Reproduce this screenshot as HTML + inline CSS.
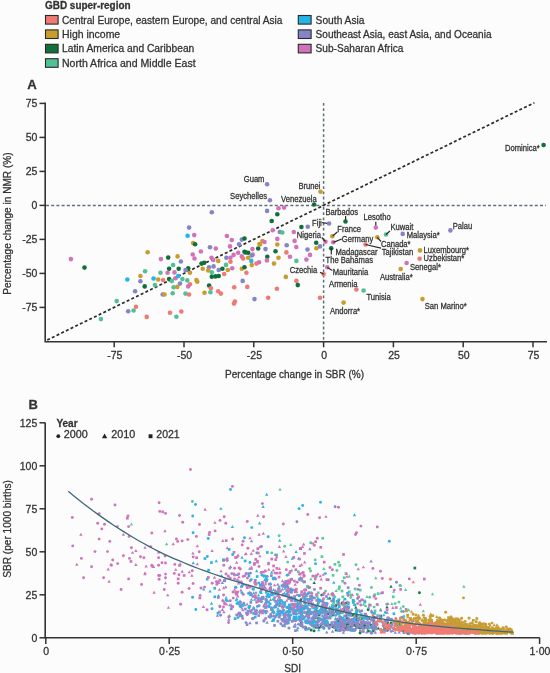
<!DOCTYPE html><html><head><meta charset="utf-8"><style>html,body{margin:0;padding:0;background:#fcfcfc;}svg{display:block;filter:blur(0.3px)}text{font-family:"Liberation Sans",sans-serif;fill:#333333;stroke:#333333;stroke-width:0.28px}</style></head><body>
<svg width="550" height="673" viewBox="0 0 550 673">
<text x="45" y="8.6" font-size="10" font-weight="bold" textLength="85.6" lengthAdjust="spacingAndGlyphs">GBD super-region</text>
<rect x="45.5" y="15.5" width="12.6" height="8.6" fill="#ef7a74" stroke="#2a2a2a" stroke-width="1.1"/>
<text x="62" y="23.5" font-size="10.4" textLength="220.5" lengthAdjust="spacingAndGlyphs">Central Europe, eastern Europe, and central Asia</text>
<rect x="45.5" y="29.9" width="12.6" height="8.6" fill="#c99c2e" stroke="#2a2a2a" stroke-width="1.1"/>
<text x="62" y="37.9" font-size="10.4" textLength="58.2" lengthAdjust="spacingAndGlyphs">High income</text>
<rect x="45.5" y="44.3" width="12.6" height="8.6" fill="#0f703a" stroke="#2a2a2a" stroke-width="1.1"/>
<text x="62" y="52.3" font-size="10.4" textLength="132.3" lengthAdjust="spacingAndGlyphs">Latin America and Caribbean</text>
<rect x="45.5" y="58.7" width="12.6" height="8.6" fill="#4fc194" stroke="#2a2a2a" stroke-width="1.1"/>
<text x="62" y="66.7" font-size="10.4" textLength="133.6" lengthAdjust="spacingAndGlyphs">North Africa and Middle East</text>
<rect x="298.3" y="15.5" width="12.8" height="8.6" fill="#22b5e5" stroke="#2a2a2a" stroke-width="1.1"/>
<text x="315.6" y="23.5" font-size="10.4" textLength="48.9" lengthAdjust="spacingAndGlyphs">South Asia</text>
<rect x="298.3" y="29.9" width="12.8" height="8.6" fill="#8584c8" stroke="#2a2a2a" stroke-width="1.1"/>
<text x="315.6" y="37.9" font-size="10.4" textLength="175.9" lengthAdjust="spacingAndGlyphs">Southeast Asia, east Asia, and Oceania</text>
<rect x="298.3" y="44.3" width="12.8" height="8.6" fill="#d272b8" stroke="#2a2a2a" stroke-width="1.1"/>
<text x="315.6" y="52.3" font-size="10.4" textLength="87.8" lengthAdjust="spacingAndGlyphs">Sub-Saharan Africa</text>
<text x="27.2" y="88.9" font-size="13.2" font-weight="bold" fill="#222">A</text>
<path d="M45.2 102.6 V341.8 H547" fill="none" stroke="#333" stroke-width="1.6"/>
<path d="M39.5 103.4 H45" stroke="#333" stroke-width="1.5"/>
<text x="37.4" y="107.2" font-size="10.5" text-anchor="end">75</text>
<path d="M39.5 137.4 H45" stroke="#333" stroke-width="1.5"/>
<text x="37.4" y="141.2" font-size="10.5" text-anchor="end">50</text>
<path d="M39.5 171.4 H45" stroke="#333" stroke-width="1.5"/>
<text x="37.4" y="175.2" font-size="10.5" text-anchor="end">25</text>
<path d="M39.5 205.4 H45" stroke="#333" stroke-width="1.5"/>
<text x="37.4" y="209.2" font-size="10.5" text-anchor="end">0</text>
<path d="M39.5 239.4 H45" stroke="#333" stroke-width="1.5"/>
<text x="37.4" y="243.2" font-size="10.5" text-anchor="end">-25</text>
<path d="M39.5 273.4 H45" stroke="#333" stroke-width="1.5"/>
<text x="37.4" y="277.2" font-size="10.5" text-anchor="end">-50</text>
<path d="M39.5 307.4 H45" stroke="#333" stroke-width="1.5"/>
<text x="37.4" y="311.2" font-size="10.5" text-anchor="end">-75</text>
<path d="M114.2 341.8 V347.3" stroke="#333" stroke-width="1.5"/>
<text x="114.8" y="358.5" font-size="10.5" text-anchor="middle">-75</text>
<path d="M184.0 341.8 V347.3" stroke="#333" stroke-width="1.5"/>
<text x="184.6" y="358.5" font-size="10.5" text-anchor="middle">-50</text>
<path d="M253.8 341.8 V347.3" stroke="#333" stroke-width="1.5"/>
<text x="254.4" y="358.5" font-size="10.5" text-anchor="middle">-25</text>
<path d="M323.6 341.8 V347.3" stroke="#333" stroke-width="1.5"/>
<text x="324.2" y="358.5" font-size="10.5" text-anchor="middle">0</text>
<path d="M393.4 341.8 V347.3" stroke="#333" stroke-width="1.5"/>
<text x="394.0" y="358.5" font-size="10.5" text-anchor="middle">25</text>
<path d="M463.2 341.8 V347.3" stroke="#333" stroke-width="1.5"/>
<text x="463.8" y="358.5" font-size="10.5" text-anchor="middle">50</text>
<path d="M533.0 341.8 V347.3" stroke="#333" stroke-width="1.5"/>
<text x="533.6" y="358.5" font-size="10.5" text-anchor="middle">75</text>
<text x="294.6" y="378.2" font-size="10" text-anchor="middle">Percentage change in SBR (%)</text>
<text transform="translate(11.2 223.6) rotate(-90)" font-size="10.1" text-anchor="middle">Percentage change in NMR (%)</text>
<path d="M323.6 103 V341" stroke="#5f7077" stroke-width="1.5" stroke-dasharray="2.8 2.4"/>
<path d="M46 205.4 H546" stroke="#5f7077" stroke-width="1.5" stroke-dasharray="3 2.2"/>
<path d="M47.2 340.0 L534.4 102.7" stroke="#2b2b2b" stroke-width="1.7" stroke-dasharray="3 2.2"/>
<circle cx="70.9" cy="259.1" r="2.3" fill="#d272b8"/>
<circle cx="84.5" cy="267.6" r="2.3" fill="#0f703a"/>
<circle cx="147.6" cy="252.2" r="2.3" fill="#c99c2e"/>
<circle cx="145.1" cy="271.3" r="2.3" fill="#4fc194"/>
<circle cx="140.4" cy="276.0" r="2.3" fill="#c99c2e"/>
<circle cx="127.3" cy="279.5" r="2.3" fill="#22b5e5"/>
<circle cx="140.4" cy="281.3" r="2.3" fill="#8584c8"/>
<circle cx="153.6" cy="278.5" r="2.3" fill="#22b5e5"/>
<circle cx="158.2" cy="279.5" r="2.3" fill="#c99c2e"/>
<circle cx="160.5" cy="272.8" r="2.3" fill="#4fc194"/>
<circle cx="144.7" cy="286.4" r="2.3" fill="#0f703a"/>
<circle cx="154.9" cy="285.1" r="2.3" fill="#4fc194"/>
<circle cx="135.1" cy="291.3" r="2.3" fill="#8584c8"/>
<circle cx="116.7" cy="301.1" r="2.3" fill="#4fc194"/>
<circle cx="136.0" cy="306.7" r="2.3" fill="#ef7a74"/>
<circle cx="128.2" cy="311.3" r="2.3" fill="#8584c8"/>
<circle cx="133.6" cy="310.5" r="2.3" fill="#4fc194"/>
<circle cx="146.7" cy="316.9" r="2.3" fill="#ef7a74"/>
<circle cx="100.9" cy="319.1" r="2.3" fill="#4fc194"/>
<circle cx="211.8" cy="212.2" r="2.3" fill="#8584c8"/>
<circle cx="189.1" cy="227.6" r="2.3" fill="#8584c8"/>
<circle cx="187.6" cy="235.8" r="2.3" fill="#22b5e5"/>
<circle cx="194.2" cy="235.1" r="2.3" fill="#d272b8"/>
<circle cx="193.1" cy="243.1" r="2.3" fill="#c99c2e"/>
<circle cx="195.1" cy="244.2" r="2.3" fill="#0f703a"/>
<circle cx="226.9" cy="236.0" r="2.3" fill="#d272b8"/>
<circle cx="231.8" cy="240.0" r="2.3" fill="#d272b8"/>
<circle cx="241.8" cy="239.6" r="2.3" fill="#8584c8"/>
<circle cx="244.5" cy="238.5" r="2.3" fill="#0f703a"/>
<circle cx="239.1" cy="244.2" r="2.3" fill="#8584c8"/>
<circle cx="230.0" cy="246.4" r="2.3" fill="#d272b8"/>
<circle cx="210.0" cy="247.3" r="2.3" fill="#8584c8"/>
<circle cx="215.8" cy="248.5" r="2.3" fill="#d272b8"/>
<circle cx="200.9" cy="251.5" r="2.3" fill="#d272b8"/>
<circle cx="192.7" cy="254.5" r="2.3" fill="#d272b8"/>
<circle cx="194.5" cy="258.5" r="2.3" fill="#d272b8"/>
<circle cx="168.2" cy="257.6" r="2.3" fill="#0f703a"/>
<circle cx="177.6" cy="256.4" r="2.3" fill="#c99c2e"/>
<circle cx="160.9" cy="259.1" r="2.3" fill="#d272b8"/>
<circle cx="180.9" cy="261.5" r="2.3" fill="#8584c8"/>
<circle cx="173.1" cy="265.0" r="2.3" fill="#4fc194"/>
<circle cx="169.1" cy="268.7" r="2.3" fill="#0f703a"/>
<circle cx="178.7" cy="268.7" r="2.3" fill="#0f703a"/>
<circle cx="211.5" cy="257.8" r="2.3" fill="#d272b8"/>
<circle cx="213.3" cy="260.0" r="2.3" fill="#d272b8"/>
<circle cx="218.2" cy="260.9" r="2.3" fill="#c99c2e"/>
<circle cx="201.5" cy="263.6" r="2.3" fill="#0f703a"/>
<circle cx="204.2" cy="262.7" r="2.3" fill="#0f703a"/>
<circle cx="226.4" cy="257.8" r="2.3" fill="#8584c8"/>
<circle cx="230.5" cy="257.8" r="2.3" fill="#d272b8"/>
<circle cx="233.6" cy="254.9" r="2.3" fill="#d272b8"/>
<circle cx="238.2" cy="252.7" r="2.3" fill="#d272b8"/>
<circle cx="230.5" cy="261.8" r="2.3" fill="#ef7a74"/>
<circle cx="244.5" cy="251.8" r="2.3" fill="#0f703a"/>
<circle cx="248.2" cy="252.7" r="2.3" fill="#0f703a"/>
<circle cx="241.8" cy="256.4" r="2.3" fill="#d272b8"/>
<circle cx="243.1" cy="258.5" r="2.3" fill="#ef7a74"/>
<circle cx="226.0" cy="264.9" r="2.3" fill="#4fc194"/>
<circle cx="213.6" cy="266.4" r="2.3" fill="#8584c8"/>
<circle cx="202.7" cy="268.7" r="2.3" fill="#c99c2e"/>
<circle cx="188.2" cy="268.2" r="2.3" fill="#0f703a"/>
<circle cx="241.8" cy="268.7" r="2.3" fill="#c99c2e"/>
<circle cx="244.5" cy="267.3" r="2.3" fill="#0f703a"/>
<circle cx="267.1" cy="184.2" r="2.3" fill="#8584c8"/>
<circle cx="269.9" cy="200.2" r="2.3" fill="#8584c8"/>
<circle cx="320.5" cy="191.8" r="2.3" fill="#c99c2e"/>
<circle cx="314.1" cy="204.5" r="2.3" fill="#0f703a"/>
<circle cx="345.5" cy="221.5" r="2.3" fill="#0f703a"/>
<circle cx="329.0" cy="223.5" r="2.3" fill="#8584c8"/>
<circle cx="332.3" cy="236.2" r="2.3" fill="#c99c2e"/>
<circle cx="325.5" cy="241.8" r="2.3" fill="#d272b8"/>
<circle cx="333.2" cy="242.2" r="2.3" fill="#d272b8"/>
<circle cx="278.5" cy="208.3" r="2.3" fill="#d272b8"/>
<circle cx="284.1" cy="207.6" r="2.3" fill="#d272b8"/>
<circle cx="267.1" cy="210.9" r="2.3" fill="#8584c8"/>
<circle cx="277.3" cy="214.2" r="2.3" fill="#0f703a"/>
<circle cx="271.7" cy="221.0" r="2.3" fill="#0f703a"/>
<circle cx="307.8" cy="226.7" r="2.3" fill="#8584c8"/>
<circle cx="301.4" cy="227.0" r="2.3" fill="#0f703a"/>
<circle cx="272.7" cy="230.2" r="2.3" fill="#d272b8"/>
<circle cx="279.8" cy="232.0" r="2.3" fill="#8584c8"/>
<circle cx="282.3" cy="232.5" r="2.3" fill="#4fc194"/>
<circle cx="293.8" cy="232.0" r="2.3" fill="#d272b8"/>
<circle cx="262.4" cy="241.0" r="2.3" fill="#c99c2e"/>
<circle cx="264.5" cy="242.0" r="2.3" fill="#d272b8"/>
<circle cx="259.4" cy="244.0" r="2.3" fill="#c99c2e"/>
<circle cx="277.3" cy="244.5" r="2.3" fill="#c99c2e"/>
<circle cx="277.3" cy="238.9" r="2.3" fill="#d272b8"/>
<circle cx="294.6" cy="240.9" r="2.3" fill="#d272b8"/>
<circle cx="286.7" cy="245.2" r="2.3" fill="#8584c8"/>
<circle cx="296.3" cy="247.0" r="2.3" fill="#d272b8"/>
<circle cx="316.2" cy="242.7" r="2.3" fill="#0f703a"/>
<circle cx="307.5" cy="249.5" r="2.3" fill="#8584c8"/>
<circle cx="331.2" cy="248.3" r="2.3" fill="#0f703a"/>
<circle cx="258.2" cy="248.5" r="2.3" fill="#0f703a"/>
<circle cx="260.0" cy="244.5" r="2.3" fill="#c99c2e"/>
<circle cx="265.5" cy="249.1" r="2.3" fill="#8584c8"/>
<circle cx="252.4" cy="249.1" r="2.3" fill="#d272b8"/>
<circle cx="245.5" cy="252.4" r="2.3" fill="#0f703a"/>
<circle cx="252.7" cy="254.5" r="2.3" fill="#d272b8"/>
<circle cx="275.5" cy="251.3" r="2.3" fill="#0f703a"/>
<circle cx="286.4" cy="252.4" r="2.3" fill="#ef7a74"/>
<circle cx="310.0" cy="254.9" r="2.3" fill="#d272b8"/>
<circle cx="316.4" cy="248.2" r="2.3" fill="#c99c2e"/>
<circle cx="320.0" cy="246.4" r="2.3" fill="#8584c8"/>
<circle cx="248.2" cy="257.8" r="2.3" fill="#c99c2e"/>
<circle cx="251.8" cy="255.5" r="2.3" fill="#8584c8"/>
<circle cx="267.3" cy="256.7" r="2.3" fill="#0f703a"/>
<circle cx="266.9" cy="260.4" r="2.3" fill="#d272b8"/>
<circle cx="278.5" cy="257.8" r="2.3" fill="#c99c2e"/>
<circle cx="290.0" cy="256.7" r="2.3" fill="#d272b8"/>
<circle cx="296.4" cy="260.9" r="2.3" fill="#4fc194"/>
<circle cx="306.4" cy="259.6" r="2.3" fill="#d272b8"/>
<circle cx="251.3" cy="260.9" r="2.3" fill="#22b5e5"/>
<circle cx="256.4" cy="263.6" r="2.3" fill="#ef7a74"/>
<circle cx="259.1" cy="262.2" r="2.3" fill="#d272b8"/>
<circle cx="251.8" cy="265.1" r="2.3" fill="#c99c2e"/>
<circle cx="274.0" cy="263.6" r="2.3" fill="#c99c2e"/>
<circle cx="246.4" cy="272.7" r="2.3" fill="#ef7a74"/>
<circle cx="323.6" cy="274.0" r="2.3" fill="#ef7a74"/>
<circle cx="285.8" cy="276.9" r="2.3" fill="#c99c2e"/>
<circle cx="296.4" cy="280.9" r="2.3" fill="#ef7a74"/>
<circle cx="297.8" cy="285.1" r="2.3" fill="#0f703a"/>
<circle cx="242.7" cy="280.9" r="2.3" fill="#8584c8"/>
<circle cx="247.3" cy="286.9" r="2.3" fill="#ef7a74"/>
<circle cx="276.9" cy="288.7" r="2.3" fill="#ef7a74"/>
<circle cx="254.5" cy="299.1" r="2.3" fill="#8584c8"/>
<circle cx="268.2" cy="297.8" r="2.3" fill="#ef7a74"/>
<circle cx="320.0" cy="297.8" r="2.3" fill="#ef7a74"/>
<circle cx="327.3" cy="267.3" r="2.3" fill="#d272b8"/>
<circle cx="167.6" cy="272.7" r="2.3" fill="#d272b8"/>
<circle cx="174.5" cy="272.4" r="2.3" fill="#d272b8"/>
<circle cx="185.5" cy="270.0" r="2.3" fill="#8584c8"/>
<circle cx="190.0" cy="272.7" r="2.3" fill="#c99c2e"/>
<circle cx="209.0" cy="267.3" r="2.3" fill="#8584c8"/>
<circle cx="208.2" cy="270.4" r="2.3" fill="#c99c2e"/>
<circle cx="218.7" cy="270.0" r="2.3" fill="#8584c8"/>
<circle cx="222.4" cy="268.7" r="2.3" fill="#0f703a"/>
<circle cx="227.8" cy="270.0" r="2.3" fill="#c99c2e"/>
<circle cx="232.2" cy="268.2" r="2.3" fill="#d272b8"/>
<circle cx="224.2" cy="274.0" r="2.3" fill="#ef7a74"/>
<circle cx="211.8" cy="272.4" r="2.3" fill="#4fc194"/>
<circle cx="211.8" cy="276.7" r="2.3" fill="#0f703a"/>
<circle cx="215.5" cy="276.4" r="2.3" fill="#0f703a"/>
<circle cx="218.7" cy="276.0" r="2.3" fill="#0f703a"/>
<circle cx="163.1" cy="280.0" r="2.3" fill="#ef7a74"/>
<circle cx="169.1" cy="279.1" r="2.3" fill="#0f703a"/>
<circle cx="171.8" cy="280.9" r="2.3" fill="#4fc194"/>
<circle cx="175.5" cy="278.2" r="2.3" fill="#d272b8"/>
<circle cx="178.2" cy="276.0" r="2.3" fill="#22b5e5"/>
<circle cx="182.4" cy="279.1" r="2.3" fill="#4fc194"/>
<circle cx="187.3" cy="280.4" r="2.3" fill="#4fc194"/>
<circle cx="196.4" cy="280.0" r="2.3" fill="#c99c2e"/>
<circle cx="197.3" cy="281.8" r="2.3" fill="#c99c2e"/>
<circle cx="180.0" cy="283.6" r="2.3" fill="#8584c8"/>
<circle cx="190.0" cy="284.2" r="2.3" fill="#ef7a74"/>
<circle cx="188.2" cy="286.4" r="2.3" fill="#d272b8"/>
<circle cx="173.6" cy="287.3" r="2.3" fill="#4fc194"/>
<circle cx="177.3" cy="286.9" r="2.3" fill="#c99c2e"/>
<circle cx="209.1" cy="285.5" r="2.3" fill="#0f703a"/>
<circle cx="210.9" cy="288.2" r="2.3" fill="#ef7a74"/>
<circle cx="234.2" cy="287.3" r="2.3" fill="#ef7a74"/>
<circle cx="162.7" cy="294.5" r="2.3" fill="#8584c8"/>
<circle cx="164.5" cy="294.5" r="2.3" fill="#c99c2e"/>
<circle cx="172.7" cy="293.3" r="2.3" fill="#4fc194"/>
<circle cx="185.5" cy="293.6" r="2.3" fill="#4fc194"/>
<circle cx="189.1" cy="294.5" r="2.3" fill="#ef7a74"/>
<circle cx="204.5" cy="292.7" r="2.3" fill="#c99c2e"/>
<circle cx="210.4" cy="292.2" r="2.3" fill="#4fc194"/>
<circle cx="218.2" cy="291.3" r="2.3" fill="#ef7a74"/>
<circle cx="220.9" cy="293.6" r="2.3" fill="#ef7a74"/>
<circle cx="234.9" cy="301.5" r="2.3" fill="#ef7a74"/>
<circle cx="234.0" cy="303.6" r="2.3" fill="#ef7a74"/>
<circle cx="170.0" cy="312.7" r="2.3" fill="#ef7a74"/>
<circle cx="181.3" cy="311.5" r="2.3" fill="#ef7a74"/>
<circle cx="176.4" cy="316.7" r="2.3" fill="#4fc194"/>
<circle cx="375.8" cy="227.6" r="2.3" fill="#d272b8"/>
<circle cx="386.0" cy="234.5" r="2.3" fill="#4fc194"/>
<circle cx="402.7" cy="233.9" r="2.3" fill="#8584c8"/>
<circle cx="377.3" cy="237.3" r="2.3" fill="#c99c2e"/>
<circle cx="365.5" cy="244.5" r="2.3" fill="#ef7a74"/>
<circle cx="406.6" cy="263.0" r="2.3" fill="#d272b8"/>
<circle cx="400.7" cy="269.0" r="2.3" fill="#c99c2e"/>
<circle cx="450.4" cy="230.4" r="2.3" fill="#8584c8"/>
<circle cx="420.0" cy="250.4" r="2.3" fill="#c99c2e"/>
<circle cx="419.6" cy="258.7" r="2.3" fill="#ef7a74"/>
<circle cx="356.4" cy="289.5" r="2.3" fill="#ef7a74"/>
<circle cx="363.6" cy="290.5" r="2.3" fill="#4fc194"/>
<circle cx="343.6" cy="302.6" r="2.3" fill="#c99c2e"/>
<circle cx="422.5" cy="299.1" r="2.3" fill="#c99c2e"/>
<circle cx="543.6" cy="145.0" r="2.3" fill="#0f703a"/>
<text x="264.5" y="181.6" font-size="8.2" text-anchor="end" textLength="20.8" lengthAdjust="spacingAndGlyphs">Guam</text>
<text x="267.0" y="199.4" font-size="8.2" text-anchor="end" textLength="36.9" lengthAdjust="spacingAndGlyphs">Seychelles</text>
<text x="320.5" y="188.5" font-size="8.2" text-anchor="end" textLength="22.0" lengthAdjust="spacingAndGlyphs">Brunei</text>
<text x="316.7" y="202.0" font-size="8.2" text-anchor="end" textLength="35.6" lengthAdjust="spacingAndGlyphs">Venezuela</text>
<text x="325.5" y="214.5" font-size="8.2" text-anchor="start" textLength="32.6" lengthAdjust="spacingAndGlyphs">Barbados</text>
<text x="321.8" y="225.5" font-size="8.2" text-anchor="end" textLength="9.7" lengthAdjust="spacingAndGlyphs">Fiji</text>
<text x="337.3" y="232.4" font-size="8.2" text-anchor="start" textLength="23.7" lengthAdjust="spacingAndGlyphs">France</text>
<text x="321.0" y="237.5" font-size="8.2" text-anchor="end" textLength="24.2" lengthAdjust="spacingAndGlyphs">Nigeria</text>
<text x="341.8" y="241.5" font-size="8.2" text-anchor="start" textLength="31.4" lengthAdjust="spacingAndGlyphs">Germany</text>
<text x="363.6" y="220.0" font-size="8.2" text-anchor="start" textLength="27.1" lengthAdjust="spacingAndGlyphs">Lesotho</text>
<text x="390.5" y="229.5" font-size="8.2" text-anchor="start" textLength="22.9" lengthAdjust="spacingAndGlyphs">Kuwait</text>
<text x="406.7" y="237.6" font-size="8.2" text-anchor="start" textLength="33.1" lengthAdjust="spacingAndGlyphs">Malaysia*</text>
<text x="452.7" y="228.5" font-size="8.2" text-anchor="start" textLength="19.5" lengthAdjust="spacingAndGlyphs">Palau</text>
<text x="380.9" y="247.0" font-size="8.2" text-anchor="start" textLength="29.7" lengthAdjust="spacingAndGlyphs">Canada*</text>
<text x="381.8" y="255.0" font-size="8.2" text-anchor="start" textLength="31.4" lengthAdjust="spacingAndGlyphs">Tajikistan</text>
<text x="335.5" y="255.0" font-size="8.2" text-anchor="start" textLength="42.0" lengthAdjust="spacingAndGlyphs">Madagascar</text>
<text x="325.5" y="263.0" font-size="8.2" text-anchor="start" textLength="47.5" lengthAdjust="spacingAndGlyphs">The Bahamas</text>
<text x="423.6" y="252.5" font-size="8.2" text-anchor="start" textLength="45.4" lengthAdjust="spacingAndGlyphs">Luxembourg*</text>
<text x="423.6" y="260.8" font-size="8.2" text-anchor="start" textLength="40.7" lengthAdjust="spacingAndGlyphs">Uzbekistan*</text>
<text x="410.0" y="270.0" font-size="8.2" text-anchor="start" textLength="31.0" lengthAdjust="spacingAndGlyphs">Senegal*</text>
<text x="380.0" y="279.5" font-size="8.2" text-anchor="start" textLength="32.6" lengthAdjust="spacingAndGlyphs">Australia*</text>
<text x="317.3" y="273.0" font-size="8.2" text-anchor="end" textLength="27.6" lengthAdjust="spacingAndGlyphs">Czechia</text>
<text x="332.7" y="274.8" font-size="8.2" text-anchor="start" textLength="35.6" lengthAdjust="spacingAndGlyphs">Mauritania</text>
<text x="329.1" y="286.5" font-size="8.2" text-anchor="start" textLength="28.4" lengthAdjust="spacingAndGlyphs">Armenia</text>
<text x="366.4" y="299.8" font-size="8.2" text-anchor="start" textLength="24.3" lengthAdjust="spacingAndGlyphs">Tunisia</text>
<text x="330.0" y="313.5" font-size="8.2" text-anchor="start" textLength="30.1" lengthAdjust="spacingAndGlyphs">Andorra*</text>
<text x="424.7" y="308.7" font-size="8.2" text-anchor="start" textLength="42.0" lengthAdjust="spacingAndGlyphs">San Marino*</text>
<text x="539.8" y="150.7" font-size="8.2" text-anchor="end" textLength="34.8" lengthAdjust="spacingAndGlyphs">Dominica*</text>
<path d="M345.6 216.0 L345.6 220.0" stroke="#2a2a2a" stroke-width="1.2"/>
<path d="M321.8 222.5 L327.0 223.4" stroke="#2a2a2a" stroke-width="1.2"/>
<path d="M337.3 232.0 L332.7 236.0" stroke="#2a2a2a" stroke-width="1.2"/>
<path d="M321.8 237.5 L325.5 241.5" stroke="#2a2a2a" stroke-width="1.2"/>
<path d="M341.8 239.0 L333.3 242.4" stroke="#2a2a2a" stroke-width="1.2"/>
<path d="M375.8 221.8 L375.8 225.5" stroke="#2a2a2a" stroke-width="1.2"/>
<path d="M390.0 231.0 L386.0 234.5" stroke="#2a2a2a" stroke-width="1.2"/>
<path d="M377.3 237.3 L381.0 241.5" stroke="#2a2a2a" stroke-width="1.2"/>
<path d="M365.5 244.5 L381.0 248.2" stroke="#2a2a2a" stroke-width="1.2"/>
<path d="M331.3 248.2 L331.3 254.5" stroke="#2a2a2a" stroke-width="1.2"/>
<path d="M327.3 267.4 L332.3 270.5" stroke="#2a2a2a" stroke-width="1.2"/>
<path d="M320.0 272.3 L323.6 274.1" stroke="#2a2a2a" stroke-width="1.2"/>
<text x="28.6" y="408.6" font-size="13" font-weight="bold" fill="#222">B</text>
<path d="M45.2 422.4 V637.8 H539.8" fill="none" stroke="#333" stroke-width="1.6"/>
<path d="M39.5 422.8 H45" stroke="#333" stroke-width="1.5"/>
<text x="37.3" y="426.6" font-size="10.5" text-anchor="end">125</text>
<path d="M39.5 465.8 H45" stroke="#333" stroke-width="1.5"/>
<text x="37.3" y="469.6" font-size="10.5" text-anchor="end">100</text>
<path d="M39.5 508.8 H45" stroke="#333" stroke-width="1.5"/>
<text x="37.3" y="512.6" font-size="10.5" text-anchor="end">75</text>
<path d="M39.5 551.8 H45" stroke="#333" stroke-width="1.5"/>
<text x="37.3" y="555.6" font-size="10.5" text-anchor="end">50</text>
<path d="M39.5 594.8 H45" stroke="#333" stroke-width="1.5"/>
<text x="37.3" y="598.6" font-size="10.5" text-anchor="end">25</text>
<path d="M39.5 637.8 H45" stroke="#333" stroke-width="1.5"/>
<text x="37.3" y="641.6" font-size="10.5" text-anchor="end">0</text>
<path d="M45.8 637.8 V644" stroke="#333" stroke-width="1.5"/>
<text x="46.1" y="654.8" font-size="10.5" text-anchor="middle">0</text>
<path d="M169.2 637.8 V644" stroke="#333" stroke-width="1.5"/>
<text x="169.6" y="654.8" font-size="10.5" text-anchor="middle">0·25</text>
<path d="M292.7 637.8 V644" stroke="#333" stroke-width="1.5"/>
<text x="293.0" y="654.8" font-size="10.5" text-anchor="middle">0·50</text>
<path d="M416.2 637.8 V644" stroke="#333" stroke-width="1.5"/>
<text x="416.5" y="654.8" font-size="10.5" text-anchor="middle">0·75</text>
<path d="M539.6 637.8 V644" stroke="#333" stroke-width="1.5"/>
<text x="539.9" y="654.8" font-size="10.5" text-anchor="middle">1·00</text>
<text x="292.7" y="672" font-size="10" text-anchor="middle">SDI</text>
<text transform="translate(11.4 528.9) rotate(-90)" font-size="10.1" text-anchor="middle">SBR (per 1000 births)</text>
<text x="56.4" y="426.5" font-size="10" font-weight="bold">Year</text>
<circle cx="58.3" cy="436.2" r="1.9" fill="#222"/><text x="63.8" y="438.4" font-size="10.4" textLength="24" lengthAdjust="spacingAndGlyphs">2000</text>
<path d="M101.9 438.3 L107.3 438.3 L104.6 433.6 Z" fill="#222"/><text x="111.2" y="438.4" font-size="10.4" textLength="24" lengthAdjust="spacingAndGlyphs">2010</text>
<rect x="148.6" y="434.3" width="3.9" height="3.9" fill="#222"/><text x="156.3" y="438.4" font-size="10.4" textLength="23.4" lengthAdjust="spacingAndGlyphs">2021</text>
<g><circle cx="356.0" cy="564.8" r="1.45" fill="#5cc89e"/><path d="M354.2 599.1l1.67 2.97h-3.33z" fill="#5cc89e"/><circle cx="271.8" cy="552.9" r="1.45" fill="#5cc89e"/><circle cx="367.6" cy="628.3" r="1.45" fill="#1a7a44"/><rect x="373.7" y="609.5" width="2.67" height="2.67" fill="#5cc89e"/><circle cx="350.8" cy="597.4" r="1.45" fill="#5cc89e"/><rect x="320.0" y="611.5" width="2.67" height="2.67" fill="#5cc89e"/><circle cx="350.7" cy="622.2" r="1.45" fill="#5cc89e"/><path d="M354.1 603.1l1.67 2.97h-3.33z" fill="#5cc89e"/><path d="M332.9 606.0l1.67 2.97h-3.33z" fill="#1a7a44"/><circle cx="401.5" cy="611.5" r="1.45" fill="#5cc89e"/><path d="M314.2 581.0l1.67 2.97h-3.33z" fill="#1a7a44"/><rect x="345.9" y="600.8" width="2.67" height="2.67" fill="#5cc89e"/><path d="M381.9 629.8l1.67 2.97h-3.33z" fill="#1a7a44"/><rect x="331.0" y="610.6" width="2.67" height="2.67" fill="#1a7a44"/><circle cx="351.8" cy="609.9" r="1.45" fill="#5cc89e"/><rect x="328.1" y="610.0" width="2.67" height="2.67" fill="#5cc89e"/><rect x="309.8" y="628.7" width="2.67" height="2.67" fill="#1a7a44"/><path d="M373.1 629.0l1.67 2.97h-3.33z" fill="#1a7a44"/><circle cx="364.0" cy="624.0" r="1.45" fill="#1a7a44"/><circle cx="339.2" cy="605.7" r="1.45" fill="#5cc89e"/><rect x="372.1" y="628.4" width="2.67" height="2.67" fill="#1a7a44"/><circle cx="346.2" cy="628.5" r="1.45" fill="#1a7a44"/><rect x="325.8" y="611.9" width="2.67" height="2.67" fill="#5cc89e"/><rect x="411.1" y="629.5" width="2.67" height="2.67" fill="#1a7a44"/><circle cx="374.1" cy="607.1" r="1.45" fill="#5cc89e"/><circle cx="395.2" cy="603.6" r="1.45" fill="#5cc89e"/><path d="M347.5 611.5l1.67 2.97h-3.33z" fill="#1a7a44"/><path d="M377.7 602.9l1.67 2.97h-3.33z" fill="#5cc89e"/><circle cx="307.4" cy="612.7" r="1.45" fill="#1a7a44"/><path d="M324.8 618.9l1.67 2.97h-3.33z" fill="#1a7a44"/><path d="M369.3 616.7l1.67 2.97h-3.33z" fill="#1a7a44"/><path d="M341.2 622.0l1.67 2.97h-3.33z" fill="#1a7a44"/><circle cx="355.6" cy="618.0" r="1.45" fill="#5cc89e"/><path d="M338.1 610.2l1.67 2.97h-3.33z" fill="#1a7a44"/><circle cx="287.7" cy="562.1" r="1.45" fill="#5cc89e"/><path d="M319.6 609.2l1.67 2.97h-3.33z" fill="#1a7a44"/><rect x="339.5" y="611.4" width="2.67" height="2.67" fill="#1a7a44"/><circle cx="321.1" cy="626.5" r="1.45" fill="#1a7a44"/><circle cx="336.7" cy="604.8" r="1.45" fill="#5cc89e"/><rect x="402.3" y="629.4" width="2.67" height="2.67" fill="#1a7a44"/><path d="M357.6 613.1l1.67 2.97h-3.33z" fill="#5cc89e"/><rect x="344.5" y="623.8" width="2.67" height="2.67" fill="#1a7a44"/><path d="M356.8 609.2l1.67 2.97h-3.33z" fill="#5cc89e"/><path d="M388.0 626.5l1.67 2.97h-3.33z" fill="#1a7a44"/><circle cx="345.7" cy="625.5" r="1.45" fill="#1a7a44"/><rect x="354.6" y="624.0" width="2.67" height="2.67" fill="#1a7a44"/><path d="M318.0 601.3l1.67 2.97h-3.33z" fill="#1a7a44"/><path d="M310.9 577.4l1.67 2.97h-3.33z" fill="#5cc89e"/><rect x="317.8" y="613.7" width="2.67" height="2.67" fill="#1a7a44"/><circle cx="403.5" cy="616.7" r="1.45" fill="#5cc89e"/><circle cx="353.5" cy="614.4" r="1.45" fill="#1a7a44"/><path d="M364.4 623.4l1.67 2.97h-3.33z" fill="#1a7a44"/><circle cx="367.5" cy="627.3" r="1.45" fill="#1a7a44"/><rect x="317.0" y="626.0" width="2.67" height="2.67" fill="#1a7a44"/><path d="M335.5 622.6l1.67 2.97h-3.33z" fill="#1a7a44"/><path d="M367.0 595.1l1.67 2.97h-3.33z" fill="#5cc89e"/><path d="M372.4 625.2l1.67 2.97h-3.33z" fill="#1a7a44"/><rect x="372.8" y="616.1" width="2.67" height="2.67" fill="#1a7a44"/><circle cx="432.8" cy="626.4" r="1.45" fill="#5cc89e"/><rect x="376.3" y="614.2" width="2.67" height="2.67" fill="#5cc89e"/><path d="M375.8 576.3l1.67 2.97h-3.33z" fill="#5cc89e"/><circle cx="358.0" cy="626.7" r="1.45" fill="#1a7a44"/><rect x="333.6" y="563.0" width="2.67" height="2.67" fill="#5cc89e"/><rect x="311.3" y="606.5" width="2.67" height="2.67" fill="#5cc89e"/><path d="M365.5 623.7l1.67 2.97h-3.33z" fill="#1a7a44"/><circle cx="403.3" cy="606.6" r="1.45" fill="#5cc89e"/><circle cx="348.5" cy="624.1" r="1.45" fill="#1a7a44"/><circle cx="325.5" cy="591.1" r="1.45" fill="#5cc89e"/><rect x="309.0" y="612.4" width="2.67" height="2.67" fill="#1a7a44"/><rect x="341.5" y="602.8" width="2.67" height="2.67" fill="#1a7a44"/><rect x="338.4" y="564.1" width="2.67" height="2.67" fill="#5cc89e"/><circle cx="325.2" cy="624.6" r="1.45" fill="#1a7a44"/><circle cx="371.8" cy="627.6" r="1.45" fill="#1a7a44"/><circle cx="315.2" cy="559.9" r="1.45" fill="#5cc89e"/><circle cx="394.0" cy="620.8" r="1.45" fill="#5cc89e"/><circle cx="383.9" cy="626.5" r="1.45" fill="#1a7a44"/><rect x="296.9" y="608.3" width="2.67" height="2.67" fill="#1a7a44"/><rect x="342.8" y="576.4" width="2.67" height="2.67" fill="#5cc89e"/><rect x="347.9" y="590.5" width="2.67" height="2.67" fill="#5cc89e"/><rect x="336.6" y="620.0" width="2.67" height="2.67" fill="#1a7a44"/><rect x="297.0" y="570.4" width="2.67" height="2.67" fill="#5cc89e"/><rect x="391.9" y="595.5" width="2.67" height="2.67" fill="#5cc89e"/><path d="M347.9 627.5l1.67 2.97h-3.33z" fill="#1a7a44"/><rect x="341.4" y="579.9" width="2.67" height="2.67" fill="#5cc89e"/><path d="M378.2 626.6l1.67 2.97h-3.33z" fill="#1a7a44"/><rect x="322.7" y="617.5" width="2.67" height="2.67" fill="#1a7a44"/><path d="M407.6 630.7l1.67 2.97h-3.33z" fill="#1a7a44"/><circle cx="350.5" cy="594.8" r="1.45" fill="#5cc89e"/><path d="M356.2 625.7l1.67 2.97h-3.33z" fill="#1a7a44"/><rect x="420.2" y="631.3" width="2.67" height="2.67" fill="#1a7a44"/><circle cx="347.2" cy="623.8" r="1.45" fill="#1a7a44"/><rect x="342.8" y="609.2" width="2.67" height="2.67" fill="#1a7a44"/><circle cx="361.7" cy="627.5" r="1.45" fill="#1a7a44"/><path d="M387.0 605.4l1.67 2.97h-3.33z" fill="#1a7a44"/><rect x="344.6" y="572.2" width="2.67" height="2.67" fill="#5cc89e"/><circle cx="374.4" cy="628.0" r="1.45" fill="#1a7a44"/><rect x="317.0" y="611.8" width="2.67" height="2.67" fill="#1a7a44"/><rect x="337.5" y="602.3" width="2.67" height="2.67" fill="#5cc89e"/><path d="M342.1 624.5l1.67 2.97h-3.33z" fill="#1a7a44"/><path d="M314.8 609.2l1.67 2.97h-3.33z" fill="#1a7a44"/><circle cx="309.6" cy="568.6" r="1.45" fill="#5cc89e"/><rect x="337.6" y="587.6" width="2.67" height="2.67" fill="#5cc89e"/><path d="M340.7 608.3l1.67 2.97h-3.33z" fill="#5cc89e"/><rect x="336.2" y="609.2" width="2.67" height="2.67" fill="#1a7a44"/><path d="M423.3 609.4l1.67 2.97h-3.33z" fill="#5cc89e"/><circle cx="335.8" cy="605.8" r="1.45" fill="#1a7a44"/><rect x="304.4" y="626.5" width="2.67" height="2.67" fill="#1a7a44"/><rect x="302.5" y="605.5" width="2.67" height="2.67" fill="#1a7a44"/><rect x="326.6" y="612.5" width="2.67" height="2.67" fill="#1a7a44"/><circle cx="311.2" cy="623.6" r="1.45" fill="#1a7a44"/><path d="M355.8 605.8l1.67 2.97h-3.33z" fill="#1a7a44"/><path d="M326.1 621.6l1.67 2.97h-3.33z" fill="#1a7a44"/><rect x="351.7" y="628.8" width="2.67" height="2.67" fill="#1a7a44"/><circle cx="346.6" cy="613.3" r="1.45" fill="#5cc89e"/><circle cx="426.4" cy="627.6" r="1.45" fill="#5cc89e"/><circle cx="319.0" cy="602.5" r="1.45" fill="#5cc89e"/><rect x="321.6" y="599.1" width="2.67" height="2.67" fill="#5cc89e"/><rect x="342.2" y="622.8" width="2.67" height="2.67" fill="#1a7a44"/><rect x="330.4" y="593.1" width="2.67" height="2.67" fill="#5cc89e"/><rect x="340.7" y="589.7" width="2.67" height="2.67" fill="#5cc89e"/><rect x="368.1" y="603.5" width="2.67" height="2.67" fill="#5cc89e"/><rect x="339.0" y="625.1" width="2.67" height="2.67" fill="#1a7a44"/><path d="M361.5 623.8l1.67 2.97h-3.33z" fill="#1a7a44"/><rect x="366.1" y="617.6" width="2.67" height="2.67" fill="#5cc89e"/><circle cx="369.7" cy="597.2" r="1.45" fill="#5cc89e"/><rect x="358.9" y="588.8" width="2.67" height="2.67" fill="#5cc89e"/><rect x="320.6" y="555.3" width="2.67" height="2.67" fill="#5cc89e"/><circle cx="305.4" cy="595.7" r="1.45" fill="#5cc89e"/><path d="M336.2 589.1l1.67 2.97h-3.33z" fill="#5cc89e"/><path d="M360.2 623.3l1.67 2.97h-3.33z" fill="#5cc89e"/><circle cx="287.9" cy="595.2" r="1.45" fill="#5cc89e"/><rect x="350.7" y="613.9" width="2.67" height="2.67" fill="#1a7a44"/><rect x="338.1" y="585.5" width="2.67" height="2.67" fill="#5cc89e"/><path d="M363.9 616.3l1.67 2.97h-3.33z" fill="#5cc89e"/><rect x="395.2" y="623.3" width="2.67" height="2.67" fill="#1a7a44"/><circle cx="339.6" cy="616.3" r="1.45" fill="#5cc89e"/><circle cx="300.9" cy="599.8" r="1.45" fill="#1a7a44"/><rect x="288.0" y="606.6" width="2.67" height="2.67" fill="#1a7a44"/><rect x="355.9" y="618.6" width="2.67" height="2.67" fill="#5cc89e"/><circle cx="333.6" cy="603.4" r="1.45" fill="#5cc89e"/><path d="M289.9 595.4l1.67 2.97h-3.33z" fill="#1a7a44"/><circle cx="357.7" cy="578.7" r="1.45" fill="#5cc89e"/><circle cx="371.4" cy="587.5" r="1.45" fill="#5cc89e"/><path d="M359.5 623.0l1.67 2.97h-3.33z" fill="#1a7a44"/><path d="M418.6 630.1l1.67 2.97h-3.33z" fill="#1a7a44"/><path d="M329.8 596.6l1.67 2.97h-3.33z" fill="#1a7a44"/><circle cx="368.1" cy="609.8" r="1.45" fill="#1a7a44"/><rect x="309.4" y="541.4" width="2.67" height="2.67" fill="#5cc89e"/><rect x="376.8" y="592.3" width="2.67" height="2.67" fill="#5cc89e"/><path d="M333.6 593.1l1.67 2.97h-3.33z" fill="#5cc89e"/><path d="M307.2 584.5l1.67 2.97h-3.33z" fill="#5cc89e"/><path d="M326.4 623.5l1.67 2.97h-3.33z" fill="#1a7a44"/><path d="M404.0 614.2l1.67 2.97h-3.33z" fill="#5cc89e"/><rect x="299.8" y="624.0" width="2.67" height="2.67" fill="#1a7a44"/><circle cx="345.5" cy="603.4" r="1.45" fill="#1a7a44"/><rect x="314.3" y="605.2" width="2.67" height="2.67" fill="#1a7a44"/><rect x="300.4" y="579.2" width="2.67" height="2.67" fill="#5cc89e"/><path d="M359.0 608.3l1.67 2.97h-3.33z" fill="#5cc89e"/><rect x="314.1" y="575.3" width="2.67" height="2.67" fill="#5cc89e"/><path d="M380.6 607.7l1.67 2.97h-3.33z" fill="#5cc89e"/><rect x="337.3" y="599.3" width="2.67" height="2.67" fill="#5cc89e"/><rect x="384.6" y="628.4" width="2.67" height="2.67" fill="#1a7a44"/><circle cx="357.3" cy="594.5" r="1.45" fill="#5cc89e"/><path d="M393.7 589.9l1.67 2.97h-3.33z" fill="#5cc89e"/><rect x="343.3" y="625.9" width="2.67" height="2.67" fill="#1a7a44"/><rect x="314.8" y="575.0" width="2.67" height="2.67" fill="#5cc89e"/><path d="M333.0 613.4l1.67 2.97h-3.33z" fill="#1a7a44"/><circle cx="314.6" cy="626.2" r="1.45" fill="#1a7a44"/><rect x="384.8" y="619.9" width="2.67" height="2.67" fill="#1a7a44"/><circle cx="361.4" cy="622.5" r="1.45" fill="#1a7a44"/><rect x="394.2" y="622.6" width="2.67" height="2.67" fill="#1a7a44"/><circle cx="342.4" cy="612.9" r="1.45" fill="#5cc89e"/><circle cx="381.1" cy="617.1" r="1.45" fill="#5cc89e"/><circle cx="342.3" cy="603.0" r="1.45" fill="#1a7a44"/><rect x="367.1" y="629.7" width="2.67" height="2.67" fill="#1a7a44"/><rect x="333.6" y="626.0" width="2.67" height="2.67" fill="#1a7a44"/><rect x="307.1" y="614.7" width="2.67" height="2.67" fill="#1a7a44"/><circle cx="342.9" cy="620.2" r="1.45" fill="#5cc89e"/><rect x="373.4" y="593.4" width="2.67" height="2.67" fill="#5cc89e"/><path d="M338.6 600.8l1.67 2.97h-3.33z" fill="#1a7a44"/><rect x="334.8" y="628.7" width="2.67" height="2.67" fill="#1a7a44"/><rect x="306.4" y="585.0" width="2.67" height="2.67" fill="#5cc89e"/><circle cx="321.7" cy="595.1" r="1.45" fill="#1a7a44"/><path d="M291.8 568.5l1.67 2.97h-3.33z" fill="#5cc89e"/><circle cx="330.4" cy="625.0" r="1.45" fill="#1a7a44"/><path d="M318.4 619.4l1.67 2.97h-3.33z" fill="#1a7a44"/><circle cx="386.5" cy="621.8" r="1.45" fill="#5cc89e"/><rect x="398.4" y="623.0" width="2.67" height="2.67" fill="#1a7a44"/><circle cx="360.1" cy="633.0" r="1.45" fill="#1a7a44"/><rect x="360.5" y="614.8" width="2.67" height="2.67" fill="#5cc89e"/><circle cx="343.5" cy="605.3" r="1.45" fill="#5cc89e"/><rect x="362.1" y="626.8" width="2.67" height="2.67" fill="#1a7a44"/><rect x="336.3" y="621.5" width="2.67" height="2.67" fill="#1a7a44"/><circle cx="338.6" cy="562.3" r="1.45" fill="#5cc89e"/><rect x="345.9" y="618.3" width="2.67" height="2.67" fill="#1a7a44"/><rect x="389.9" y="621.7" width="2.67" height="2.67" fill="#1a7a44"/><circle cx="336.4" cy="611.7" r="1.45" fill="#1a7a44"/><rect x="341.5" y="595.5" width="2.67" height="2.67" fill="#5cc89e"/><circle cx="347.4" cy="618.2" r="1.45" fill="#1a7a44"/><circle cx="316.4" cy="610.7" r="1.45" fill="#1a7a44"/><path d="M404.1 625.6l1.67 2.97h-3.33z" fill="#1a7a44"/><rect x="386.4" y="621.6" width="2.67" height="2.67" fill="#1a7a44"/><path d="M353.3 601.0l1.67 2.97h-3.33z" fill="#5cc89e"/><circle cx="337.7" cy="609.3" r="1.45" fill="#5cc89e"/><path d="M325.5 608.0l1.67 2.97h-3.33z" fill="#5cc89e"/><circle cx="425.6" cy="620.5" r="1.45" fill="#5cc89e"/><rect x="331.7" y="574.0" width="2.67" height="2.67" fill="#5cc89e"/><circle cx="329.4" cy="617.6" r="1.45" fill="#5cc89e"/><rect x="300.0" y="621.6" width="2.67" height="2.67" fill="#1a7a44"/><circle cx="324.9" cy="609.4" r="1.45" fill="#1a7a44"/><rect x="315.1" y="624.5" width="2.67" height="2.67" fill="#1a7a44"/><path d="M323.9 567.1l1.67 2.97h-3.33z" fill="#5cc89e"/><path d="M321.3 606.9l1.67 2.97h-3.33z" fill="#5cc89e"/><path d="M391.9 602.1l1.67 2.97h-3.33z" fill="#5cc89e"/><path d="M290.8 543.0l1.67 2.97h-3.33z" fill="#5cc89e"/><path d="M300.7 546.7l1.67 2.97h-3.33z" fill="#1a7a44"/><rect x="379.4" y="614.7" width="2.67" height="2.67" fill="#1a7a44"/><circle cx="356.7" cy="619.8" r="1.45" fill="#1a7a44"/><path d="M363.6 602.7l1.67 2.97h-3.33z" fill="#5cc89e"/><path d="M366.7 614.8l1.67 2.97h-3.33z" fill="#1a7a44"/><circle cx="311.2" cy="592.8" r="1.45" fill="#5cc89e"/><circle cx="343.0" cy="626.6" r="1.45" fill="#1a7a44"/><circle cx="398.9" cy="602.1" r="1.45" fill="#5cc89e"/><rect x="353.8" y="587.6" width="2.67" height="2.67" fill="#5cc89e"/><path d="M397.5 626.1l1.67 2.97h-3.33z" fill="#1a7a44"/><circle cx="371.2" cy="625.3" r="1.45" fill="#1a7a44"/><circle cx="356.2" cy="616.4" r="1.45" fill="#1a7a44"/><rect x="315.8" y="595.2" width="2.67" height="2.67" fill="#5cc89e"/><path d="M406.1 623.3l1.67 2.97h-3.33z" fill="#1a7a44"/><rect x="379.2" y="619.6" width="2.67" height="2.67" fill="#1a7a44"/><circle cx="334.7" cy="597.0" r="1.45" fill="#5cc89e"/><rect x="358.2" y="626.3" width="2.67" height="2.67" fill="#1a7a44"/><rect x="364.3" y="615.4" width="2.67" height="2.67" fill="#5cc89e"/><path d="M319.0 625.7l1.67 2.97h-3.33z" fill="#1a7a44"/><path d="M400.8 583.8l1.67 2.97h-3.33z" fill="#5cc89e"/><circle cx="340.5" cy="629.8" r="1.45" fill="#1a7a44"/><circle cx="367.6" cy="623.3" r="1.45" fill="#1a7a44"/><circle cx="403.8" cy="618.9" r="1.45" fill="#5cc89e"/><path d="M342.5 619.5l1.67 2.97h-3.33z" fill="#1a7a44"/><path d="M335.6 625.2l1.67 2.97h-3.33z" fill="#1a7a44"/><circle cx="387.6" cy="630.2" r="1.45" fill="#1a7a44"/><path d="M336.0 621.0l1.67 2.97h-3.33z" fill="#1a7a44"/><path d="M333.0 609.5l1.67 2.97h-3.33z" fill="#1a7a44"/><circle cx="400.0" cy="585.5" r="1.45" fill="#5cc89e"/><rect x="344.7" y="614.8" width="2.67" height="2.67" fill="#1a7a44"/><path d="M361.7 616.7l1.67 2.97h-3.33z" fill="#1a7a44"/><path d="M359.1 615.9l1.67 2.97h-3.33z" fill="#5cc89e"/><path d="M337.8 618.0l1.67 2.97h-3.33z" fill="#1a7a44"/><path d="M365.7 604.1l1.67 2.97h-3.33z" fill="#5cc89e"/><circle cx="323.6" cy="627.6" r="1.45" fill="#1a7a44"/><circle cx="310.6" cy="571.0" r="1.45" fill="#5cc89e"/><rect x="324.0" y="606.7" width="2.67" height="2.67" fill="#1a7a44"/><circle cx="356.0" cy="625.7" r="1.45" fill="#1a7a44"/><circle cx="336.9" cy="570.5" r="1.45" fill="#5cc89e"/><path d="M408.7 608.2l1.67 2.97h-3.33z" fill="#5cc89e"/><circle cx="332.6" cy="626.7" r="1.45" fill="#1a7a44"/><circle cx="347.5" cy="627.0" r="1.45" fill="#1a7a44"/><path d="M365.1 598.7l1.67 2.97h-3.33z" fill="#5cc89e"/><rect x="404.6" y="630.4" width="2.67" height="2.67" fill="#1a7a44"/><circle cx="360.3" cy="616.8" r="1.45" fill="#5cc89e"/><rect x="330.9" y="604.1" width="2.67" height="2.67" fill="#5cc89e"/><circle cx="318.5" cy="618.5" r="1.45" fill="#1a7a44"/><rect x="387.8" y="624.9" width="2.67" height="2.67" fill="#1a7a44"/><circle cx="325.3" cy="610.6" r="1.45" fill="#1a7a44"/><circle cx="386.8" cy="604.2" r="1.45" fill="#5cc89e"/><rect x="316.4" y="624.4" width="2.67" height="2.67" fill="#1a7a44"/><path d="M394.5 626.7l1.67 2.97h-3.33z" fill="#1a7a44"/><path d="M387.9 623.3l1.67 2.97h-3.33z" fill="#1a7a44"/><circle cx="315.7" cy="617.8" r="1.45" fill="#1a7a44"/><circle cx="362.6" cy="626.2" r="1.45" fill="#1a7a44"/><rect x="362.8" y="626.5" width="2.67" height="2.67" fill="#1a7a44"/><circle cx="314.1" cy="630.9" r="1.45" fill="#1a7a44"/><rect x="353.1" y="623.6" width="2.67" height="2.67" fill="#1a7a44"/><path d="M404.9 624.9l1.67 2.97h-3.33z" fill="#1a7a44"/><circle cx="350.4" cy="626.8" r="1.45" fill="#1a7a44"/><rect x="316.9" y="591.5" width="2.67" height="2.67" fill="#5cc89e"/><path d="M408.4 631.7l1.67 2.97h-3.33z" fill="#1a7a44"/><path d="M400.7 606.5l1.67 2.97h-3.33z" fill="#5cc89e"/><path d="M340.1 620.8l1.67 2.97h-3.33z" fill="#5cc89e"/><rect x="383.3" y="626.8" width="2.67" height="2.67" fill="#1a7a44"/><path d="M339.4 617.7l1.67 2.97h-3.33z" fill="#1a7a44"/><circle cx="284.7" cy="546.3" r="1.45" fill="#5cc89e"/><rect x="398.9" y="628.7" width="2.67" height="2.67" fill="#1a7a44"/><path d="M349.2 574.5l1.67 2.97h-3.33z" fill="#5cc89e"/><rect x="372.5" y="620.0" width="2.67" height="2.67" fill="#1a7a44"/><rect x="314.7" y="625.8" width="2.67" height="2.67" fill="#1a7a44"/><path d="M324.4 616.2l1.67 2.97h-3.33z" fill="#30b2e2"/><rect x="375.2" y="616.1" width="2.67" height="2.67" fill="#cf74b9"/><circle cx="291.3" cy="597.4" r="1.45" fill="#8c88cc"/><circle cx="423.8" cy="626.6" r="1.45" fill="#8c88cc"/><path d="M279.4 545.0l1.67 2.97h-3.33z" fill="#cf74b9"/><path d="M348.9 617.6l1.67 2.97h-3.33z" fill="#8c88cc"/><rect x="337.3" y="602.9" width="2.67" height="2.67" fill="#8c88cc"/><rect x="198.5" y="596.6" width="2.67" height="2.67" fill="#cf74b9"/><circle cx="216.8" cy="584.4" r="1.45" fill="#cf74b9"/><rect x="293.5" y="599.6" width="2.67" height="2.67" fill="#8c88cc"/><circle cx="178.2" cy="583.3" r="1.45" fill="#cf74b9"/><path d="M325.9 618.9l1.67 2.97h-3.33z" fill="#30b2e2"/><path d="M277.8 598.1l1.67 2.97h-3.33z" fill="#30b2e2"/><path d="M282.6 601.6l1.67 2.97h-3.33z" fill="#30b2e2"/><path d="M325.2 617.6l1.67 2.97h-3.33z" fill="#8c88cc"/><rect x="341.0" y="619.0" width="2.67" height="2.67" fill="#30b2e2"/><rect x="224.9" y="539.3" width="2.67" height="2.67" fill="#cf74b9"/><circle cx="345.6" cy="622.9" r="1.45" fill="#8c88cc"/><circle cx="274.7" cy="597.7" r="1.45" fill="#8c88cc"/><path d="M278.0 606.8l1.67 2.97h-3.33z" fill="#30b2e2"/><rect x="218.2" y="610.6" width="2.67" height="2.67" fill="#cf74b9"/><path d="M288.0 605.7l1.67 2.97h-3.33z" fill="#8c88cc"/><circle cx="101.8" cy="528.9" r="1.45" fill="#cf74b9"/><rect x="292.4" y="556.1" width="2.67" height="2.67" fill="#cf74b9"/><circle cx="348.6" cy="627.4" r="1.45" fill="#8c88cc"/><circle cx="236.0" cy="587.6" r="1.45" fill="#cf74b9"/><path d="M317.0 626.1l1.67 2.97h-3.33z" fill="#8c88cc"/><circle cx="250.0" cy="562.4" r="1.45" fill="#30b2e2"/><path d="M392.9 606.0l1.67 2.97h-3.33z" fill="#cf74b9"/><rect x="176.8" y="577.5" width="2.67" height="2.67" fill="#cf74b9"/><path d="M270.6 587.5l1.67 2.97h-3.33z" fill="#cf74b9"/><path d="M349.5 617.6l1.67 2.97h-3.33z" fill="#8c88cc"/><path d="M274.1 610.5l1.67 2.97h-3.33z" fill="#30b2e2"/><rect x="264.4" y="598.0" width="2.67" height="2.67" fill="#cf74b9"/><path d="M371.1 559.5l1.67 2.97h-3.33z" fill="#8c88cc"/><circle cx="257.4" cy="606.4" r="1.45" fill="#30b2e2"/><circle cx="286.8" cy="607.6" r="1.45" fill="#30b2e2"/><rect x="331.8" y="594.0" width="2.67" height="2.67" fill="#cf74b9"/><rect x="328.8" y="611.1" width="2.67" height="2.67" fill="#cf74b9"/><rect x="288.7" y="605.8" width="2.67" height="2.67" fill="#cf74b9"/><path d="M280.0 487.7l1.67 2.97h-3.33z" fill="#5cc89e"/><path d="M312.8 595.9l1.67 2.97h-3.33z" fill="#8c88cc"/><circle cx="307.4" cy="608.4" r="1.45" fill="#8c88cc"/><rect x="417.7" y="621.9" width="2.67" height="2.67" fill="#8c88cc"/><rect x="355.3" y="608.8" width="2.67" height="2.67" fill="#8c88cc"/><circle cx="361.8" cy="626.3" r="1.45" fill="#8c88cc"/><path d="M305.5 603.0l1.67 2.97h-3.33z" fill="#30b2e2"/><circle cx="247.2" cy="614.8" r="1.45" fill="#cf74b9"/><rect x="256.9" y="597.2" width="2.67" height="2.67" fill="#30b2e2"/><circle cx="331.5" cy="613.1" r="1.45" fill="#8c88cc"/><circle cx="239.8" cy="615.7" r="1.45" fill="#8c88cc"/><path d="M236.3 591.8l1.67 2.97h-3.33z" fill="#8c88cc"/><circle cx="336.3" cy="622.2" r="1.45" fill="#30b2e2"/><path d="M346.5 572.0l1.67 2.97h-3.33z" fill="#cf74b9"/><circle cx="282.6" cy="625.7" r="1.45" fill="#8c88cc"/><rect x="269.5" y="593.5" width="2.67" height="2.67" fill="#8c88cc"/><circle cx="379.8" cy="621.0" r="1.45" fill="#30b2e2"/><circle cx="356.6" cy="611.7" r="1.45" fill="#30b2e2"/><rect x="350.3" y="623.0" width="2.67" height="2.67" fill="#8c88cc"/><circle cx="195.5" cy="504.5" r="1.45" fill="#30b2e2"/><circle cx="182.1" cy="540.9" r="1.45" fill="#cf74b9"/><path d="M368.6 605.7l1.67 2.97h-3.33z" fill="#8c88cc"/><path d="M255.5 612.1l1.67 2.97h-3.33z" fill="#cf74b9"/><path d="M339.2 623.3l1.67 2.97h-3.33z" fill="#8c88cc"/><circle cx="247.9" cy="613.5" r="1.45" fill="#8c88cc"/><path d="M294.7 610.7l1.67 2.97h-3.33z" fill="#8c88cc"/><path d="M307.8 608.9l1.67 2.97h-3.33z" fill="#30b2e2"/><path d="M288.7 581.5l1.67 2.97h-3.33z" fill="#cf74b9"/><path d="M297.7 601.5l1.67 2.97h-3.33z" fill="#cf74b9"/><circle cx="279.2" cy="617.3" r="1.45" fill="#8c88cc"/><path d="M266.5 599.6l1.67 2.97h-3.33z" fill="#cf74b9"/><rect x="283.0" y="616.1" width="2.67" height="2.67" fill="#cf74b9"/><path d="M329.8 616.3l1.67 2.97h-3.33z" fill="#30b2e2"/><rect x="307.4" y="591.4" width="2.67" height="2.67" fill="#8c88cc"/><rect x="247.7" y="605.6" width="2.67" height="2.67" fill="#30b2e2"/><rect x="233.2" y="573.6" width="2.67" height="2.67" fill="#cf74b9"/><rect x="195.3" y="556.4" width="2.67" height="2.67" fill="#cf74b9"/><circle cx="274.3" cy="607.4" r="1.45" fill="#30b2e2"/><circle cx="349.0" cy="620.6" r="1.45" fill="#8c88cc"/><path d="M341.4 622.8l1.67 2.97h-3.33z" fill="#8c88cc"/><circle cx="151.8" cy="565.2" r="1.45" fill="#cf74b9"/><path d="M288.0 581.6l1.67 2.97h-3.33z" fill="#cf74b9"/><circle cx="366.7" cy="616.2" r="1.45" fill="#cf74b9"/><path d="M306.8 593.7l1.67 2.97h-3.33z" fill="#8c88cc"/><rect x="298.7" y="602.5" width="2.67" height="2.67" fill="#cf74b9"/><path d="M272.3 619.0l1.67 2.97h-3.33z" fill="#30b2e2"/><rect x="278.7" y="613.9" width="2.67" height="2.67" fill="#30b2e2"/><circle cx="330.0" cy="567.5" r="1.45" fill="#cf74b9"/><path d="M270.6 598.0l1.67 2.97h-3.33z" fill="#8c88cc"/><circle cx="307.8" cy="514.5" r="1.45" fill="#cf74b9"/><rect x="258.9" y="609.6" width="2.67" height="2.67" fill="#8c88cc"/><circle cx="259.1" cy="605.7" r="1.45" fill="#8c88cc"/><path d="M244.8 603.4l1.67 2.97h-3.33z" fill="#30b2e2"/><circle cx="396.6" cy="629.6" r="1.45" fill="#8c88cc"/><path d="M316.9 598.2l1.67 2.97h-3.33z" fill="#cf74b9"/><circle cx="341.1" cy="617.8" r="1.45" fill="#8c88cc"/><path d="M304.7 560.6l1.67 2.97h-3.33z" fill="#cf74b9"/><path d="M343.4 630.8l1.67 2.97h-3.33z" fill="#8c88cc"/><circle cx="335.7" cy="615.4" r="1.45" fill="#30b2e2"/><path d="M315.0 619.7l1.67 2.97h-3.33z" fill="#8c88cc"/><rect x="336.4" y="612.4" width="2.67" height="2.67" fill="#cf74b9"/><rect x="390.7" y="623.5" width="2.67" height="2.67" fill="#8c88cc"/><path d="M285.8 584.0l1.67 2.97h-3.33z" fill="#cf74b9"/><path d="M168.4 605.9l1.67 2.97h-3.33z" fill="#cf74b9"/><path d="M240.0 599.4l1.67 2.97h-3.33z" fill="#30b2e2"/><path d="M279.7 604.0l1.67 2.97h-3.33z" fill="#30b2e2"/><circle cx="297.8" cy="605.3" r="1.45" fill="#cf74b9"/><circle cx="273.3" cy="579.1" r="1.45" fill="#30b2e2"/><path d="M313.8 618.3l1.67 2.97h-3.33z" fill="#30b2e2"/><rect x="245.1" y="611.7" width="2.67" height="2.67" fill="#8c88cc"/><rect x="289.5" y="578.3" width="2.67" height="2.67" fill="#cf74b9"/><path d="M259.1 532.7l1.67 2.97h-3.33z" fill="#cf74b9"/><path d="M316.5 624.0l1.67 2.97h-3.33z" fill="#30b2e2"/><path d="M352.5 593.3l1.67 2.97h-3.33z" fill="#cf74b9"/><circle cx="348.0" cy="595.5" r="1.45" fill="#cf74b9"/><path d="M271.6 570.7l1.67 2.97h-3.33z" fill="#30b2e2"/><path d="M353.6 628.1l1.67 2.97h-3.33z" fill="#8c88cc"/><path d="M282.4 604.5l1.67 2.97h-3.33z" fill="#30b2e2"/><circle cx="158.6" cy="575.5" r="1.45" fill="#cf74b9"/><circle cx="227.3" cy="560.5" r="1.45" fill="#8c88cc"/><circle cx="289.6" cy="617.2" r="1.45" fill="#8c88cc"/><path d="M153.6 565.0l1.67 2.97h-3.33z" fill="#cf74b9"/><rect x="253.9" y="615.8" width="2.67" height="2.67" fill="#30b2e2"/><rect x="318.4" y="617.7" width="2.67" height="2.67" fill="#8c88cc"/><rect x="288.5" y="580.8" width="2.67" height="2.67" fill="#cf74b9"/><path d="M256.2 608.2l1.67 2.97h-3.33z" fill="#30b2e2"/><path d="M279.1 584.9l1.67 2.97h-3.33z" fill="#8c88cc"/><circle cx="179.0" cy="574.8" r="1.45" fill="#cf74b9"/><circle cx="372.9" cy="628.1" r="1.45" fill="#8c88cc"/><circle cx="284.2" cy="615.0" r="1.45" fill="#8c88cc"/><path d="M297.3 603.6l1.67 2.97h-3.33z" fill="#30b2e2"/><circle cx="209.6" cy="532.4" r="1.45" fill="#cf74b9"/><path d="M306.1 614.3l1.67 2.97h-3.33z" fill="#8c88cc"/><path d="M288.7 612.1l1.67 2.97h-3.33z" fill="#8c88cc"/><rect x="244.1" y="607.7" width="2.67" height="2.67" fill="#8c88cc"/><circle cx="327.2" cy="603.6" r="1.45" fill="#8c88cc"/><circle cx="293.1" cy="604.8" r="1.45" fill="#8c88cc"/><circle cx="367.9" cy="618.5" r="1.45" fill="#8c88cc"/><circle cx="296.4" cy="614.3" r="1.45" fill="#30b2e2"/><circle cx="296.5" cy="611.5" r="1.45" fill="#30b2e2"/><circle cx="315.4" cy="621.9" r="1.45" fill="#30b2e2"/><path d="M297.2 628.2l1.67 2.97h-3.33z" fill="#8c88cc"/><rect x="397.4" y="626.3" width="2.67" height="2.67" fill="#8c88cc"/><rect x="287.6" y="626.7" width="2.67" height="2.67" fill="#8c88cc"/><rect x="230.7" y="605.6" width="2.67" height="2.67" fill="#30b2e2"/><circle cx="391.7" cy="619.5" r="1.45" fill="#8c88cc"/><rect x="323.7" y="605.4" width="2.67" height="2.67" fill="#cf74b9"/><circle cx="263.5" cy="576.0" r="1.45" fill="#30b2e2"/><rect x="298.3" y="578.4" width="2.67" height="2.67" fill="#cf74b9"/><circle cx="287.0" cy="586.3" r="1.45" fill="#30b2e2"/><rect x="275.3" y="603.1" width="2.67" height="2.67" fill="#30b2e2"/><rect x="274.3" y="605.5" width="2.67" height="2.67" fill="#8c88cc"/><circle cx="284.5" cy="583.2" r="1.45" fill="#cf74b9"/><path d="M270.2 582.0l1.67 2.97h-3.33z" fill="#cf74b9"/><path d="M303.8 594.0l1.67 2.97h-3.33z" fill="#30b2e2"/><circle cx="332.0" cy="625.3" r="1.45" fill="#8c88cc"/><rect x="321.8" y="593.2" width="2.67" height="2.67" fill="#8c88cc"/><circle cx="180.6" cy="604.2" r="1.45" fill="#cf74b9"/><rect x="357.3" y="595.6" width="2.67" height="2.67" fill="#cf74b9"/><rect x="298.9" y="572.7" width="2.67" height="2.67" fill="#cf74b9"/><circle cx="338.9" cy="599.7" r="1.45" fill="#30b2e2"/><rect x="348.2" y="619.4" width="2.67" height="2.67" fill="#8c88cc"/><path d="M301.9 612.9l1.67 2.97h-3.33z" fill="#cf74b9"/><path d="M165.5 581.4l1.67 2.97h-3.33z" fill="#cf74b9"/><circle cx="287.7" cy="614.9" r="1.45" fill="#8c88cc"/><rect x="346.4" y="609.2" width="2.67" height="2.67" fill="#30b2e2"/><path d="M355.1 628.0l1.67 2.97h-3.33z" fill="#8c88cc"/><path d="M363.0 615.6l1.67 2.97h-3.33z" fill="#8c88cc"/><path d="M371.3 608.9l1.67 2.97h-3.33z" fill="#cf74b9"/><circle cx="296.0" cy="618.3" r="1.45" fill="#8c88cc"/><path d="M317.3 619.1l1.67 2.97h-3.33z" fill="#30b2e2"/><rect x="240.8" y="615.0" width="2.67" height="2.67" fill="#30b2e2"/><circle cx="117.7" cy="563.6" r="1.45" fill="#cf74b9"/><rect x="256.1" y="559.9" width="2.67" height="2.67" fill="#cf74b9"/><path d="M323.9 621.9l1.67 2.97h-3.33z" fill="#8c88cc"/><circle cx="285.6" cy="587.0" r="1.45" fill="#cf74b9"/><path d="M272.2 590.5l1.67 2.97h-3.33z" fill="#8c88cc"/><circle cx="353.3" cy="602.0" r="1.45" fill="#30b2e2"/><path d="M348.7 616.3l1.67 2.97h-3.33z" fill="#8c88cc"/><path d="M375.3 630.7l1.67 2.97h-3.33z" fill="#8c88cc"/><rect x="315.1" y="621.7" width="2.67" height="2.67" fill="#30b2e2"/><path d="M189.3 570.4l1.67 2.97h-3.33z" fill="#cf74b9"/><path d="M294.6 616.7l1.67 2.97h-3.33z" fill="#8c88cc"/><circle cx="243.1" cy="541.2" r="1.45" fill="#cf74b9"/><rect x="259.2" y="583.9" width="2.67" height="2.67" fill="#30b2e2"/><circle cx="368.6" cy="624.8" r="1.45" fill="#8c88cc"/><circle cx="313.7" cy="614.8" r="1.45" fill="#30b2e2"/><circle cx="307.7" cy="616.3" r="1.45" fill="#8c88cc"/><rect x="295.0" y="587.8" width="2.67" height="2.67" fill="#cf74b9"/><rect x="254.3" y="609.4" width="2.67" height="2.67" fill="#cf74b9"/><path d="M309.0 591.2l1.67 2.97h-3.33z" fill="#8c88cc"/><rect x="272.4" y="618.2" width="2.67" height="2.67" fill="#30b2e2"/><rect x="274.2" y="591.3" width="2.67" height="2.67" fill="#cf74b9"/><path d="M332.7 605.8l1.67 2.97h-3.33z" fill="#8c88cc"/><path d="M311.1 600.7l1.67 2.97h-3.33z" fill="#30b2e2"/><circle cx="338.1" cy="630.6" r="1.45" fill="#30b2e2"/><circle cx="112.7" cy="560.0" r="1.45" fill="#cf74b9"/><rect x="270.0" y="574.3" width="2.67" height="2.67" fill="#8c88cc"/><circle cx="294.0" cy="604.4" r="1.45" fill="#cf74b9"/><path d="M230.5 565.1l1.67 2.97h-3.33z" fill="#30b2e2"/><circle cx="219.9" cy="606.1" r="1.45" fill="#30b2e2"/><circle cx="356.5" cy="532.7" r="1.45" fill="#cf74b9"/><rect x="182.8" y="574.1" width="2.67" height="2.67" fill="#cf74b9"/><rect x="217.0" y="596.2" width="2.67" height="2.67" fill="#cf74b9"/><circle cx="284.6" cy="621.5" r="1.45" fill="#8c88cc"/><circle cx="368.4" cy="627.8" r="1.45" fill="#8c88cc"/><path d="M265.5 586.3l1.67 2.97h-3.33z" fill="#cf74b9"/><rect x="300.5" y="577.2" width="2.67" height="2.67" fill="#cf74b9"/><circle cx="363.6" cy="622.2" r="1.45" fill="#8c88cc"/><path d="M173.2 542.3l1.67 2.97h-3.33z" fill="#cf74b9"/><path d="M289.4 616.9l1.67 2.97h-3.33z" fill="#30b2e2"/><path d="M346.9 574.9l1.67 2.97h-3.33z" fill="#cf74b9"/><path d="M312.0 617.1l1.67 2.97h-3.33z" fill="#30b2e2"/><circle cx="240.3" cy="569.0" r="1.45" fill="#cf74b9"/><circle cx="262.4" cy="583.9" r="1.45" fill="#cf74b9"/><circle cx="300.3" cy="603.6" r="1.45" fill="#cf74b9"/><circle cx="283.7" cy="615.1" r="1.45" fill="#30b2e2"/><path d="M323.2 600.6l1.67 2.97h-3.33z" fill="#8c88cc"/><circle cx="332.9" cy="606.8" r="1.45" fill="#cf74b9"/><path d="M249.7 566.9l1.67 2.97h-3.33z" fill="#30b2e2"/><path d="M203.4 605.0l1.67 2.97h-3.33z" fill="#cf74b9"/><circle cx="302.7" cy="607.9" r="1.45" fill="#30b2e2"/><path d="M332.6 629.7l1.67 2.97h-3.33z" fill="#8c88cc"/><path d="M238.3 611.6l1.67 2.97h-3.33z" fill="#8c88cc"/><rect x="261.7" y="597.2" width="2.67" height="2.67" fill="#30b2e2"/><path d="M363.7 625.8l1.67 2.97h-3.33z" fill="#8c88cc"/><rect x="306.6" y="621.6" width="2.67" height="2.67" fill="#30b2e2"/><circle cx="306.1" cy="622.0" r="1.45" fill="#8c88cc"/><circle cx="244.5" cy="537.8" r="1.45" fill="#30b2e2"/><rect x="205.9" y="577.8" width="2.67" height="2.67" fill="#30b2e2"/><circle cx="295.8" cy="617.2" r="1.45" fill="#30b2e2"/><circle cx="234.6" cy="568.3" r="1.45" fill="#cf74b9"/><rect x="302.6" y="605.3" width="2.67" height="2.67" fill="#30b2e2"/><rect x="252.3" y="612.1" width="2.67" height="2.67" fill="#30b2e2"/><circle cx="291.3" cy="607.5" r="1.45" fill="#cf74b9"/><rect x="322.9" y="560.8" width="2.67" height="2.67" fill="#cf74b9"/><circle cx="246.2" cy="573.5" r="1.45" fill="#8c88cc"/><circle cx="268.5" cy="606.0" r="1.45" fill="#30b2e2"/><circle cx="335.1" cy="506.7" r="1.45" fill="#8c88cc"/><path d="M318.2 617.7l1.67 2.97h-3.33z" fill="#8c88cc"/><path d="M229.4 614.1l1.67 2.97h-3.33z" fill="#30b2e2"/><rect x="256.4" y="547.4" width="2.67" height="2.67" fill="#cf74b9"/><path d="M292.8 607.4l1.67 2.97h-3.33z" fill="#30b2e2"/><circle cx="380.0" cy="616.3" r="1.45" fill="#8c88cc"/><path d="M335.8 607.6l1.67 2.97h-3.33z" fill="#8c88cc"/><circle cx="363.5" cy="621.3" r="1.45" fill="#8c88cc"/><rect x="262.1" y="570.7" width="2.67" height="2.67" fill="#cf74b9"/><rect x="323.7" y="612.6" width="2.67" height="2.67" fill="#8c88cc"/><circle cx="372.2" cy="626.0" r="1.45" fill="#8c88cc"/><circle cx="258.7" cy="582.9" r="1.45" fill="#30b2e2"/><rect x="223.2" y="579.3" width="2.67" height="2.67" fill="#cf74b9"/><rect x="298.3" y="594.3" width="2.67" height="2.67" fill="#30b2e2"/><rect x="210.1" y="561.2" width="2.67" height="2.67" fill="#30b2e2"/><rect x="298.0" y="607.4" width="2.67" height="2.67" fill="#8c88cc"/><path d="M299.3 572.2l1.67 2.97h-3.33z" fill="#cf74b9"/><circle cx="128.0" cy="515.9" r="1.45" fill="#cf74b9"/><path d="M167.7 593.4l1.67 2.97h-3.33z" fill="#cf74b9"/><rect x="321.9" y="603.8" width="2.67" height="2.67" fill="#8c88cc"/><path d="M414.9 631.5l1.67 2.97h-3.33z" fill="#8c88cc"/><rect x="298.8" y="611.2" width="2.67" height="2.67" fill="#8c88cc"/><rect x="287.2" y="590.1" width="2.67" height="2.67" fill="#cf74b9"/><circle cx="333.8" cy="601.3" r="1.45" fill="#30b2e2"/><path d="M335.5 617.2l1.67 2.97h-3.33z" fill="#8c88cc"/><circle cx="350.2" cy="613.8" r="1.45" fill="#8c88cc"/><circle cx="340.5" cy="620.0" r="1.45" fill="#8c88cc"/><circle cx="354.9" cy="617.3" r="1.45" fill="#30b2e2"/><rect x="264.6" y="602.9" width="2.67" height="2.67" fill="#cf74b9"/><rect x="336.4" y="622.1" width="2.67" height="2.67" fill="#30b2e2"/><rect x="319.3" y="586.9" width="2.67" height="2.67" fill="#cf74b9"/><circle cx="311.8" cy="593.4" r="1.45" fill="#cf74b9"/><rect x="406.2" y="628.4" width="2.67" height="2.67" fill="#8c88cc"/><circle cx="309.7" cy="587.4" r="1.45" fill="#cf74b9"/><circle cx="317.3" cy="538.2" r="1.45" fill="#cf74b9"/><circle cx="195.8" cy="609.5" r="1.45" fill="#30b2e2"/><rect x="280.4" y="618.0" width="2.67" height="2.67" fill="#8c88cc"/><path d="M291.2 607.4l1.67 2.97h-3.33z" fill="#30b2e2"/><rect x="303.3" y="580.5" width="2.67" height="2.67" fill="#8c88cc"/><rect x="285.5" y="589.7" width="2.67" height="2.67" fill="#30b2e2"/><circle cx="129.5" cy="558.4" r="1.45" fill="#cf74b9"/><rect x="294.1" y="629.3" width="2.67" height="2.67" fill="#8c88cc"/><rect x="326.6" y="616.4" width="2.67" height="2.67" fill="#30b2e2"/><rect x="378.8" y="619.1" width="2.67" height="2.67" fill="#8c88cc"/><rect x="285.0" y="582.4" width="2.67" height="2.67" fill="#cf74b9"/><rect x="363.5" y="600.8" width="2.67" height="2.67" fill="#30b2e2"/><path d="M230.0 603.3l1.67 2.97h-3.33z" fill="#30b2e2"/><path d="M217.4 613.9l1.67 2.97h-3.33z" fill="#8c88cc"/><rect x="404.8" y="608.1" width="2.67" height="2.67" fill="#8c88cc"/><path d="M302.5 545.0l1.67 2.97h-3.33z" fill="#cf74b9"/><path d="M312.3 604.6l1.67 2.97h-3.33z" fill="#cf74b9"/><rect x="353.5" y="620.6" width="2.67" height="2.67" fill="#8c88cc"/><path d="M222.6 598.4l1.67 2.97h-3.33z" fill="#cf74b9"/><path d="M273.6 588.1l1.67 2.97h-3.33z" fill="#30b2e2"/><circle cx="252.4" cy="618.8" r="1.45" fill="#cf74b9"/><circle cx="367.7" cy="619.5" r="1.45" fill="#8c88cc"/><rect x="253.4" y="581.1" width="2.67" height="2.67" fill="#cf74b9"/><path d="M320.8 617.6l1.67 2.97h-3.33z" fill="#8c88cc"/><circle cx="268.6" cy="563.1" r="1.45" fill="#8c88cc"/><rect x="227.8" y="548.1" width="2.67" height="2.67" fill="#30b2e2"/><rect x="313.1" y="596.6" width="2.67" height="2.67" fill="#8c88cc"/><rect x="325.7" y="622.0" width="2.67" height="2.67" fill="#8c88cc"/><circle cx="326.7" cy="604.3" r="1.45" fill="#30b2e2"/><circle cx="281.0" cy="611.9" r="1.45" fill="#cf74b9"/><rect x="341.5" y="608.0" width="2.67" height="2.67" fill="#cf74b9"/><rect x="360.3" y="598.6" width="2.67" height="2.67" fill="#cf74b9"/><path d="M298.6 556.8l1.67 2.97h-3.33z" fill="#30b2e2"/><rect x="290.8" y="620.0" width="2.67" height="2.67" fill="#8c88cc"/><path d="M338.2 624.0l1.67 2.97h-3.33z" fill="#30b2e2"/><path d="M310.5 620.2l1.67 2.97h-3.33z" fill="#8c88cc"/><path d="M314.7 606.3l1.67 2.97h-3.33z" fill="#30b2e2"/><path d="M348.2 624.5l1.67 2.97h-3.33z" fill="#8c88cc"/><circle cx="196.4" cy="536.4" r="1.45" fill="#cf74b9"/><circle cx="193.1" cy="532.7" r="1.45" fill="#30b2e2"/><rect x="284.5" y="593.9" width="2.67" height="2.67" fill="#30b2e2"/><circle cx="342.7" cy="624.8" r="1.45" fill="#cf74b9"/><rect x="336.2" y="623.7" width="2.67" height="2.67" fill="#8c88cc"/><rect x="384.3" y="629.1" width="2.67" height="2.67" fill="#8c88cc"/><circle cx="304.8" cy="599.3" r="1.45" fill="#30b2e2"/><path d="M252.0 592.9l1.67 2.97h-3.33z" fill="#cf74b9"/><circle cx="315.6" cy="625.2" r="1.45" fill="#8c88cc"/><path d="M286.7 584.5l1.67 2.97h-3.33z" fill="#cf74b9"/><rect x="321.4" y="536.9" width="2.67" height="2.67" fill="#5cc89e"/><path d="M349.0 610.4l1.67 2.97h-3.33z" fill="#8c88cc"/><circle cx="314.7" cy="606.4" r="1.45" fill="#8c88cc"/><path d="M273.0 597.6l1.67 2.97h-3.33z" fill="#30b2e2"/><circle cx="326.5" cy="611.2" r="1.45" fill="#cf74b9"/><circle cx="95.0" cy="551.6" r="1.45" fill="#cf74b9"/><rect x="331.3" y="623.9" width="2.67" height="2.67" fill="#8c88cc"/><circle cx="270.2" cy="603.9" r="1.45" fill="#30b2e2"/><path d="M227.3 546.2l1.67 2.97h-3.33z" fill="#cf74b9"/><circle cx="223.6" cy="595.0" r="1.45" fill="#cf74b9"/><path d="M324.2 617.1l1.67 2.97h-3.33z" fill="#8c88cc"/><circle cx="273.8" cy="612.6" r="1.45" fill="#30b2e2"/><path d="M318.8 628.3l1.67 2.97h-3.33z" fill="#30b2e2"/><path d="M347.0 608.4l1.67 2.97h-3.33z" fill="#8c88cc"/><path d="M328.0 596.8l1.67 2.97h-3.33z" fill="#30b2e2"/><rect x="308.9" y="597.4" width="2.67" height="2.67" fill="#30b2e2"/><circle cx="324.2" cy="593.2" r="1.45" fill="#cf74b9"/><circle cx="323.6" cy="620.2" r="1.45" fill="#8c88cc"/><circle cx="345.0" cy="583.2" r="1.45" fill="#cf74b9"/><rect x="304.5" y="620.6" width="2.67" height="2.67" fill="#8c88cc"/><circle cx="419.4" cy="592.7" r="1.45" fill="#1a7a44"/><rect x="300.2" y="613.4" width="2.67" height="2.67" fill="#cf74b9"/><rect x="349.4" y="614.1" width="2.67" height="2.67" fill="#8c88cc"/><circle cx="377.1" cy="604.4" r="1.45" fill="#cf74b9"/><circle cx="231.8" cy="573.6" r="1.45" fill="#8c88cc"/><rect x="278.4" y="603.0" width="2.67" height="2.67" fill="#30b2e2"/><rect x="298.7" y="608.9" width="2.67" height="2.67" fill="#30b2e2"/><path d="M335.8 616.9l1.67 2.97h-3.33z" fill="#30b2e2"/><rect x="274.1" y="614.8" width="2.67" height="2.67" fill="#8c88cc"/><path d="M291.7 588.0l1.67 2.97h-3.33z" fill="#8c88cc"/><path d="M267.1 620.8l1.67 2.97h-3.33z" fill="#8c88cc"/><path d="M182.2 569.8l1.67 2.97h-3.33z" fill="#cf74b9"/><rect x="279.9" y="599.4" width="2.67" height="2.67" fill="#30b2e2"/><path d="M370.0 625.6l1.67 2.97h-3.33z" fill="#30b2e2"/><circle cx="278.3" cy="592.4" r="1.45" fill="#8c88cc"/><circle cx="352.9" cy="621.3" r="1.45" fill="#8c88cc"/><rect x="340.1" y="627.4" width="2.67" height="2.67" fill="#8c88cc"/><path d="M340.6 622.7l1.67 2.97h-3.33z" fill="#8c88cc"/><circle cx="265.9" cy="613.0" r="1.45" fill="#30b2e2"/><path d="M158.6 550.5l1.67 2.97h-3.33z" fill="#cf74b9"/><rect x="286.9" y="614.8" width="2.67" height="2.67" fill="#8c88cc"/><path d="M318.2 619.9l1.67 2.97h-3.33z" fill="#8c88cc"/><rect x="357.2" y="618.5" width="2.67" height="2.67" fill="#30b2e2"/><rect x="259.3" y="597.4" width="2.67" height="2.67" fill="#8c88cc"/><rect x="308.0" y="612.5" width="2.67" height="2.67" fill="#cf74b9"/><circle cx="164.3" cy="589.5" r="1.45" fill="#cf74b9"/><path d="M248.5 584.2l1.67 2.97h-3.33z" fill="#8c88cc"/><path d="M413.9 631.0l1.67 2.97h-3.33z" fill="#8c88cc"/><path d="M432.5 630.9l1.67 2.97h-3.33z" fill="#8c88cc"/><rect x="252.9" y="563.1" width="2.67" height="2.67" fill="#cf74b9"/><circle cx="384.7" cy="621.1" r="1.45" fill="#8c88cc"/><circle cx="310.7" cy="596.5" r="1.45" fill="#30b2e2"/><path d="M165.0 529.3l1.67 2.97h-3.33z" fill="#cf74b9"/><circle cx="233.2" cy="598.1" r="1.45" fill="#cf74b9"/><path d="M354.3 615.6l1.67 2.97h-3.33z" fill="#cf74b9"/><rect x="372.8" y="617.2" width="2.67" height="2.67" fill="#cf74b9"/><path d="M175.8 567.9l1.67 2.97h-3.33z" fill="#cf74b9"/><path d="M373.2 616.9l1.67 2.97h-3.33z" fill="#8c88cc"/><path d="M332.8 598.3l1.67 2.97h-3.33z" fill="#8c88cc"/><circle cx="289.7" cy="573.1" r="1.45" fill="#cf74b9"/><circle cx="260.5" cy="601.4" r="1.45" fill="#cf74b9"/><circle cx="391.2" cy="631.4" r="1.45" fill="#8c88cc"/><rect x="270.0" y="608.1" width="2.67" height="2.67" fill="#8c88cc"/><circle cx="83.6" cy="577.7" r="1.45" fill="#cf74b9"/><path d="M343.9 606.1l1.67 2.97h-3.33z" fill="#8c88cc"/><circle cx="382.3" cy="578.5" r="1.45" fill="#cf74b9"/><rect x="232.6" y="551.0" width="2.67" height="2.67" fill="#cf74b9"/><circle cx="280.4" cy="613.4" r="1.45" fill="#8c88cc"/><rect x="294.6" y="604.6" width="2.67" height="2.67" fill="#8c88cc"/><rect x="269.4" y="586.2" width="2.67" height="2.67" fill="#cf74b9"/><rect x="315.1" y="615.6" width="2.67" height="2.67" fill="#8c88cc"/><circle cx="131.4" cy="547.7" r="1.45" fill="#cf74b9"/><path d="M262.5 583.1l1.67 2.97h-3.33z" fill="#cf74b9"/><circle cx="226.6" cy="560.0" r="1.45" fill="#cf74b9"/><path d="M279.7 538.7l1.67 2.97h-3.33z" fill="#30b2e2"/><circle cx="165.5" cy="513.4" r="1.45" fill="#cf74b9"/><path d="M282.5 579.3l1.67 2.97h-3.33z" fill="#cf74b9"/><circle cx="250.2" cy="580.8" r="1.45" fill="#cf74b9"/><circle cx="270.3" cy="588.9" r="1.45" fill="#30b2e2"/><path d="M328.3 592.4l1.67 2.97h-3.33z" fill="#cf74b9"/><rect x="299.2" y="618.1" width="2.67" height="2.67" fill="#8c88cc"/><path d="M380.8 608.5l1.67 2.97h-3.33z" fill="#8c88cc"/><rect x="199.7" y="586.7" width="2.67" height="2.67" fill="#cf74b9"/><circle cx="333.7" cy="614.1" r="1.45" fill="#8c88cc"/><circle cx="356.5" cy="624.9" r="1.45" fill="#8c88cc"/><path d="M413.2 619.0l1.67 2.97h-3.33z" fill="#8c88cc"/><circle cx="151.8" cy="533.0" r="1.45" fill="#cf74b9"/><rect x="389.3" y="618.1" width="2.67" height="2.67" fill="#30b2e2"/><circle cx="304.0" cy="575.3" r="1.45" fill="#cf74b9"/><rect x="359.0" y="629.4" width="2.67" height="2.67" fill="#8c88cc"/><circle cx="401.9" cy="617.4" r="1.45" fill="#8c88cc"/><circle cx="322.1" cy="624.0" r="1.45" fill="#8c88cc"/><circle cx="264.6" cy="611.3" r="1.45" fill="#30b2e2"/><rect x="231.7" y="590.7" width="2.67" height="2.67" fill="#cf74b9"/><rect x="260.7" y="584.3" width="2.67" height="2.67" fill="#cf74b9"/><path d="M238.6 581.5l1.67 2.97h-3.33z" fill="#cf74b9"/><circle cx="351.9" cy="619.4" r="1.45" fill="#30b2e2"/><circle cx="99.1" cy="513.6" r="1.45" fill="#cf74b9"/><circle cx="328.3" cy="579.7" r="1.45" fill="#8c88cc"/><circle cx="326.0" cy="618.1" r="1.45" fill="#30b2e2"/><path d="M277.4 591.3l1.67 2.97h-3.33z" fill="#30b2e2"/><rect x="394.4" y="624.0" width="2.67" height="2.67" fill="#8c88cc"/><circle cx="192.6" cy="597.2" r="1.45" fill="#30b2e2"/><path d="M329.7 605.4l1.67 2.97h-3.33z" fill="#30b2e2"/><rect x="336.6" y="623.8" width="2.67" height="2.67" fill="#8c88cc"/><path d="M305.5 601.4l1.67 2.97h-3.33z" fill="#cf74b9"/><rect x="255.8" y="575.2" width="2.67" height="2.67" fill="#30b2e2"/><circle cx="329.3" cy="627.6" r="1.45" fill="#30b2e2"/><path d="M320.4 622.2l1.67 2.97h-3.33z" fill="#8c88cc"/><circle cx="314.5" cy="612.4" r="1.45" fill="#30b2e2"/><path d="M275.5 588.8l1.67 2.97h-3.33z" fill="#cf74b9"/><path d="M145.0 572.3l1.67 2.97h-3.33z" fill="#cf74b9"/><rect x="322.4" y="601.8" width="2.67" height="2.67" fill="#cf74b9"/><path d="M135.9 563.0l1.67 2.97h-3.33z" fill="#cf74b9"/><rect x="293.2" y="596.5" width="2.67" height="2.67" fill="#cf74b9"/><rect x="290.4" y="603.1" width="2.67" height="2.67" fill="#8c88cc"/><rect x="268.0" y="582.7" width="2.67" height="2.67" fill="#cf74b9"/><rect x="257.3" y="614.2" width="2.67" height="2.67" fill="#8c88cc"/><path d="M318.5 599.2l1.67 2.97h-3.33z" fill="#30b2e2"/><rect x="267.9" y="595.4" width="2.67" height="2.67" fill="#30b2e2"/><rect x="297.9" y="594.2" width="2.67" height="2.67" fill="#30b2e2"/><rect x="338.2" y="622.0" width="2.67" height="2.67" fill="#8c88cc"/><path d="M234.0 571.7l1.67 2.97h-3.33z" fill="#cf74b9"/><path d="M313.0 541.5l1.67 2.97h-3.33z" fill="#cf74b9"/><circle cx="287.0" cy="607.1" r="1.45" fill="#30b2e2"/><path d="M308.5 615.5l1.67 2.97h-3.33z" fill="#8c88cc"/><rect x="269.9" y="614.9" width="2.67" height="2.67" fill="#8c88cc"/><rect x="283.5" y="601.3" width="2.67" height="2.67" fill="#30b2e2"/><circle cx="291.0" cy="599.8" r="1.45" fill="#cf74b9"/><path d="M312.3 602.8l1.67 2.97h-3.33z" fill="#cf74b9"/><circle cx="307.4" cy="599.2" r="1.45" fill="#8c88cc"/><path d="M377.6 618.8l1.67 2.97h-3.33z" fill="#30b2e2"/><circle cx="256.9" cy="552.9" r="1.45" fill="#30b2e2"/><path d="M332.3 591.6l1.67 2.97h-3.33z" fill="#cf74b9"/><rect x="300.0" y="604.6" width="2.67" height="2.67" fill="#30b2e2"/><rect x="300.4" y="605.3" width="2.67" height="2.67" fill="#30b2e2"/><circle cx="315.2" cy="579.1" r="1.45" fill="#cf74b9"/><circle cx="332.0" cy="625.2" r="1.45" fill="#8c88cc"/><circle cx="315.5" cy="563.8" r="1.45" fill="#30b2e2"/><rect x="203.6" y="557.2" width="2.67" height="2.67" fill="#30b2e2"/><circle cx="345.8" cy="607.7" r="1.45" fill="#cf74b9"/><path d="M277.8 582.7l1.67 2.97h-3.33z" fill="#8c88cc"/><rect x="273.2" y="624.1" width="2.67" height="2.67" fill="#8c88cc"/><circle cx="199.2" cy="551.8" r="1.45" fill="#cf74b9"/><circle cx="220.6" cy="615.3" r="1.45" fill="#8c88cc"/><rect x="368.9" y="604.0" width="2.67" height="2.67" fill="#cf74b9"/><circle cx="344.9" cy="599.3" r="1.45" fill="#30b2e2"/><circle cx="336.9" cy="624.8" r="1.45" fill="#8c88cc"/><rect x="288.3" y="596.7" width="2.67" height="2.67" fill="#cf74b9"/><path d="M325.0 622.2l1.67 2.97h-3.33z" fill="#8c88cc"/><path d="M289.0 578.5l1.67 2.97h-3.33z" fill="#cf74b9"/><rect x="298.4" y="616.3" width="2.67" height="2.67" fill="#8c88cc"/><rect x="347.2" y="606.7" width="2.67" height="2.67" fill="#cf74b9"/><circle cx="332.4" cy="569.8" r="1.45" fill="#cf74b9"/><rect x="281.8" y="593.7" width="2.67" height="2.67" fill="#8c88cc"/><path d="M344.7 619.5l1.67 2.97h-3.33z" fill="#8c88cc"/><circle cx="331.6" cy="601.1" r="1.45" fill="#8c88cc"/><path d="M236.2 598.4l1.67 2.97h-3.33z" fill="#30b2e2"/><rect x="272.0" y="619.1" width="2.67" height="2.67" fill="#30b2e2"/><circle cx="243.7" cy="603.3" r="1.45" fill="#8c88cc"/><circle cx="360.9" cy="526.1" r="1.45" fill="#cf74b9"/><rect x="308.4" y="608.3" width="2.67" height="2.67" fill="#30b2e2"/><rect x="300.8" y="614.8" width="2.67" height="2.67" fill="#8c88cc"/><rect x="238.1" y="612.4" width="2.67" height="2.67" fill="#cf74b9"/><circle cx="263.2" cy="611.0" r="1.45" fill="#8c88cc"/><circle cx="187.8" cy="539.6" r="1.45" fill="#cf74b9"/><path d="M145.0 571.4l1.67 2.97h-3.33z" fill="#cf74b9"/><circle cx="353.8" cy="623.1" r="1.45" fill="#8c88cc"/><circle cx="238.3" cy="603.5" r="1.45" fill="#30b2e2"/><path d="M279.4 567.0l1.67 2.97h-3.33z" fill="#cf74b9"/><circle cx="261.9" cy="575.0" r="1.45" fill="#30b2e2"/><circle cx="345.8" cy="607.3" r="1.45" fill="#8c88cc"/><path d="M231.3 603.6l1.67 2.97h-3.33z" fill="#cf74b9"/><rect x="348.8" y="610.7" width="2.67" height="2.67" fill="#cf74b9"/><rect x="278.6" y="571.6" width="2.67" height="2.67" fill="#cf74b9"/><circle cx="294.1" cy="610.5" r="1.45" fill="#30b2e2"/><rect x="325.8" y="624.6" width="2.67" height="2.67" fill="#8c88cc"/><circle cx="232.4" cy="486.4" r="1.45" fill="#cf74b9"/><circle cx="310.5" cy="602.8" r="1.45" fill="#cf74b9"/><path d="M324.5 622.4l1.67 2.97h-3.33z" fill="#8c88cc"/><rect x="294.5" y="568.4" width="2.67" height="2.67" fill="#cf74b9"/><path d="M309.4 599.7l1.67 2.97h-3.33z" fill="#cf74b9"/><path d="M331.2 614.6l1.67 2.97h-3.33z" fill="#8c88cc"/><path d="M252.0 608.4l1.67 2.97h-3.33z" fill="#30b2e2"/><path d="M263.3 531.8l1.67 2.97h-3.33z" fill="#cf74b9"/><circle cx="261.7" cy="601.6" r="1.45" fill="#30b2e2"/><circle cx="383.4" cy="625.3" r="1.45" fill="#30b2e2"/><path d="M327.8 623.7l1.67 2.97h-3.33z" fill="#8c88cc"/><path d="M227.7 599.1l1.67 2.97h-3.33z" fill="#8c88cc"/><circle cx="288.4" cy="620.5" r="1.45" fill="#8c88cc"/><path d="M397.0 622.0l1.67 2.97h-3.33z" fill="#30b2e2"/><path d="M420.3 602.9l1.67 2.97h-3.33z" fill="#cf74b9"/><circle cx="121.1" cy="589.5" r="1.45" fill="#cf74b9"/><rect x="332.8" y="605.0" width="2.67" height="2.67" fill="#8c88cc"/><rect x="275.5" y="567.0" width="2.67" height="2.67" fill="#cf74b9"/><circle cx="389.4" cy="619.3" r="1.45" fill="#8c88cc"/><rect x="290.1" y="590.9" width="2.67" height="2.67" fill="#cf74b9"/><rect x="300.7" y="624.0" width="2.67" height="2.67" fill="#8c88cc"/><rect x="321.1" y="604.7" width="2.67" height="2.67" fill="#cf74b9"/><path d="M205.1 507.7l1.67 2.97h-3.33z" fill="#cf74b9"/><rect x="290.1" y="578.0" width="2.67" height="2.67" fill="#30b2e2"/><circle cx="280.3" cy="600.4" r="1.45" fill="#8c88cc"/><circle cx="243.3" cy="594.4" r="1.45" fill="#cf74b9"/><rect x="276.5" y="619.9" width="2.67" height="2.67" fill="#8c88cc"/><rect x="358.5" y="600.0" width="2.67" height="2.67" fill="#8c88cc"/><circle cx="300.1" cy="602.3" r="1.45" fill="#cf74b9"/><circle cx="357.7" cy="603.6" r="1.45" fill="#cf74b9"/><rect x="366.5" y="624.3" width="2.67" height="2.67" fill="#8c88cc"/><rect x="303.6" y="599.0" width="2.67" height="2.67" fill="#30b2e2"/><path d="M253.7 591.3l1.67 2.97h-3.33z" fill="#30b2e2"/><path d="M410.8 630.6l1.67 2.97h-3.33z" fill="#8c88cc"/><path d="M229.6 575.9l1.67 2.97h-3.33z" fill="#30b2e2"/><rect x="300.7" y="617.8" width="2.67" height="2.67" fill="#30b2e2"/><path d="M331.3 606.0l1.67 2.97h-3.33z" fill="#30b2e2"/><path d="M146.1 564.6l1.67 2.97h-3.33z" fill="#cf74b9"/><circle cx="309.4" cy="609.6" r="1.45" fill="#30b2e2"/><path d="M288.6 609.1l1.67 2.97h-3.33z" fill="#cf74b9"/><circle cx="325.1" cy="618.0" r="1.45" fill="#8c88cc"/><rect x="342.0" y="625.0" width="2.67" height="2.67" fill="#30b2e2"/><circle cx="152.3" cy="566.4" r="1.45" fill="#cf74b9"/><rect x="305.9" y="606.4" width="2.67" height="2.67" fill="#8c88cc"/><path d="M309.9 547.2l1.67 2.97h-3.33z" fill="#8c88cc"/><circle cx="295.2" cy="590.2" r="1.45" fill="#cf74b9"/><rect x="341.8" y="623.6" width="2.67" height="2.67" fill="#8c88cc"/><circle cx="182.7" cy="522.2" r="1.45" fill="#cf74b9"/><rect x="301.6" y="625.8" width="2.67" height="2.67" fill="#8c88cc"/><rect x="300.4" y="590.4" width="2.67" height="2.67" fill="#cf74b9"/><path d="M391.0 584.7l1.67 2.97h-3.33z" fill="#1a7a44"/><circle cx="208.2" cy="538.5" r="1.45" fill="#30b2e2"/><path d="M321.7 608.0l1.67 2.97h-3.33z" fill="#30b2e2"/><path d="M298.4 617.5l1.67 2.97h-3.33z" fill="#30b2e2"/><rect x="399.3" y="588.1" width="2.67" height="2.67" fill="#cf74b9"/><path d="M284.0 615.9l1.67 2.97h-3.33z" fill="#8c88cc"/><circle cx="230.3" cy="578.1" r="1.45" fill="#cf74b9"/><rect x="292.8" y="612.2" width="2.67" height="2.67" fill="#8c88cc"/><path d="M344.1 622.9l1.67 2.97h-3.33z" fill="#8c88cc"/><path d="M254.6 597.9l1.67 2.97h-3.33z" fill="#30b2e2"/><circle cx="279.1" cy="535.8" r="1.45" fill="#5cc89e"/><circle cx="330.8" cy="612.7" r="1.45" fill="#8c88cc"/><circle cx="128.6" cy="526.6" r="1.45" fill="#cf74b9"/><path d="M262.6 611.1l1.67 2.97h-3.33z" fill="#8c88cc"/><circle cx="366.4" cy="627.1" r="1.45" fill="#8c88cc"/><rect x="370.7" y="617.6" width="2.67" height="2.67" fill="#8c88cc"/><rect x="307.8" y="627.2" width="2.67" height="2.67" fill="#8c88cc"/><rect x="328.7" y="610.9" width="2.67" height="2.67" fill="#8c88cc"/><rect x="254.4" y="558.0" width="2.67" height="2.67" fill="#cf74b9"/><circle cx="303.5" cy="594.5" r="1.45" fill="#30b2e2"/><circle cx="267.3" cy="576.4" r="1.45" fill="#8c88cc"/><path d="M307.7 616.7l1.67 2.97h-3.33z" fill="#30b2e2"/><circle cx="351.0" cy="628.2" r="1.45" fill="#8c88cc"/><circle cx="305.4" cy="594.4" r="1.45" fill="#cf74b9"/><rect x="314.9" y="612.8" width="2.67" height="2.67" fill="#30b2e2"/><rect x="223.0" y="579.5" width="2.67" height="2.67" fill="#30b2e2"/><path d="M320.3 574.4l1.67 2.97h-3.33z" fill="#cf74b9"/><rect x="320.3" y="607.2" width="2.67" height="2.67" fill="#8c88cc"/><circle cx="389.3" cy="541.2" r="1.45" fill="#30b2e2"/><rect x="341.4" y="622.6" width="2.67" height="2.67" fill="#8c88cc"/><circle cx="276.9" cy="573.2" r="1.45" fill="#cf74b9"/><rect x="306.7" y="598.5" width="2.67" height="2.67" fill="#30b2e2"/><circle cx="323.5" cy="598.8" r="1.45" fill="#cf74b9"/><rect x="272.2" y="564.6" width="2.67" height="2.67" fill="#cf74b9"/><rect x="287.9" y="603.7" width="2.67" height="2.67" fill="#30b2e2"/><path d="M275.1 552.9l1.67 2.97h-3.33z" fill="#cf74b9"/><rect x="273.9" y="604.8" width="2.67" height="2.67" fill="#30b2e2"/><rect x="310.4" y="611.1" width="2.67" height="2.67" fill="#8c88cc"/><circle cx="252.8" cy="596.5" r="1.45" fill="#8c88cc"/><path d="M284.4 591.4l1.67 2.97h-3.33z" fill="#30b2e2"/><circle cx="97.7" cy="523.2" r="1.45" fill="#cf74b9"/><rect x="311.4" y="602.6" width="2.67" height="2.67" fill="#8c88cc"/><circle cx="259.7" cy="612.5" r="1.45" fill="#30b2e2"/><circle cx="305.2" cy="608.0" r="1.45" fill="#8c88cc"/><path d="M203.7 587.5l1.67 2.97h-3.33z" fill="#30b2e2"/><circle cx="275.0" cy="617.4" r="1.45" fill="#8c88cc"/><path d="M293.0 609.3l1.67 2.97h-3.33z" fill="#cf74b9"/><rect x="303.3" y="615.8" width="2.67" height="2.67" fill="#8c88cc"/><circle cx="346.6" cy="606.6" r="1.45" fill="#30b2e2"/><circle cx="215.1" cy="530.9" r="1.45" fill="#cf74b9"/><path d="M279.4 594.9l1.67 2.97h-3.33z" fill="#cf74b9"/><rect x="363.7" y="621.6" width="2.67" height="2.67" fill="#30b2e2"/><path d="M277.5 593.7l1.67 2.97h-3.33z" fill="#cf74b9"/><circle cx="291.9" cy="599.8" r="1.45" fill="#30b2e2"/><path d="M292.3 556.8l1.67 2.97h-3.33z" fill="#30b2e2"/><rect x="268.9" y="588.2" width="2.67" height="2.67" fill="#8c88cc"/><circle cx="219.8" cy="580.3" r="1.45" fill="#cf74b9"/><circle cx="358.1" cy="589.4" r="1.45" fill="#8c88cc"/><rect x="178.2" y="564.1" width="2.67" height="2.67" fill="#cf74b9"/><rect x="315.5" y="599.1" width="2.67" height="2.67" fill="#cf74b9"/><circle cx="423.7" cy="629.2" r="1.45" fill="#8c88cc"/><rect x="298.9" y="547.2" width="2.67" height="2.67" fill="#cf74b9"/><path d="M328.0 621.6l1.67 2.97h-3.33z" fill="#8c88cc"/><circle cx="389.3" cy="618.7" r="1.45" fill="#8c88cc"/><rect x="320.7" y="608.4" width="2.67" height="2.67" fill="#8c88cc"/><path d="M338.3 601.4l1.67 2.97h-3.33z" fill="#8c88cc"/><rect x="335.6" y="618.2" width="2.67" height="2.67" fill="#8c88cc"/><circle cx="288.2" cy="590.2" r="1.45" fill="#cf74b9"/><path d="M224.5 600.8l1.67 2.97h-3.33z" fill="#cf74b9"/><rect x="300.8" y="607.1" width="2.67" height="2.67" fill="#8c88cc"/><path d="M370.8 629.5l1.67 2.97h-3.33z" fill="#30b2e2"/><rect x="238.3" y="611.7" width="2.67" height="2.67" fill="#8c88cc"/><path d="M258.5 598.2l1.67 2.97h-3.33z" fill="#30b2e2"/><path d="M282.9 600.4l1.67 2.97h-3.33z" fill="#30b2e2"/><rect x="339.0" y="616.0" width="2.67" height="2.67" fill="#8c88cc"/><circle cx="266.0" cy="578.4" r="1.45" fill="#30b2e2"/><circle cx="323.9" cy="628.5" r="1.45" fill="#30b2e2"/><circle cx="333.9" cy="613.0" r="1.45" fill="#8c88cc"/><circle cx="344.9" cy="619.7" r="1.45" fill="#30b2e2"/><rect x="353.0" y="617.6" width="2.67" height="2.67" fill="#8c88cc"/><rect x="259.3" y="610.9" width="2.67" height="2.67" fill="#cf74b9"/><rect x="310.8" y="596.1" width="2.67" height="2.67" fill="#30b2e2"/><rect x="319.2" y="610.3" width="2.67" height="2.67" fill="#8c88cc"/><path d="M273.3 568.5l1.67 2.97h-3.33z" fill="#cf74b9"/><path d="M373.5 621.0l1.67 2.97h-3.33z" fill="#8c88cc"/><circle cx="314.9" cy="605.9" r="1.45" fill="#cf74b9"/><circle cx="296.9" cy="521.8" r="1.45" fill="#8c88cc"/><circle cx="237.5" cy="579.9" r="1.45" fill="#cf74b9"/><path d="M355.6 626.8l1.67 2.97h-3.33z" fill="#8c88cc"/><rect x="394.9" y="606.2" width="2.67" height="2.67" fill="#cf74b9"/><rect x="319.4" y="546.0" width="2.67" height="2.67" fill="#cf74b9"/><rect x="342.4" y="620.1" width="2.67" height="2.67" fill="#30b2e2"/><circle cx="103.6" cy="577.7" r="1.45" fill="#cf74b9"/><rect x="239.5" y="605.4" width="2.67" height="2.67" fill="#30b2e2"/><circle cx="176.4" cy="539.0" r="1.45" fill="#cf74b9"/><rect x="304.7" y="605.7" width="2.67" height="2.67" fill="#30b2e2"/><path d="M268.6 592.0l1.67 2.97h-3.33z" fill="#30b2e2"/><path d="M260.6 597.7l1.67 2.97h-3.33z" fill="#cf74b9"/><rect x="299.6" y="617.4" width="2.67" height="2.67" fill="#8c88cc"/><rect x="298.1" y="607.8" width="2.67" height="2.67" fill="#8c88cc"/><rect x="294.7" y="618.0" width="2.67" height="2.67" fill="#8c88cc"/><path d="M285.5 613.4l1.67 2.97h-3.33z" fill="#30b2e2"/><circle cx="332.2" cy="613.7" r="1.45" fill="#30b2e2"/><circle cx="321.9" cy="609.4" r="1.45" fill="#8c88cc"/><circle cx="266.8" cy="596.6" r="1.45" fill="#30b2e2"/><circle cx="91.6" cy="566.8" r="1.45" fill="#cf74b9"/><rect x="352.3" y="620.8" width="2.67" height="2.67" fill="#8c88cc"/><rect x="260.5" y="585.0" width="2.67" height="2.67" fill="#cf74b9"/><path d="M212.1 549.1l1.67 2.97h-3.33z" fill="#cf74b9"/><path d="M295.6 603.6l1.67 2.97h-3.33z" fill="#8c88cc"/><rect x="282.1" y="609.0" width="2.67" height="2.67" fill="#8c88cc"/><rect x="227.5" y="615.6" width="2.67" height="2.67" fill="#cf74b9"/><rect x="243.8" y="559.6" width="2.67" height="2.67" fill="#30b2e2"/><path d="M333.8 580.7l1.67 2.97h-3.33z" fill="#30b2e2"/><rect x="397.8" y="620.1" width="2.67" height="2.67" fill="#8c88cc"/><circle cx="72.3" cy="517.5" r="1.45" fill="#cf74b9"/><rect x="322.4" y="615.5" width="2.67" height="2.67" fill="#8c88cc"/><circle cx="270.5" cy="584.3" r="1.45" fill="#30b2e2"/><rect x="363.6" y="613.2" width="2.67" height="2.67" fill="#cf74b9"/><rect x="207.8" y="533.2" width="2.67" height="2.67" fill="#cf74b9"/><rect x="264.4" y="610.0" width="2.67" height="2.67" fill="#30b2e2"/><circle cx="395.2" cy="625.0" r="1.45" fill="#8c88cc"/><rect x="392.6" y="612.4" width="2.67" height="2.67" fill="#30b2e2"/><circle cx="303.0" cy="597.6" r="1.45" fill="#8c88cc"/><circle cx="259.0" cy="566.5" r="1.45" fill="#cf74b9"/><rect x="247.6" y="574.6" width="2.67" height="2.67" fill="#30b2e2"/><rect x="291.2" y="588.6" width="2.67" height="2.67" fill="#30b2e2"/><circle cx="279.8" cy="613.3" r="1.45" fill="#30b2e2"/><circle cx="329.1" cy="628.5" r="1.45" fill="#8c88cc"/><circle cx="212.0" cy="608.7" r="1.45" fill="#30b2e2"/><path d="M382.6 620.4l1.67 2.97h-3.33z" fill="#8c88cc"/><path d="M356.1 611.4l1.67 2.97h-3.33z" fill="#30b2e2"/><path d="M303.9 595.2l1.67 2.97h-3.33z" fill="#cf74b9"/><circle cx="371.4" cy="633.2" r="1.45" fill="#8c88cc"/><path d="M240.7 602.9l1.67 2.97h-3.33z" fill="#cf74b9"/><circle cx="268.3" cy="602.2" r="1.45" fill="#30b2e2"/><rect x="293.2" y="617.2" width="2.67" height="2.67" fill="#8c88cc"/><rect x="360.0" y="613.3" width="2.67" height="2.67" fill="#30b2e2"/><path d="M297.1 593.0l1.67 2.97h-3.33z" fill="#8c88cc"/><path d="M320.7 598.8l1.67 2.97h-3.33z" fill="#30b2e2"/><rect x="351.3" y="624.3" width="2.67" height="2.67" fill="#8c88cc"/><path d="M295.6 617.4l1.67 2.97h-3.33z" fill="#cf74b9"/><path d="M344.6 619.5l1.67 2.97h-3.33z" fill="#30b2e2"/><path d="M269.6 586.7l1.67 2.97h-3.33z" fill="#cf74b9"/><rect x="317.5" y="609.9" width="2.67" height="2.67" fill="#8c88cc"/><rect x="251.8" y="617.0" width="2.67" height="2.67" fill="#8c88cc"/><path d="M263.1 505.1l1.67 2.97h-3.33z" fill="#30b2e2"/><circle cx="208.6" cy="570.2" r="1.45" fill="#30b2e2"/><path d="M265.7 574.1l1.67 2.97h-3.33z" fill="#30b2e2"/><rect x="364.8" y="621.2" width="2.67" height="2.67" fill="#8c88cc"/><rect x="260.1" y="588.6" width="2.67" height="2.67" fill="#cf74b9"/><rect x="129.6" y="560.1" width="2.67" height="2.67" fill="#cf74b9"/><path d="M295.2 582.8l1.67 2.97h-3.33z" fill="#cf74b9"/><rect x="381.2" y="591.3" width="2.67" height="2.67" fill="#cf74b9"/><rect x="353.4" y="628.7" width="2.67" height="2.67" fill="#8c88cc"/><rect x="375.0" y="621.5" width="2.67" height="2.67" fill="#8c88cc"/><path d="M256.0 590.9l1.67 2.97h-3.33z" fill="#8c88cc"/><path d="M339.5 601.6l1.67 2.97h-3.33z" fill="#cf74b9"/><path d="M403.6 625.4l1.67 2.97h-3.33z" fill="#8c88cc"/><path d="M327.3 610.2l1.67 2.97h-3.33z" fill="#8c88cc"/><path d="M288.2 572.8l1.67 2.97h-3.33z" fill="#cf74b9"/><circle cx="159.1" cy="579.3" r="1.45" fill="#cf74b9"/><path d="M255.5 582.2l1.67 2.97h-3.33z" fill="#cf74b9"/><circle cx="179.5" cy="515.5" r="1.45" fill="#cf74b9"/><rect x="303.8" y="611.1" width="2.67" height="2.67" fill="#30b2e2"/><rect x="234.3" y="591.1" width="2.67" height="2.67" fill="#cf74b9"/><path d="M398.4 627.7l1.67 2.97h-3.33z" fill="#8c88cc"/><circle cx="243.2" cy="576.4" r="1.45" fill="#cf74b9"/><rect x="309.1" y="621.8" width="2.67" height="2.67" fill="#8c88cc"/><rect x="321.3" y="618.0" width="2.67" height="2.67" fill="#8c88cc"/><path d="M214.5 575.7l1.67 2.97h-3.33z" fill="#cf74b9"/><rect x="340.6" y="620.4" width="2.67" height="2.67" fill="#30b2e2"/><rect x="312.2" y="619.4" width="2.67" height="2.67" fill="#30b2e2"/><path d="M135.9 549.1l1.67 2.97h-3.33z" fill="#cf74b9"/><rect x="374.7" y="622.8" width="2.67" height="2.67" fill="#8c88cc"/><circle cx="227.2" cy="558.6" r="1.45" fill="#cf74b9"/><path d="M363.4 565.4l1.67 2.97h-3.33z" fill="#cf74b9"/><circle cx="111.4" cy="565.2" r="1.45" fill="#cf74b9"/><circle cx="290.0" cy="607.8" r="1.45" fill="#30b2e2"/><path d="M295.6 597.1l1.67 2.97h-3.33z" fill="#30b2e2"/><path d="M246.0 552.0l1.67 2.97h-3.33z" fill="#cf74b9"/><rect x="261.2" y="587.2" width="2.67" height="2.67" fill="#cf74b9"/><path d="M343.3 628.4l1.67 2.97h-3.33z" fill="#8c88cc"/><circle cx="230.5" cy="489.5" r="1.45" fill="#30b2e2"/><circle cx="284.2" cy="619.7" r="1.45" fill="#8c88cc"/><rect x="299.3" y="619.5" width="2.67" height="2.67" fill="#8c88cc"/><rect x="236.3" y="590.7" width="2.67" height="2.67" fill="#cf74b9"/><circle cx="223.5" cy="607.0" r="1.45" fill="#cf74b9"/><path d="M278.8 586.1l1.67 2.97h-3.33z" fill="#30b2e2"/><rect x="302.2" y="616.5" width="2.67" height="2.67" fill="#30b2e2"/><rect x="323.8" y="602.6" width="2.67" height="2.67" fill="#8c88cc"/><circle cx="299.1" cy="508.7" r="1.45" fill="#30b2e2"/><path d="M342.0 619.6l1.67 2.97h-3.33z" fill="#8c88cc"/><circle cx="372.0" cy="632.7" r="1.45" fill="#8c88cc"/><circle cx="143.9" cy="557.7" r="1.45" fill="#cf74b9"/><circle cx="293.6" cy="566.2" r="1.45" fill="#cf74b9"/><circle cx="189.1" cy="588.5" r="1.45" fill="#cf74b9"/><rect x="274.3" y="600.2" width="2.67" height="2.67" fill="#30b2e2"/><rect x="277.7" y="575.7" width="2.67" height="2.67" fill="#cf74b9"/><circle cx="272.6" cy="594.7" r="1.45" fill="#30b2e2"/><rect x="363.4" y="616.4" width="2.67" height="2.67" fill="#8c88cc"/><circle cx="289.9" cy="612.1" r="1.45" fill="#30b2e2"/><path d="M327.2 619.0l1.67 2.97h-3.33z" fill="#8c88cc"/><rect x="346.2" y="591.9" width="2.67" height="2.67" fill="#30b2e2"/><circle cx="254.9" cy="597.0" r="1.45" fill="#cf74b9"/><path d="M237.1 573.0l1.67 2.97h-3.33z" fill="#30b2e2"/><rect x="360.6" y="624.6" width="2.67" height="2.67" fill="#8c88cc"/><circle cx="314.3" cy="545.3" r="1.45" fill="#cf74b9"/><path d="M297.7 602.1l1.67 2.97h-3.33z" fill="#30b2e2"/><circle cx="249.1" cy="607.7" r="1.45" fill="#30b2e2"/><path d="M432.5 592.4l1.67 2.97h-3.33z" fill="#5cc89e"/><path d="M309.2 615.9l1.67 2.97h-3.33z" fill="#8c88cc"/><path d="M282.4 587.6l1.67 2.97h-3.33z" fill="#8c88cc"/><path d="M308.6 613.8l1.67 2.97h-3.33z" fill="#cf74b9"/><rect x="298.8" y="615.6" width="2.67" height="2.67" fill="#30b2e2"/><circle cx="285.3" cy="587.3" r="1.45" fill="#cf74b9"/><rect x="285.0" y="620.1" width="2.67" height="2.67" fill="#8c88cc"/><circle cx="304.0" cy="576.3" r="1.45" fill="#cf74b9"/><circle cx="365.3" cy="623.2" r="1.45" fill="#8c88cc"/><circle cx="277.0" cy="601.8" r="1.45" fill="#cf74b9"/><path d="M405.6 588.0l1.67 2.97h-3.33z" fill="#5cc89e"/><rect x="255.2" y="621.6" width="2.67" height="2.67" fill="#8c88cc"/><circle cx="344.1" cy="630.6" r="1.45" fill="#8c88cc"/><circle cx="304.4" cy="590.3" r="1.45" fill="#cf74b9"/><circle cx="303.3" cy="572.4" r="1.45" fill="#cf74b9"/><path d="M264.7 602.0l1.67 2.97h-3.33z" fill="#cf74b9"/><path d="M313.0 616.7l1.67 2.97h-3.33z" fill="#8c88cc"/><rect x="328.5" y="607.6" width="2.67" height="2.67" fill="#cf74b9"/><rect x="344.3" y="610.3" width="2.67" height="2.67" fill="#30b2e2"/><rect x="304.8" y="621.2" width="2.67" height="2.67" fill="#30b2e2"/><circle cx="128.6" cy="578.9" r="1.45" fill="#cf74b9"/><path d="M253.2 548.8l1.67 2.97h-3.33z" fill="#cf74b9"/><circle cx="266.3" cy="581.0" r="1.45" fill="#30b2e2"/><rect x="256.9" y="551.7" width="2.67" height="2.67" fill="#cf74b9"/><path d="M381.1 591.4l1.67 2.97h-3.33z" fill="#8c88cc"/><rect x="303.3" y="601.6" width="2.67" height="2.67" fill="#8c88cc"/><path d="M223.9 610.3l1.67 2.97h-3.33z" fill="#cf74b9"/><circle cx="193.2" cy="556.9" r="1.45" fill="#cf74b9"/><path d="M308.3 603.3l1.67 2.97h-3.33z" fill="#cf74b9"/><circle cx="224.7" cy="603.8" r="1.45" fill="#cf74b9"/><path d="M366.7 626.0l1.67 2.97h-3.33z" fill="#8c88cc"/><rect x="234.2" y="556.2" width="2.67" height="2.67" fill="#cf74b9"/><path d="M266.7 492.7l1.67 2.97h-3.33z" fill="#30b2e2"/><circle cx="299.2" cy="618.0" r="1.45" fill="#30b2e2"/><path d="M350.2 611.5l1.67 2.97h-3.33z" fill="#30b2e2"/><circle cx="360.0" cy="611.7" r="1.45" fill="#8c88cc"/><rect x="278.3" y="601.2" width="2.67" height="2.67" fill="#8c88cc"/><path d="M251.5 539.4l1.67 2.97h-3.33z" fill="#8c88cc"/><path d="M322.3 613.8l1.67 2.97h-3.33z" fill="#30b2e2"/><rect x="311.5" y="574.7" width="2.67" height="2.67" fill="#cf74b9"/><circle cx="362.4" cy="624.3" r="1.45" fill="#8c88cc"/><rect x="349.5" y="629.0" width="2.67" height="2.67" fill="#8c88cc"/><circle cx="140.5" cy="556.8" r="1.45" fill="#cf74b9"/><circle cx="225.1" cy="579.7" r="1.45" fill="#cf74b9"/><path d="M360.3 624.6l1.67 2.97h-3.33z" fill="#8c88cc"/><circle cx="285.8" cy="613.3" r="1.45" fill="#30b2e2"/><circle cx="322.1" cy="627.0" r="1.45" fill="#8c88cc"/><circle cx="358.3" cy="619.3" r="1.45" fill="#8c88cc"/><circle cx="284.8" cy="624.4" r="1.45" fill="#30b2e2"/><circle cx="174.3" cy="573.4" r="1.45" fill="#cf74b9"/><circle cx="303.0" cy="616.4" r="1.45" fill="#8c88cc"/><path d="M291.6 599.3l1.67 2.97h-3.33z" fill="#cf74b9"/><rect x="311.3" y="617.0" width="2.67" height="2.67" fill="#8c88cc"/><path d="M226.7 602.5l1.67 2.97h-3.33z" fill="#cf74b9"/><circle cx="371.9" cy="612.4" r="1.45" fill="#30b2e2"/><circle cx="326.8" cy="579.7" r="1.45" fill="#cf74b9"/><circle cx="387.2" cy="621.3" r="1.45" fill="#8c88cc"/><path d="M191.9 573.7l1.67 2.97h-3.33z" fill="#cf74b9"/><circle cx="234.5" cy="578.9" r="1.45" fill="#cf74b9"/><rect x="277.8" y="587.9" width="2.67" height="2.67" fill="#30b2e2"/><path d="M295.6 598.0l1.67 2.97h-3.33z" fill="#8c88cc"/><path d="M320.0 611.7l1.67 2.97h-3.33z" fill="#8c88cc"/><rect x="249.7" y="611.0" width="2.67" height="2.67" fill="#8c88cc"/><rect x="237.8" y="566.6" width="2.67" height="2.67" fill="#cf74b9"/><circle cx="261.4" cy="546.5" r="1.45" fill="#8c88cc"/><circle cx="390.7" cy="626.7" r="1.45" fill="#8c88cc"/><path d="M222.8 539.0l1.67 2.97h-3.33z" fill="#cf74b9"/><rect x="297.1" y="605.2" width="2.67" height="2.67" fill="#8c88cc"/><circle cx="270.7" cy="614.4" r="1.45" fill="#8c88cc"/><circle cx="390.4" cy="579.3" r="1.45" fill="#f07b76"/><rect x="215.8" y="580.7" width="2.67" height="2.67" fill="#8c88cc"/><circle cx="174.8" cy="564.4" r="1.45" fill="#cf74b9"/><circle cx="330.1" cy="609.0" r="1.45" fill="#cf74b9"/><circle cx="241.1" cy="581.9" r="1.45" fill="#cf74b9"/><circle cx="104.5" cy="524.3" r="1.45" fill="#cf74b9"/><circle cx="192.2" cy="570.7" r="1.45" fill="#cf74b9"/><rect x="278.5" y="609.7" width="2.67" height="2.67" fill="#8c88cc"/><rect x="348.7" y="613.4" width="2.67" height="2.67" fill="#8c88cc"/><circle cx="291.8" cy="579.1" r="1.45" fill="#cf74b9"/><path d="M234.6 587.9l1.67 2.97h-3.33z" fill="#cf74b9"/><circle cx="295.8" cy="620.6" r="1.45" fill="#8c88cc"/><circle cx="281.9" cy="585.7" r="1.45" fill="#30b2e2"/><path d="M258.5 593.5l1.67 2.97h-3.33z" fill="#30b2e2"/><circle cx="165.5" cy="574.1" r="1.45" fill="#cf74b9"/><rect x="324.7" y="601.9" width="2.67" height="2.67" fill="#30b2e2"/><rect x="252.4" y="607.4" width="2.67" height="2.67" fill="#30b2e2"/><rect x="315.7" y="613.3" width="2.67" height="2.67" fill="#8c88cc"/><path d="M314.1 625.5l1.67 2.97h-3.33z" fill="#8c88cc"/><path d="M273.5 614.1l1.67 2.97h-3.33z" fill="#8c88cc"/><rect x="288.8" y="570.1" width="2.67" height="2.67" fill="#cf74b9"/><path d="M293.3 616.7l1.67 2.97h-3.33z" fill="#30b2e2"/><rect x="281.1" y="605.9" width="2.67" height="2.67" fill="#8c88cc"/><circle cx="287.9" cy="581.0" r="1.45" fill="#cf74b9"/><path d="M257.8 513.7l1.67 2.97h-3.33z" fill="#cf74b9"/><circle cx="343.8" cy="620.3" r="1.45" fill="#8c88cc"/><path d="M329.9 613.4l1.67 2.97h-3.33z" fill="#8c88cc"/><circle cx="190.5" cy="469.5" r="1.45" fill="#cf74b9"/><path d="M264.6 578.4l1.67 2.97h-3.33z" fill="#30b2e2"/><rect x="278.1" y="596.8" width="2.67" height="2.67" fill="#cf74b9"/><path d="M362.6 629.4l1.67 2.97h-3.33z" fill="#8c88cc"/><rect x="228.5" y="566.8" width="2.67" height="2.67" fill="#cf74b9"/><circle cx="321.4" cy="620.0" r="1.45" fill="#8c88cc"/><rect x="317.7" y="611.6" width="2.67" height="2.67" fill="#30b2e2"/><circle cx="338.4" cy="630.0" r="1.45" fill="#8c88cc"/><circle cx="141.6" cy="584.5" r="1.45" fill="#cf74b9"/><rect x="311.7" y="610.8" width="2.67" height="2.67" fill="#8c88cc"/><circle cx="247.3" cy="521.5" r="1.45" fill="#cf74b9"/><circle cx="291.0" cy="588.9" r="1.45" fill="#cf74b9"/><circle cx="318.4" cy="599.3" r="1.45" fill="#30b2e2"/><rect x="249.1" y="593.4" width="2.67" height="2.67" fill="#30b2e2"/><path d="M268.5 562.2l1.67 2.97h-3.33z" fill="#cf74b9"/><path d="M266.0 605.9l1.67 2.97h-3.33z" fill="#8c88cc"/><rect x="288.1" y="618.2" width="2.67" height="2.67" fill="#8c88cc"/><path d="M275.3 592.2l1.67 2.97h-3.33z" fill="#30b2e2"/><circle cx="311.3" cy="623.1" r="1.45" fill="#8c88cc"/><circle cx="373.8" cy="623.7" r="1.45" fill="#8c88cc"/><rect x="282.1" y="605.3" width="2.67" height="2.67" fill="#cf74b9"/><path d="M225.8 585.3l1.67 2.97h-3.33z" fill="#8c88cc"/><circle cx="301.5" cy="609.8" r="1.45" fill="#8c88cc"/><rect x="307.1" y="612.1" width="2.67" height="2.67" fill="#30b2e2"/><path d="M295.5 603.6l1.67 2.97h-3.33z" fill="#cf74b9"/><circle cx="275.0" cy="573.1" r="1.45" fill="#cf74b9"/><path d="M271.7 605.9l1.67 2.97h-3.33z" fill="#30b2e2"/><circle cx="289.4" cy="605.1" r="1.45" fill="#30b2e2"/><circle cx="207.3" cy="556.5" r="1.45" fill="#30b2e2"/><circle cx="310.0" cy="613.8" r="1.45" fill="#8c88cc"/><circle cx="348.4" cy="607.1" r="1.45" fill="#8c88cc"/><rect x="347.2" y="627.0" width="2.67" height="2.67" fill="#8c88cc"/><circle cx="360.4" cy="626.6" r="1.45" fill="#8c88cc"/><rect x="307.9" y="616.7" width="2.67" height="2.67" fill="#8c88cc"/><path d="M294.0 624.6l1.67 2.97h-3.33z" fill="#8c88cc"/><circle cx="297.4" cy="601.4" r="1.45" fill="#30b2e2"/><circle cx="313.9" cy="619.9" r="1.45" fill="#8c88cc"/><circle cx="272.3" cy="609.9" r="1.45" fill="#30b2e2"/><circle cx="262.4" cy="583.2" r="1.45" fill="#30b2e2"/><rect x="323.2" y="617.4" width="2.67" height="2.67" fill="#30b2e2"/><circle cx="324.8" cy="618.5" r="1.45" fill="#8c88cc"/><circle cx="309.5" cy="621.2" r="1.45" fill="#8c88cc"/><path d="M216.3 559.3l1.67 2.97h-3.33z" fill="#30b2e2"/><circle cx="314.4" cy="589.4" r="1.45" fill="#8c88cc"/><rect x="372.7" y="595.0" width="2.67" height="2.67" fill="#cf74b9"/><path d="M193.2 561.2l1.67 2.97h-3.33z" fill="#30b2e2"/><circle cx="312.4" cy="625.9" r="1.45" fill="#30b2e2"/><circle cx="302.1" cy="622.7" r="1.45" fill="#8c88cc"/><path d="M321.6 604.1l1.67 2.97h-3.33z" fill="#8c88cc"/><path d="M259.7 586.0l1.67 2.97h-3.33z" fill="#30b2e2"/><rect x="356.3" y="620.7" width="2.67" height="2.67" fill="#30b2e2"/><path d="M273.3 609.1l1.67 2.97h-3.33z" fill="#30b2e2"/><circle cx="368.1" cy="623.3" r="1.45" fill="#8c88cc"/><path d="M323.2 572.9l1.67 2.97h-3.33z" fill="#cf74b9"/><circle cx="300.8" cy="608.9" r="1.45" fill="#8c88cc"/><rect x="265.1" y="600.5" width="2.67" height="2.67" fill="#30b2e2"/><circle cx="320.5" cy="502.2" r="1.45" fill="#30b2e2"/><circle cx="300.3" cy="609.0" r="1.45" fill="#30b2e2"/><path d="M362.9 598.1l1.67 2.97h-3.33z" fill="#cf74b9"/><circle cx="371.5" cy="620.2" r="1.45" fill="#8c88cc"/><circle cx="250.5" cy="573.1" r="1.45" fill="#8c88cc"/><path d="M222.4 608.1l1.67 2.97h-3.33z" fill="#8c88cc"/><rect x="287.9" y="617.9" width="2.67" height="2.67" fill="#30b2e2"/><path d="M366.8 630.5l1.67 2.97h-3.33z" fill="#8c88cc"/><circle cx="261.1" cy="572.5" r="1.45" fill="#cf74b9"/><rect x="229.9" y="607.5" width="2.67" height="2.67" fill="#8c88cc"/><circle cx="312.4" cy="622.7" r="1.45" fill="#8c88cc"/><circle cx="299.9" cy="620.6" r="1.45" fill="#8c88cc"/><circle cx="318.4" cy="611.6" r="1.45" fill="#30b2e2"/><rect x="407.7" y="630.9" width="2.67" height="2.67" fill="#8c88cc"/><rect x="216.6" y="611.8" width="2.67" height="2.67" fill="#30b2e2"/><circle cx="240.5" cy="602.1" r="1.45" fill="#8c88cc"/><circle cx="165.5" cy="563.0" r="1.45" fill="#cf74b9"/><circle cx="238.0" cy="617.6" r="1.45" fill="#30b2e2"/><rect x="260.2" y="609.6" width="2.67" height="2.67" fill="#cf74b9"/><circle cx="389.9" cy="628.7" r="1.45" fill="#8c88cc"/><rect x="270.6" y="592.6" width="2.67" height="2.67" fill="#30b2e2"/><path d="M232.4 525.1l1.67 2.97h-3.33z" fill="#30b2e2"/><path d="M321.2 577.5l1.67 2.97h-3.33z" fill="#cf74b9"/><path d="M274.7 598.2l1.67 2.97h-3.33z" fill="#8c88cc"/><path d="M214.9 520.9l1.67 2.97h-3.33z" fill="#cf74b9"/><circle cx="285.5" cy="613.9" r="1.45" fill="#8c88cc"/><circle cx="150.7" cy="546.6" r="1.45" fill="#cf74b9"/><path d="M300.0 601.3l1.67 2.97h-3.33z" fill="#30b2e2"/><path d="M302.3 604.0l1.67 2.97h-3.33z" fill="#cf74b9"/><rect x="284.1" y="613.1" width="2.67" height="2.67" fill="#cf74b9"/><rect x="359.5" y="620.1" width="2.67" height="2.67" fill="#cf74b9"/><rect x="300.9" y="610.6" width="2.67" height="2.67" fill="#8c88cc"/><path d="M358.3 567.3l1.67 2.97h-3.33z" fill="#cf74b9"/><path d="M317.8 602.5l1.67 2.97h-3.33z" fill="#30b2e2"/><rect x="343.6" y="619.3" width="2.67" height="2.67" fill="#30b2e2"/><path d="M319.6 608.5l1.67 2.97h-3.33z" fill="#30b2e2"/><rect x="413.5" y="566.7" width="2.67" height="2.67" fill="#1a7a44"/><path d="M301.6 562.9l1.67 2.97h-3.33z" fill="#cf74b9"/><rect x="275.2" y="553.7" width="2.67" height="2.67" fill="#30b2e2"/><path d="M250.0 621.3l1.67 2.97h-3.33z" fill="#8c88cc"/><circle cx="269.2" cy="606.8" r="1.45" fill="#30b2e2"/><rect x="347.4" y="605.9" width="2.67" height="2.67" fill="#8c88cc"/><path d="M392.9 629.0l1.67 2.97h-3.33z" fill="#8c88cc"/><path d="M218.8 581.1l1.67 2.97h-3.33z" fill="#cf74b9"/><path d="M263.4 583.1l1.67 2.97h-3.33z" fill="#cf74b9"/><path d="M256.7 569.3l1.67 2.97h-3.33z" fill="#30b2e2"/><circle cx="263.9" cy="606.4" r="1.45" fill="#8c88cc"/><path d="M251.3 552.0l1.67 2.97h-3.33z" fill="#cf74b9"/><circle cx="226.1" cy="600.3" r="1.45" fill="#30b2e2"/><path d="M368.8 620.9l1.67 2.97h-3.33z" fill="#8c88cc"/><path d="M257.4 560.6l1.67 2.97h-3.33z" fill="#cf74b9"/><circle cx="265.7" cy="618.5" r="1.45" fill="#cf74b9"/><circle cx="72.7" cy="545.9" r="1.45" fill="#cf74b9"/><path d="M322.9 605.4l1.67 2.97h-3.33z" fill="#8c88cc"/><circle cx="348.5" cy="602.9" r="1.45" fill="#8c88cc"/><path d="M277.8 601.5l1.67 2.97h-3.33z" fill="#30b2e2"/><rect x="249.5" y="601.1" width="2.67" height="2.67" fill="#8c88cc"/><path d="M286.4 584.0l1.67 2.97h-3.33z" fill="#8c88cc"/><path d="M256.0 582.5l1.67 2.97h-3.33z" fill="#cf74b9"/><rect x="293.1" y="579.8" width="2.67" height="2.67" fill="#cf74b9"/><rect x="304.3" y="588.5" width="2.67" height="2.67" fill="#cf74b9"/><rect x="364.1" y="612.8" width="2.67" height="2.67" fill="#8c88cc"/><path d="M321.9 604.5l1.67 2.97h-3.33z" fill="#30b2e2"/><circle cx="320.2" cy="600.8" r="1.45" fill="#30b2e2"/><rect x="342.2" y="553.1" width="2.67" height="2.67" fill="#cf74b9"/><path d="M330.1 615.8l1.67 2.97h-3.33z" fill="#30b2e2"/><circle cx="268.2" cy="536.7" r="1.45" fill="#30b2e2"/><circle cx="287.9" cy="586.9" r="1.45" fill="#cf74b9"/><rect x="213.4" y="586.9" width="2.67" height="2.67" fill="#30b2e2"/><rect x="270.4" y="557.7" width="2.67" height="2.67" fill="#cf74b9"/><rect x="255.0" y="596.8" width="2.67" height="2.67" fill="#cf74b9"/><path d="M263.7 586.8l1.67 2.97h-3.33z" fill="#cf74b9"/><path d="M131.4 522.5l1.67 2.97h-3.33z" fill="#5cc89e"/><path d="M294.0 619.0l1.67 2.97h-3.33z" fill="#8c88cc"/><path d="M332.4 607.0l1.67 2.97h-3.33z" fill="#30b2e2"/><path d="M315.0 623.5l1.67 2.97h-3.33z" fill="#8c88cc"/><circle cx="270.5" cy="590.8" r="1.45" fill="#8c88cc"/><circle cx="288.4" cy="588.8" r="1.45" fill="#8c88cc"/><circle cx="304.9" cy="612.3" r="1.45" fill="#cf74b9"/><rect x="231.4" y="553.2" width="2.67" height="2.67" fill="#30b2e2"/><circle cx="316.1" cy="575.8" r="1.45" fill="#cf74b9"/><circle cx="396.5" cy="582.2" r="1.45" fill="#8c88cc"/><rect x="322.1" y="608.3" width="2.67" height="2.67" fill="#8c88cc"/><rect x="323.7" y="613.6" width="2.67" height="2.67" fill="#cf74b9"/><circle cx="193.1" cy="583.5" r="1.45" fill="#cf74b9"/><circle cx="240.8" cy="604.6" r="1.45" fill="#30b2e2"/><path d="M242.9 608.4l1.67 2.97h-3.33z" fill="#8c88cc"/><path d="M328.7 623.5l1.67 2.97h-3.33z" fill="#8c88cc"/><rect x="337.9" y="605.4" width="2.67" height="2.67" fill="#30b2e2"/><circle cx="287.5" cy="619.7" r="1.45" fill="#8c88cc"/><path d="M300.1 564.0l1.67 2.97h-3.33z" fill="#cf74b9"/><circle cx="384.2" cy="630.4" r="1.45" fill="#8c88cc"/><rect x="274.4" y="558.3" width="2.67" height="2.67" fill="#cf74b9"/><rect x="161.4" y="510.5" width="2.67" height="2.67" fill="#cf74b9"/><rect x="351.4" y="618.1" width="2.67" height="2.67" fill="#8c88cc"/><rect x="275.8" y="613.9" width="2.67" height="2.67" fill="#30b2e2"/><circle cx="367.4" cy="618.2" r="1.45" fill="#8c88cc"/><circle cx="382.6" cy="630.5" r="1.45" fill="#30b2e2"/><circle cx="334.8" cy="624.3" r="1.45" fill="#8c88cc"/><circle cx="321.9" cy="612.6" r="1.45" fill="#30b2e2"/><path d="M223.7 586.2l1.67 2.97h-3.33z" fill="#cf74b9"/><path d="M285.3 586.8l1.67 2.97h-3.33z" fill="#30b2e2"/><rect x="303.8" y="595.9" width="2.67" height="2.67" fill="#30b2e2"/><rect x="226.9" y="574.7" width="2.67" height="2.67" fill="#cf74b9"/><path d="M242.4 581.5l1.67 2.97h-3.33z" fill="#cf74b9"/><path d="M296.6 589.8l1.67 2.97h-3.33z" fill="#8c88cc"/><path d="M281.4 602.6l1.67 2.97h-3.33z" fill="#cf74b9"/><path d="M298.9 611.3l1.67 2.97h-3.33z" fill="#8c88cc"/><circle cx="257.2" cy="601.8" r="1.45" fill="#30b2e2"/><path d="M285.9 555.1l1.67 2.97h-3.33z" fill="#cf74b9"/><path d="M301.0 604.6l1.67 2.97h-3.33z" fill="#30b2e2"/><rect x="277.0" y="588.1" width="2.67" height="2.67" fill="#cf74b9"/><rect x="343.4" y="614.6" width="2.67" height="2.67" fill="#8c88cc"/><rect x="316.0" y="622.1" width="2.67" height="2.67" fill="#8c88cc"/><rect x="300.0" y="609.3" width="2.67" height="2.67" fill="#30b2e2"/><rect x="303.8" y="604.9" width="2.67" height="2.67" fill="#30b2e2"/><circle cx="298.7" cy="616.9" r="1.45" fill="#30b2e2"/><circle cx="302.4" cy="573.1" r="1.45" fill="#cf74b9"/><circle cx="303.8" cy="609.2" r="1.45" fill="#30b2e2"/><rect x="360.4" y="609.5" width="2.67" height="2.67" fill="#8c88cc"/><circle cx="219.9" cy="606.8" r="1.45" fill="#cf74b9"/><path d="M312.8 616.5l1.67 2.97h-3.33z" fill="#30b2e2"/><path d="M296.6 605.2l1.67 2.97h-3.33z" fill="#30b2e2"/><circle cx="310.3" cy="596.4" r="1.45" fill="#cf74b9"/><circle cx="247.4" cy="578.1" r="1.45" fill="#cf74b9"/><rect x="402.5" y="631.4" width="2.67" height="2.67" fill="#8c88cc"/><circle cx="336.2" cy="608.6" r="1.45" fill="#30b2e2"/><rect x="365.8" y="621.8" width="2.67" height="2.67" fill="#8c88cc"/><circle cx="301.2" cy="614.3" r="1.45" fill="#30b2e2"/><circle cx="325.4" cy="573.6" r="1.45" fill="#30b2e2"/><rect x="307.9" y="609.9" width="2.67" height="2.67" fill="#8c88cc"/><rect x="249.0" y="609.3" width="2.67" height="2.67" fill="#cf74b9"/><circle cx="347.9" cy="628.3" r="1.45" fill="#8c88cc"/><path d="M322.5 609.3l1.67 2.97h-3.33z" fill="#8c88cc"/><path d="M318.0 572.3l1.67 2.97h-3.33z" fill="#cf74b9"/><path d="M297.2 606.6l1.67 2.97h-3.33z" fill="#cf74b9"/><path d="M221.5 574.0l1.67 2.97h-3.33z" fill="#30b2e2"/><circle cx="250.6" cy="593.3" r="1.45" fill="#8c88cc"/><circle cx="387.7" cy="618.4" r="1.45" fill="#30b2e2"/><rect x="351.8" y="599.0" width="2.67" height="2.67" fill="#30b2e2"/><circle cx="349.4" cy="611.9" r="1.45" fill="#8c88cc"/><circle cx="409.3" cy="578.9" r="1.45" fill="#cf74b9"/><path d="M268.8 567.7l1.67 2.97h-3.33z" fill="#cf74b9"/><circle cx="81.4" cy="558.4" r="1.45" fill="#cf74b9"/><rect x="309.1" y="622.2" width="2.67" height="2.67" fill="#30b2e2"/><path d="M376.2 627.2l1.67 2.97h-3.33z" fill="#8c88cc"/><rect x="298.5" y="610.8" width="2.67" height="2.67" fill="#30b2e2"/><path d="M210.0 589.5l1.67 2.97h-3.33z" fill="#30b2e2"/><path d="M236.6 560.7l1.67 2.97h-3.33z" fill="#cf74b9"/><rect x="325.2" y="605.0" width="2.67" height="2.67" fill="#cf74b9"/><circle cx="313.5" cy="617.2" r="1.45" fill="#8c88cc"/><path d="M228.8 617.8l1.67 2.97h-3.33z" fill="#8c88cc"/><path d="M242.0 555.7l1.67 2.97h-3.33z" fill="#30b2e2"/><path d="M348.3 602.6l1.67 2.97h-3.33z" fill="#30b2e2"/><path d="M288.0 590.2l1.67 2.97h-3.33z" fill="#8c88cc"/><rect x="371.6" y="627.4" width="2.67" height="2.67" fill="#8c88cc"/><path d="M252.8 586.7l1.67 2.97h-3.33z" fill="#8c88cc"/><circle cx="117.3" cy="526.6" r="1.45" fill="#cf74b9"/><rect x="331.1" y="609.2" width="2.67" height="2.67" fill="#8c88cc"/><rect x="254.5" y="612.7" width="2.67" height="2.67" fill="#8c88cc"/><path d="M237.8 594.5l1.67 2.97h-3.33z" fill="#cf74b9"/><path d="M326.4 612.2l1.67 2.97h-3.33z" fill="#8c88cc"/><path d="M305.1 625.0l1.67 2.97h-3.33z" fill="#8c88cc"/><circle cx="220.0" cy="520.4" r="1.45" fill="#cf74b9"/><rect x="306.1" y="627.8" width="2.67" height="2.67" fill="#30b2e2"/><circle cx="290.4" cy="608.6" r="1.45" fill="#8c88cc"/><path d="M249.6 590.4l1.67 2.97h-3.33z" fill="#cf74b9"/><path d="M278.4 592.5l1.67 2.97h-3.33z" fill="#cf74b9"/><path d="M238.1 553.5l1.67 2.97h-3.33z" fill="#cf74b9"/><circle cx="283.3" cy="524.0" r="1.45" fill="#cf74b9"/><circle cx="336.0" cy="627.6" r="1.45" fill="#8c88cc"/><path d="M264.6 574.3l1.67 2.97h-3.33z" fill="#30b2e2"/><circle cx="223.8" cy="565.2" r="1.45" fill="#cf74b9"/><rect x="312.3" y="623.8" width="2.67" height="2.67" fill="#8c88cc"/><circle cx="262.4" cy="503.6" r="1.45" fill="#cf74b9"/><circle cx="300.7" cy="606.9" r="1.45" fill="#8c88cc"/><circle cx="158.6" cy="557.7" r="1.45" fill="#cf74b9"/><path d="M326.1 615.9l1.67 2.97h-3.33z" fill="#8c88cc"/><rect x="235.8" y="555.6" width="2.67" height="2.67" fill="#cf74b9"/><circle cx="256.5" cy="612.9" r="1.45" fill="#8c88cc"/><rect x="275.7" y="590.7" width="2.67" height="2.67" fill="#30b2e2"/><rect x="303.9" y="588.7" width="2.67" height="2.67" fill="#cf74b9"/><rect x="284.4" y="580.1" width="2.67" height="2.67" fill="#8c88cc"/><rect x="339.2" y="626.2" width="2.67" height="2.67" fill="#8c88cc"/><rect x="282.1" y="583.6" width="2.67" height="2.67" fill="#8c88cc"/><path d="M245.5 552.4l1.67 2.97h-3.33z" fill="#cf74b9"/><circle cx="357.6" cy="598.5" r="1.45" fill="#8c88cc"/><path d="M286.3 618.8l1.67 2.97h-3.33z" fill="#8c88cc"/><rect x="353.2" y="618.0" width="2.67" height="2.67" fill="#30b2e2"/><path d="M315.1 608.0l1.67 2.97h-3.33z" fill="#30b2e2"/><path d="M354.0 628.9l1.67 2.97h-3.33z" fill="#30b2e2"/><rect x="356.7" y="617.4" width="2.67" height="2.67" fill="#8c88cc"/><path d="M265.7 580.6l1.67 2.97h-3.33z" fill="#cf74b9"/><path d="M166.6 542.3l1.67 2.97h-3.33z" fill="#5cc89e"/><circle cx="322.2" cy="623.2" r="1.45" fill="#8c88cc"/><circle cx="287.3" cy="594.2" r="1.45" fill="#30b2e2"/><circle cx="372.9" cy="568.4" r="1.45" fill="#cf74b9"/><circle cx="379.0" cy="620.9" r="1.45" fill="#8c88cc"/><path d="M374.2 627.4l1.67 2.97h-3.33z" fill="#8c88cc"/><rect x="338.6" y="629.4" width="2.67" height="2.67" fill="#8c88cc"/><circle cx="377.3" cy="527.0" r="1.45" fill="#cf74b9"/><path d="M327.3 619.5l1.67 2.97h-3.33z" fill="#30b2e2"/><rect x="333.6" y="623.6" width="2.67" height="2.67" fill="#8c88cc"/><circle cx="334.5" cy="622.1" r="1.45" fill="#8c88cc"/><circle cx="290.0" cy="612.0" r="1.45" fill="#30b2e2"/><rect x="288.0" y="608.6" width="2.67" height="2.67" fill="#30b2e2"/><rect x="292.8" y="615.6" width="2.67" height="2.67" fill="#30b2e2"/><circle cx="338.0" cy="618.9" r="1.45" fill="#8c88cc"/><path d="M358.0 624.2l1.67 2.97h-3.33z" fill="#8c88cc"/><circle cx="247.9" cy="548.3" r="1.45" fill="#cf74b9"/><path d="M251.5 565.5l1.67 2.97h-3.33z" fill="#cf74b9"/><path d="M76.8 562.7l1.67 2.97h-3.33z" fill="#cf74b9"/><circle cx="263.1" cy="597.3" r="1.45" fill="#30b2e2"/><rect x="253.2" y="562.1" width="2.67" height="2.67" fill="#cf74b9"/><circle cx="388.0" cy="617.6" r="1.45" fill="#cf74b9"/><circle cx="311.8" cy="600.3" r="1.45" fill="#8c88cc"/><circle cx="341.5" cy="629.8" r="1.45" fill="#8c88cc"/><rect x="346.7" y="628.4" width="2.67" height="2.67" fill="#8c88cc"/><path d="M277.7 603.4l1.67 2.97h-3.33z" fill="#8c88cc"/><path d="M308.6 603.0l1.67 2.97h-3.33z" fill="#30b2e2"/><circle cx="463.5" cy="597.9" r="1.45" fill="#c99c34"/><path d="M287.1 584.1l1.67 2.97h-3.33z" fill="#30b2e2"/><path d="M247.1 602.6l1.67 2.97h-3.33z" fill="#cf74b9"/><rect x="252.1" y="587.9" width="2.67" height="2.67" fill="#30b2e2"/><circle cx="291.3" cy="590.2" r="1.45" fill="#30b2e2"/><circle cx="115.0" cy="505.0" r="1.45" fill="#cf74b9"/><path d="M302.5 611.0l1.67 2.97h-3.33z" fill="#30b2e2"/><rect x="385.8" y="608.3" width="2.67" height="2.67" fill="#cf74b9"/><circle cx="107.5" cy="551.6" r="1.45" fill="#cf74b9"/><circle cx="340.6" cy="621.1" r="1.45" fill="#cf74b9"/><circle cx="274.6" cy="578.0" r="1.45" fill="#30b2e2"/><path d="M295.3 624.8l1.67 2.97h-3.33z" fill="#8c88cc"/><rect x="289.7" y="590.7" width="2.67" height="2.67" fill="#8c88cc"/><rect x="268.8" y="615.8" width="2.67" height="2.67" fill="#30b2e2"/><circle cx="347.4" cy="629.7" r="1.45" fill="#8c88cc"/><circle cx="310.9" cy="624.6" r="1.45" fill="#8c88cc"/><circle cx="309.4" cy="613.6" r="1.45" fill="#8c88cc"/><rect x="335.3" y="627.1" width="2.67" height="2.67" fill="#30b2e2"/><circle cx="109.8" cy="541.4" r="1.45" fill="#cf74b9"/><circle cx="351.5" cy="619.6" r="1.45" fill="#8c88cc"/><rect x="293.9" y="590.5" width="2.67" height="2.67" fill="#cf74b9"/><rect x="264.9" y="591.0" width="2.67" height="2.67" fill="#30b2e2"/><path d="M391.6 623.0l1.67 2.97h-3.33z" fill="#8c88cc"/><circle cx="325.7" cy="615.2" r="1.45" fill="#8c88cc"/><path d="M180.2 562.3l1.67 2.97h-3.33z" fill="#cf74b9"/><path d="M277.8 593.7l1.67 2.97h-3.33z" fill="#cf74b9"/><path d="M340.3 607.8l1.67 2.97h-3.33z" fill="#cf74b9"/><rect x="222.2" y="559.1" width="2.67" height="2.67" fill="#cf74b9"/><path d="M285.5 615.1l1.67 2.97h-3.33z" fill="#8c88cc"/><circle cx="319.9" cy="620.0" r="1.45" fill="#8c88cc"/><path d="M251.6 566.7l1.67 2.97h-3.33z" fill="#cf74b9"/><path d="M343.2 601.3l1.67 2.97h-3.33z" fill="#cf74b9"/><path d="M123.4 532.7l1.67 2.97h-3.33z" fill="#cf74b9"/><circle cx="377.0" cy="624.2" r="1.45" fill="#8c88cc"/><path d="M327.1 614.1l1.67 2.97h-3.33z" fill="#cf74b9"/><circle cx="337.3" cy="613.8" r="1.45" fill="#8c88cc"/><rect x="368.3" y="621.5" width="2.67" height="2.67" fill="#8c88cc"/><circle cx="158.6" cy="565.2" r="1.45" fill="#cf74b9"/><circle cx="406.9" cy="624.6" r="1.45" fill="#8c88cc"/><path d="M266.9 588.3l1.67 2.97h-3.33z" fill="#cf74b9"/><circle cx="399.1" cy="626.9" r="1.45" fill="#8c88cc"/><path d="M197.3 544.3l1.67 2.97h-3.33z" fill="#cf74b9"/><path d="M308.2 599.1l1.67 2.97h-3.33z" fill="#8c88cc"/><path d="M277.8 594.3l1.67 2.97h-3.33z" fill="#cf74b9"/><circle cx="165.0" cy="556.1" r="1.45" fill="#cf74b9"/><circle cx="360.7" cy="605.0" r="1.45" fill="#cf74b9"/><rect x="283.2" y="604.0" width="2.67" height="2.67" fill="#30b2e2"/><path d="M322.6 610.4l1.67 2.97h-3.33z" fill="#8c88cc"/><circle cx="305.5" cy="629.6" r="1.45" fill="#8c88cc"/><path d="M281.9 598.9l1.67 2.97h-3.33z" fill="#30b2e2"/><circle cx="317.1" cy="607.9" r="1.45" fill="#30b2e2"/><path d="M383.8 613.4l1.67 2.97h-3.33z" fill="#30b2e2"/><circle cx="290.6" cy="615.2" r="1.45" fill="#30b2e2"/><circle cx="286.3" cy="569.7" r="1.45" fill="#cf74b9"/><circle cx="280.3" cy="601.0" r="1.45" fill="#30b2e2"/><path d="M291.7 595.5l1.67 2.97h-3.33z" fill="#30b2e2"/><path d="M329.5 615.6l1.67 2.97h-3.33z" fill="#30b2e2"/><path d="M284.8 624.4l1.67 2.97h-3.33z" fill="#8c88cc"/><circle cx="300.7" cy="613.1" r="1.45" fill="#8c88cc"/><circle cx="280.0" cy="601.9" r="1.45" fill="#30b2e2"/><rect x="303.4" y="592.1" width="2.67" height="2.67" fill="#8c88cc"/><path d="M253.6 605.7l1.67 2.97h-3.33z" fill="#8c88cc"/><circle cx="351.5" cy="630.1" r="1.45" fill="#30b2e2"/><circle cx="346.4" cy="612.8" r="1.45" fill="#cf74b9"/><circle cx="319.6" cy="517.8" r="1.45" fill="#cf74b9"/><circle cx="228.6" cy="622.5" r="1.45" fill="#cf74b9"/><path d="M291.2 607.5l1.67 2.97h-3.33z" fill="#8c88cc"/><circle cx="123.4" cy="555.7" r="1.45" fill="#cf74b9"/><circle cx="344.9" cy="625.5" r="1.45" fill="#8c88cc"/><circle cx="285.4" cy="622.4" r="1.45" fill="#8c88cc"/><path d="M223.2 599.3l1.67 2.97h-3.33z" fill="#cf74b9"/><path d="M282.9 605.0l1.67 2.97h-3.33z" fill="#cf74b9"/><circle cx="347.1" cy="620.5" r="1.45" fill="#8c88cc"/><rect x="322.3" y="620.9" width="2.67" height="2.67" fill="#30b2e2"/><circle cx="278.4" cy="612.4" r="1.45" fill="#8c88cc"/><path d="M437.2 629.3l1.67 2.97h-3.33z" fill="#8c88cc"/><circle cx="244.9" cy="575.7" r="1.45" fill="#cf74b9"/><path d="M272.3 610.2l1.67 2.97h-3.33z" fill="#8c88cc"/><circle cx="248.6" cy="573.8" r="1.45" fill="#8c88cc"/><circle cx="262.3" cy="582.4" r="1.45" fill="#cf74b9"/><path d="M110.9 562.7l1.67 2.97h-3.33z" fill="#cf74b9"/><path d="M354.5 513.3l1.67 2.97h-3.33z" fill="#30b2e2"/><path d="M282.7 592.8l1.67 2.97h-3.33z" fill="#cf74b9"/><path d="M262.4 611.3l1.67 2.97h-3.33z" fill="#cf74b9"/><path d="M250.0 536.4l1.67 2.97h-3.33z" fill="#cf74b9"/><path d="M274.6 583.4l1.67 2.97h-3.33z" fill="#cf74b9"/><rect x="285.3" y="618.4" width="2.67" height="2.67" fill="#8c88cc"/><rect x="262.5" y="619.7" width="2.67" height="2.67" fill="#8c88cc"/><path d="M303.7 542.6l1.67 2.97h-3.33z" fill="#cf74b9"/><path d="M251.4 597.9l1.67 2.97h-3.33z" fill="#30b2e2"/><path d="M259.9 554.4l1.67 2.97h-3.33z" fill="#cf74b9"/><rect x="287.2" y="597.2" width="2.67" height="2.67" fill="#8c88cc"/><rect x="298.5" y="623.2" width="2.67" height="2.67" fill="#8c88cc"/><rect x="233.8" y="617.3" width="2.67" height="2.67" fill="#30b2e2"/><circle cx="251.3" cy="579.6" r="1.45" fill="#30b2e2"/><circle cx="403.4" cy="611.6" r="1.45" fill="#8c88cc"/><rect x="266.3" y="593.2" width="2.67" height="2.67" fill="#30b2e2"/><rect x="333.1" y="626.3" width="2.67" height="2.67" fill="#8c88cc"/><circle cx="297.2" cy="582.3" r="1.45" fill="#cf74b9"/><path d="M349.1 613.2l1.67 2.97h-3.33z" fill="#30b2e2"/><path d="M109.1 579.8l1.67 2.97h-3.33z" fill="#cf74b9"/><circle cx="293.3" cy="613.6" r="1.45" fill="#8c88cc"/><circle cx="380.5" cy="571.3" r="1.45" fill="#cf74b9"/><circle cx="308.7" cy="587.8" r="1.45" fill="#8c88cc"/><path d="M192.9 551.6l1.67 2.97h-3.33z" fill="#cf74b9"/><path d="M312.5 617.6l1.67 2.97h-3.33z" fill="#30b2e2"/><circle cx="286.7" cy="584.8" r="1.45" fill="#8c88cc"/><circle cx="293.9" cy="607.8" r="1.45" fill="#8c88cc"/><circle cx="192.4" cy="501.5" r="1.45" fill="#5cc89e"/><circle cx="322.4" cy="601.6" r="1.45" fill="#8c88cc"/><rect x="292.6" y="605.7" width="2.67" height="2.67" fill="#cf74b9"/><circle cx="283.0" cy="612.8" r="1.45" fill="#30b2e2"/><path d="M300.7 575.9l1.67 2.97h-3.33z" fill="#8c88cc"/><path d="M324.6 607.0l1.67 2.97h-3.33z" fill="#30b2e2"/><circle cx="224.2" cy="516.7" r="1.45" fill="#cf74b9"/><rect x="282.3" y="585.1" width="2.67" height="2.67" fill="#8c88cc"/><circle cx="297.2" cy="605.1" r="1.45" fill="#30b2e2"/><path d="M254.9 609.7l1.67 2.97h-3.33z" fill="#cf74b9"/><circle cx="260.4" cy="592.0" r="1.45" fill="#30b2e2"/><rect x="315.2" y="593.3" width="2.67" height="2.67" fill="#cf74b9"/><rect x="297.3" y="608.7" width="2.67" height="2.67" fill="#8c88cc"/><rect x="332.3" y="597.4" width="2.67" height="2.67" fill="#30b2e2"/><circle cx="348.2" cy="587.8" r="1.45" fill="#8c88cc"/><circle cx="99.1" cy="539.1" r="1.45" fill="#cf74b9"/><circle cx="280.5" cy="591.2" r="1.45" fill="#cf74b9"/><path d="M242.0 606.6l1.67 2.97h-3.33z" fill="#cf74b9"/><path d="M344.9 628.1l1.67 2.97h-3.33z" fill="#8c88cc"/><circle cx="281.4" cy="611.9" r="1.45" fill="#30b2e2"/><rect x="287.0" y="621.5" width="2.67" height="2.67" fill="#30b2e2"/><rect x="271.8" y="577.1" width="2.67" height="2.67" fill="#30b2e2"/><circle cx="337.8" cy="623.2" r="1.45" fill="#30b2e2"/><circle cx="230.3" cy="600.8" r="1.45" fill="#8c88cc"/><path d="M220.9 506.9l1.67 2.97h-3.33z" fill="#30b2e2"/><path d="M387.9 602.0l1.67 2.97h-3.33z" fill="#cf74b9"/><circle cx="348.7" cy="629.5" r="1.45" fill="#8c88cc"/><path d="M294.8 610.6l1.67 2.97h-3.33z" fill="#8c88cc"/><rect x="323.0" y="610.9" width="2.67" height="2.67" fill="#8c88cc"/><rect x="314.3" y="540.4" width="2.67" height="2.67" fill="#cf74b9"/><path d="M261.1 591.0l1.67 2.97h-3.33z" fill="#30b2e2"/><path d="M346.8 614.9l1.67 2.97h-3.33z" fill="#8c88cc"/><circle cx="307.2" cy="621.3" r="1.45" fill="#8c88cc"/><path d="M298.1 622.3l1.67 2.97h-3.33z" fill="#8c88cc"/><path d="M276.7 555.2l1.67 2.97h-3.33z" fill="#cf74b9"/><rect x="373.1" y="612.0" width="2.67" height="2.67" fill="#30b2e2"/><rect x="298.2" y="557.7" width="2.67" height="2.67" fill="#cf74b9"/><rect x="238.7" y="604.4" width="2.67" height="2.67" fill="#30b2e2"/><path d="M222.3 581.0l1.67 2.97h-3.33z" fill="#8c88cc"/><circle cx="204.6" cy="587.1" r="1.45" fill="#cf74b9"/><path d="M264.4 585.1l1.67 2.97h-3.33z" fill="#8c88cc"/><rect x="310.3" y="604.3" width="2.67" height="2.67" fill="#8c88cc"/><rect x="299.8" y="593.3" width="2.67" height="2.67" fill="#cf74b9"/><path d="M240.9 588.6l1.67 2.97h-3.33z" fill="#cf74b9"/><path d="M299.3 576.8l1.67 2.97h-3.33z" fill="#30b2e2"/><circle cx="260.4" cy="584.9" r="1.45" fill="#30b2e2"/><rect x="281.4" y="619.7" width="2.67" height="2.67" fill="#8c88cc"/><rect x="260.5" y="597.2" width="2.67" height="2.67" fill="#8c88cc"/><circle cx="241.9" cy="592.8" r="1.45" fill="#30b2e2"/><path d="M279.7 612.7l1.67 2.97h-3.33z" fill="#8c88cc"/><path d="M326.3 609.3l1.67 2.97h-3.33z" fill="#30b2e2"/><rect x="314.7" y="613.5" width="2.67" height="2.67" fill="#8c88cc"/><path d="M324.6 601.7l1.67 2.97h-3.33z" fill="#cf74b9"/><rect x="342.1" y="621.4" width="2.67" height="2.67" fill="#8c88cc"/><rect x="352.8" y="628.4" width="2.67" height="2.67" fill="#8c88cc"/><rect x="423.0" y="577.7" width="2.67" height="2.67" fill="#cf74b9"/><circle cx="212.2" cy="583.3" r="1.45" fill="#cf74b9"/><rect x="222.2" y="558.4" width="2.67" height="2.67" fill="#30b2e2"/><circle cx="129.1" cy="536.4" r="1.45" fill="#cf74b9"/><circle cx="165.5" cy="577.7" r="1.45" fill="#cf74b9"/><rect x="264.0" y="569.6" width="2.67" height="2.67" fill="#cf74b9"/><rect x="364.7" y="617.0" width="2.67" height="2.67" fill="#30b2e2"/><circle cx="296.0" cy="610.5" r="1.45" fill="#30b2e2"/><circle cx="242.6" cy="618.5" r="1.45" fill="#cf74b9"/><circle cx="375.8" cy="598.6" r="1.45" fill="#cf74b9"/><circle cx="248.5" cy="593.4" r="1.45" fill="#30b2e2"/><circle cx="159.1" cy="502.7" r="1.45" fill="#cf74b9"/><path d="M145.0 545.9l1.67 2.97h-3.33z" fill="#cf74b9"/><rect x="287.0" y="588.1" width="2.67" height="2.67" fill="#cf74b9"/><circle cx="251.8" cy="527.6" r="1.45" fill="#30b2e2"/><rect x="303.1" y="552.1" width="2.67" height="2.67" fill="#cf74b9"/><path d="M219.8 578.5l1.67 2.97h-3.33z" fill="#cf74b9"/><path d="M387.4 627.2l1.67 2.97h-3.33z" fill="#8c88cc"/><rect x="362.1" y="630.2" width="2.67" height="2.67" fill="#8c88cc"/><circle cx="373.8" cy="625.9" r="1.45" fill="#8c88cc"/><rect x="325.9" y="621.5" width="2.67" height="2.67" fill="#30b2e2"/><rect x="275.6" y="613.1" width="2.67" height="2.67" fill="#30b2e2"/><path d="M211.5 601.8l1.67 2.97h-3.33z" fill="#30b2e2"/><circle cx="286.7" cy="611.7" r="1.45" fill="#30b2e2"/><rect x="245.9" y="586.3" width="2.67" height="2.67" fill="#cf74b9"/><circle cx="258.3" cy="601.0" r="1.45" fill="#cf74b9"/><rect x="337.5" y="625.8" width="2.67" height="2.67" fill="#8c88cc"/><circle cx="360.2" cy="625.9" r="1.45" fill="#8c88cc"/><path d="M321.4 618.2l1.67 2.97h-3.33z" fill="#8c88cc"/><circle cx="310.9" cy="612.1" r="1.45" fill="#8c88cc"/><rect x="353.7" y="603.6" width="2.67" height="2.67" fill="#30b2e2"/><rect x="267.7" y="615.3" width="2.67" height="2.67" fill="#8c88cc"/><path d="M257.0 608.6l1.67 2.97h-3.33z" fill="#8c88cc"/><circle cx="266.6" cy="600.0" r="1.45" fill="#8c88cc"/><circle cx="266.5" cy="606.7" r="1.45" fill="#8c88cc"/><path d="M108.2 567.5l1.67 2.97h-3.33z" fill="#cf74b9"/><rect x="362.2" y="616.9" width="2.67" height="2.67" fill="#30b2e2"/><path d="M197.3 562.4l1.67 2.97h-3.33z" fill="#cf74b9"/><circle cx="338.3" cy="611.0" r="1.45" fill="#8c88cc"/><circle cx="225.8" cy="523.3" r="1.45" fill="#cf74b9"/><path d="M283.6 549.6l1.67 2.97h-3.33z" fill="#cf74b9"/><path d="M345.2 624.6l1.67 2.97h-3.33z" fill="#cf74b9"/><rect x="239.5" y="613.5" width="2.67" height="2.67" fill="#8c88cc"/><rect x="285.8" y="622.0" width="2.67" height="2.67" fill="#8c88cc"/><rect x="266.0" y="551.1" width="2.67" height="2.67" fill="#30b2e2"/><path d="M345.2 604.8l1.67 2.97h-3.33z" fill="#8c88cc"/><circle cx="283.2" cy="610.6" r="1.45" fill="#30b2e2"/><circle cx="385.4" cy="612.5" r="1.45" fill="#30b2e2"/><rect x="248.8" y="585.8" width="2.67" height="2.67" fill="#cf74b9"/><path d="M295.3 618.9l1.67 2.97h-3.33z" fill="#8c88cc"/><path d="M286.8 598.9l1.67 2.97h-3.33z" fill="#cf74b9"/><circle cx="242.2" cy="544.9" r="1.45" fill="#cf74b9"/><path d="M329.2 616.3l1.67 2.97h-3.33z" fill="#8c88cc"/><path d="M344.8 601.9l1.67 2.97h-3.33z" fill="#cf74b9"/><rect x="287.3" y="593.9" width="2.67" height="2.67" fill="#cf74b9"/><rect x="374.6" y="625.9" width="2.67" height="2.67" fill="#30b2e2"/><path d="M132.5 550.9l1.67 2.97h-3.33z" fill="#cf74b9"/><circle cx="394.2" cy="590.1" r="1.45" fill="#cf74b9"/><path d="M275.8 603.6l1.67 2.97h-3.33z" fill="#8c88cc"/><path d="M463.9 584.7l1.67 2.97h-3.33z" fill="#5cc89e"/><circle cx="199.5" cy="524.5" r="1.45" fill="#cf74b9"/><path d="M303.5 617.3l1.67 2.97h-3.33z" fill="#30b2e2"/><path d="M226.1 595.9l1.67 2.97h-3.33z" fill="#30b2e2"/><rect x="245.7" y="623.3" width="2.67" height="2.67" fill="#8c88cc"/><rect x="235.4" y="613.7" width="2.67" height="2.67" fill="#8c88cc"/><path d="M287.3 593.0l1.67 2.97h-3.33z" fill="#8c88cc"/><path d="M259.6 521.5l1.67 2.97h-3.33z" fill="#30b2e2"/><rect x="254.6" y="582.2" width="2.67" height="2.67" fill="#cf74b9"/><circle cx="332.8" cy="609.1" r="1.45" fill="#30b2e2"/><circle cx="263.6" cy="516.7" r="1.45" fill="#cf74b9"/><circle cx="192.7" cy="516.0" r="1.45" fill="#30b2e2"/><circle cx="159.8" cy="511.4" r="1.45" fill="#cf74b9"/><rect x="205.7" y="608.4" width="2.67" height="2.67" fill="#cf74b9"/><path d="M310.2 611.0l1.67 2.97h-3.33z" fill="#30b2e2"/><path d="M413.3 580.4l1.67 2.97h-3.33z" fill="#f07b76"/><circle cx="226.0" cy="574.0" r="1.45" fill="#cf74b9"/><rect x="311.6" y="616.4" width="2.67" height="2.67" fill="#8c88cc"/><path d="M314.0 622.8l1.67 2.97h-3.33z" fill="#30b2e2"/><path d="M259.6 545.4l1.67 2.97h-3.33z" fill="#cf74b9"/><circle cx="355.5" cy="534.5" r="1.45" fill="#cf74b9"/><rect x="336.5" y="612.4" width="2.67" height="2.67" fill="#30b2e2"/><circle cx="324.2" cy="622.8" r="1.45" fill="#30b2e2"/><rect x="341.6" y="616.7" width="2.67" height="2.67" fill="#30b2e2"/><path d="M241.6 585.1l1.67 2.97h-3.33z" fill="#cf74b9"/><circle cx="357.0" cy="627.5" r="1.45" fill="#8c88cc"/><path d="M240.3 602.9l1.67 2.97h-3.33z" fill="#cf74b9"/><path d="M395.3 630.8l1.67 2.97h-3.33z" fill="#8c88cc"/><path d="M355.8 610.8l1.67 2.97h-3.33z" fill="#30b2e2"/><circle cx="303.7" cy="582.0" r="1.45" fill="#8c88cc"/><circle cx="307.8" cy="593.9" r="1.45" fill="#30b2e2"/><circle cx="338.5" cy="507.3" r="1.45" fill="#cf74b9"/><rect x="304.4" y="619.4" width="2.67" height="2.67" fill="#30b2e2"/><path d="M219.4 587.9l1.67 2.97h-3.33z" fill="#cf74b9"/><path d="M362.7 626.4l1.67 2.97h-3.33z" fill="#8c88cc"/><rect x="246.7" y="609.8" width="2.67" height="2.67" fill="#8c88cc"/><rect x="254.0" y="594.3" width="2.67" height="2.67" fill="#cf74b9"/><rect x="356.1" y="623.8" width="2.67" height="2.67" fill="#8c88cc"/><path d="M315.6 609.6l1.67 2.97h-3.33z" fill="#8c88cc"/><circle cx="332.7" cy="593.8" r="1.45" fill="#cf74b9"/><circle cx="159.8" cy="575.5" r="1.45" fill="#cf74b9"/><rect x="254.0" y="579.0" width="2.67" height="2.67" fill="#8c88cc"/><path d="M351.7 625.7l1.67 2.97h-3.33z" fill="#8c88cc"/><circle cx="340.1" cy="622.2" r="1.45" fill="#8c88cc"/><circle cx="359.4" cy="585.2" r="1.45" fill="#cf74b9"/><rect x="350.4" y="621.4" width="2.67" height="2.67" fill="#8c88cc"/><path d="M218.5 594.0l1.67 2.97h-3.33z" fill="#30b2e2"/><rect x="311.3" y="619.8" width="2.67" height="2.67" fill="#cf74b9"/><path d="M338.8 612.0l1.67 2.97h-3.33z" fill="#30b2e2"/><circle cx="321.8" cy="610.2" r="1.45" fill="#30b2e2"/><path d="M304.5 598.2l1.67 2.97h-3.33z" fill="#8c88cc"/><rect x="318.5" y="617.3" width="2.67" height="2.67" fill="#30b2e2"/><circle cx="356.6" cy="623.4" r="1.45" fill="#8c88cc"/><path d="M318.6 624.1l1.67 2.97h-3.33z" fill="#8c88cc"/><path d="M267.2 609.4l1.67 2.97h-3.33z" fill="#cf74b9"/><rect x="331.5" y="605.8" width="2.67" height="2.67" fill="#30b2e2"/><circle cx="373.8" cy="621.8" r="1.45" fill="#8c88cc"/><path d="M238.9 575.3l1.67 2.97h-3.33z" fill="#cf74b9"/><rect x="329.6" y="611.3" width="2.67" height="2.67" fill="#30b2e2"/><circle cx="177.7" cy="541.4" r="1.45" fill="#cf74b9"/><path d="M312.8 616.1l1.67 2.97h-3.33z" fill="#8c88cc"/><path d="M239.3 579.9l1.67 2.97h-3.33z" fill="#30b2e2"/><path d="M283.2 607.3l1.67 2.97h-3.33z" fill="#cf74b9"/><circle cx="232.8" cy="606.7" r="1.45" fill="#cf74b9"/><circle cx="340.2" cy="612.2" r="1.45" fill="#8c88cc"/><circle cx="256.7" cy="602.3" r="1.45" fill="#cf74b9"/><circle cx="249.9" cy="606.1" r="1.45" fill="#30b2e2"/><circle cx="347.4" cy="614.0" r="1.45" fill="#8c88cc"/><path d="M236.8 597.3l1.67 2.97h-3.33z" fill="#30b2e2"/><circle cx="357.9" cy="623.0" r="1.45" fill="#8c88cc"/><circle cx="287.8" cy="621.5" r="1.45" fill="#8c88cc"/><circle cx="275.6" cy="579.0" r="1.45" fill="#8c88cc"/><circle cx="287.4" cy="590.8" r="1.45" fill="#cf74b9"/><path d="M279.1 612.0l1.67 2.97h-3.33z" fill="#8c88cc"/><path d="M372.1 610.2l1.67 2.97h-3.33z" fill="#30b2e2"/><circle cx="216.4" cy="581.6" r="1.45" fill="#cf74b9"/><path d="M324.8 610.3l1.67 2.97h-3.33z" fill="#8c88cc"/><circle cx="246.0" cy="622.6" r="1.45" fill="#8c88cc"/><rect x="330.6" y="621.2" width="2.67" height="2.67" fill="#8c88cc"/><rect x="345.7" y="608.2" width="2.67" height="2.67" fill="#cf74b9"/><circle cx="287.2" cy="575.2" r="1.45" fill="#30b2e2"/><path d="M343.4 599.8l1.67 2.97h-3.33z" fill="#cf74b9"/><circle cx="91.6" cy="499.3" r="1.45" fill="#cf74b9"/><circle cx="342.5" cy="628.1" r="1.45" fill="#cf74b9"/><path d="M296.1 550.0l1.67 2.97h-3.33z" fill="#30b2e2"/><rect x="235.4" y="593.1" width="2.67" height="2.67" fill="#cf74b9"/><path d="M154.1 590.7l1.67 2.97h-3.33z" fill="#cf74b9"/><path d="M263.4 609.2l1.67 2.97h-3.33z" fill="#8c88cc"/><rect x="294.3" y="617.5" width="2.67" height="2.67" fill="#30b2e2"/><path d="M221.1 569.4l1.67 2.97h-3.33z" fill="#cf74b9"/><circle cx="182.1" cy="592.3" r="1.45" fill="#cf74b9"/><rect x="236.7" y="601.3" width="2.67" height="2.67" fill="#30b2e2"/><rect x="270.1" y="606.7" width="2.67" height="2.67" fill="#8c88cc"/><circle cx="267.0" cy="580.0" r="1.45" fill="#30b2e2"/><circle cx="316.7" cy="613.0" r="1.45" fill="#8c88cc"/><path d="M265.6 582.4l1.67 2.97h-3.33z" fill="#cf74b9"/><rect x="293.2" y="595.1" width="2.67" height="2.67" fill="#8c88cc"/><rect x="325.1" y="595.2" width="2.67" height="2.67" fill="#8c88cc"/><path d="M314.9 615.5l1.67 2.97h-3.33z" fill="#8c88cc"/><rect x="213.5" y="595.5" width="2.67" height="2.67" fill="#30b2e2"/><path d="M268.9 600.2l1.67 2.97h-3.33z" fill="#30b2e2"/><path d="M265.3 605.9l1.67 2.97h-3.33z" fill="#8c88cc"/><circle cx="237.0" cy="603.6" r="1.45" fill="#30b2e2"/><circle cx="232.7" cy="539.0" r="1.45" fill="#cf74b9"/><circle cx="288.2" cy="611.5" r="1.45" fill="#30b2e2"/><rect x="311.3" y="620.4" width="2.67" height="2.67" fill="#30b2e2"/><path d="M387.3 610.9l1.67 2.97h-3.33z" fill="#8c88cc"/><rect x="310.3" y="594.7" width="2.67" height="2.67" fill="#8c88cc"/><rect x="237.4" y="572.6" width="2.67" height="2.67" fill="#cf74b9"/><circle cx="337.2" cy="610.7" r="1.45" fill="#8c88cc"/><circle cx="331.5" cy="613.4" r="1.45" fill="#8c88cc"/><circle cx="200.1" cy="595.4" r="1.45" fill="#cf74b9"/><rect x="241.9" y="583.2" width="2.67" height="2.67" fill="#8c88cc"/><circle cx="314.5" cy="614.6" r="1.45" fill="#8c88cc"/><path d="M295.2 622.6l1.67 2.97h-3.33z" fill="#8c88cc"/><rect x="347.4" y="621.1" width="2.67" height="2.67" fill="#8c88cc"/><circle cx="277.8" cy="611.4" r="1.45" fill="#30b2e2"/><rect x="373.3" y="624.7" width="2.67" height="2.67" fill="#8c88cc"/><path d="M246.4 583.5l1.67 2.97h-3.33z" fill="#8c88cc"/><circle cx="387.0" cy="626.8" r="1.45" fill="#8c88cc"/><circle cx="280.8" cy="623.7" r="1.45" fill="#8c88cc"/><path d="M326.8 630.6l1.67 2.97h-3.33z" fill="#8c88cc"/><path d="M399.2 630.6l1.67 2.97h-3.33z" fill="#8c88cc"/><path d="M326.0 514.9l1.67 2.97h-3.33z" fill="#cf74b9"/><rect x="241.2" y="604.1" width="2.67" height="2.67" fill="#30b2e2"/><rect x="126.0" y="516.9" width="2.67" height="2.67" fill="#cf74b9"/><circle cx="400.3" cy="626.6" r="1.45" fill="#8c88cc"/><path d="M264.1 618.1l1.67 2.97h-3.33z" fill="#8c88cc"/><rect x="207.0" y="576.1" width="2.67" height="2.67" fill="#cf74b9"/><rect x="335.9" y="600.0" width="2.67" height="2.67" fill="#30b2e2"/><rect x="361.8" y="621.6" width="2.67" height="2.67" fill="#8c88cc"/><path d="M322.8 620.6l1.67 2.97h-3.33z" fill="#8c88cc"/><circle cx="302.7" cy="505.5" r="1.45" fill="#30b2e2"/><rect x="407.6" y="631.0" width="2.67" height="2.67" fill="#8c88cc"/><circle cx="235.6" cy="587.3" r="1.45" fill="#30b2e2"/><path d="M374.6 620.3l1.67 2.97h-3.33z" fill="#8c88cc"/><path d="M80.9 532.7l1.67 2.97h-3.33z" fill="#cf74b9"/><circle cx="162.0" cy="562.7" r="1.45" fill="#cf74b9"/><rect x="261.2" y="596.0" width="2.67" height="2.67" fill="#8c88cc"/><path d="M312.9 620.8l1.67 2.97h-3.33z" fill="#30b2e2"/><rect x="350.8" y="624.3" width="2.67" height="2.67" fill="#8c88cc"/><path d="M297.9 626.2l1.67 2.97h-3.33z" fill="#30b2e2"/><circle cx="356.6" cy="611.7" r="1.45" fill="#30b2e2"/><circle cx="306.7" cy="615.0" r="1.45" fill="#8c88cc"/><circle cx="295.7" cy="604.3" r="1.45" fill="#cf74b9"/><rect x="357.1" y="616.7" width="2.67" height="2.67" fill="#8c88cc"/><circle cx="375.0" cy="626.3" r="1.45" fill="#8c88cc"/><rect x="302.4" y="594.3" width="2.67" height="2.67" fill="#cf74b9"/><circle cx="241.7" cy="586.2" r="1.45" fill="#30b2e2"/><circle cx="451.1" cy="628.7" r="1.45" fill="#c99c34"/><path d="M404.9 623.7l1.67 2.97h-3.33z" fill="#c99c34"/><path d="M497.0 623.3l1.67 2.97h-3.33z" fill="#c99c34"/><rect x="447.8" y="627.6" width="2.67" height="2.67" fill="#c99c34"/><path d="M451.3 625.9l1.67 2.97h-3.33z" fill="#c99c34"/><path d="M453.3 629.5l1.67 2.97h-3.33z" fill="#c99c34"/><circle cx="432.0" cy="632.9" r="1.45" fill="#c99c34"/><path d="M443.0 623.9l1.67 2.97h-3.33z" fill="#c99c34"/><path d="M440.3 618.4l1.67 2.97h-3.33z" fill="#c99c34"/><rect x="461.7" y="628.2" width="2.67" height="2.67" fill="#c99c34"/><circle cx="462.3" cy="632.1" r="1.45" fill="#c99c34"/><path d="M446.3 628.2l1.67 2.97h-3.33z" fill="#c99c34"/><path d="M436.8 620.9l1.67 2.97h-3.33z" fill="#c99c34"/><circle cx="503.6" cy="632.2" r="1.45" fill="#c99c34"/><circle cx="470.0" cy="623.8" r="1.45" fill="#c99c34"/><rect x="456.2" y="629.3" width="2.67" height="2.67" fill="#c99c34"/><rect x="418.2" y="617.1" width="2.67" height="2.67" fill="#c99c34"/><path d="M441.7 630.0l1.67 2.97h-3.33z" fill="#c99c34"/><rect x="457.2" y="628.2" width="2.67" height="2.67" fill="#c99c34"/><path d="M428.1 629.4l1.67 2.97h-3.33z" fill="#c99c34"/><circle cx="436.4" cy="622.1" r="1.45" fill="#c99c34"/><path d="M429.8 620.1l1.67 2.97h-3.33z" fill="#c99c34"/><rect x="449.4" y="624.5" width="2.67" height="2.67" fill="#c99c34"/><circle cx="466.3" cy="629.1" r="1.45" fill="#c99c34"/><rect x="451.4" y="627.5" width="2.67" height="2.67" fill="#c99c34"/><circle cx="449.9" cy="630.3" r="1.45" fill="#c99c34"/><rect x="466.1" y="628.1" width="2.67" height="2.67" fill="#c99c34"/><path d="M480.1 628.9l1.67 2.97h-3.33z" fill="#c99c34"/><circle cx="429.5" cy="621.9" r="1.45" fill="#c99c34"/><path d="M449.2 628.1l1.67 2.97h-3.33z" fill="#c99c34"/><rect x="464.6" y="631.8" width="2.67" height="2.67" fill="#c99c34"/><circle cx="445.5" cy="624.5" r="1.45" fill="#c99c34"/><rect x="489.7" y="629.0" width="2.67" height="2.67" fill="#c99c34"/><circle cx="456.0" cy="622.7" r="1.45" fill="#c99c34"/><path d="M460.8 625.1l1.67 2.97h-3.33z" fill="#c99c34"/><circle cx="482.2" cy="627.8" r="1.45" fill="#c99c34"/><rect x="473.8" y="631.1" width="2.67" height="2.67" fill="#c99c34"/><circle cx="437.7" cy="622.7" r="1.45" fill="#c99c34"/><path d="M462.3 625.5l1.67 2.97h-3.33z" fill="#c99c34"/><path d="M436.8 615.0l1.67 2.97h-3.33z" fill="#c99c34"/><circle cx="470.9" cy="627.7" r="1.45" fill="#c99c34"/><rect x="475.3" y="628.2" width="2.67" height="2.67" fill="#c99c34"/><rect x="482.8" y="631.6" width="2.67" height="2.67" fill="#c99c34"/><circle cx="468.0" cy="627.4" r="1.45" fill="#c99c34"/><circle cx="454.9" cy="621.4" r="1.45" fill="#c99c34"/><rect x="433.5" y="625.5" width="2.67" height="2.67" fill="#c99c34"/><rect x="476.1" y="630.2" width="2.67" height="2.67" fill="#c99c34"/><path d="M487.9 627.2l1.67 2.97h-3.33z" fill="#c99c34"/><path d="M465.9 628.6l1.67 2.97h-3.33z" fill="#c99c34"/><circle cx="444.2" cy="623.6" r="1.45" fill="#c99c34"/><circle cx="470.2" cy="629.0" r="1.45" fill="#c99c34"/><path d="M480.1 624.6l1.67 2.97h-3.33z" fill="#c99c34"/><path d="M489.2 626.4l1.67 2.97h-3.33z" fill="#c99c34"/><rect x="484.8" y="628.3" width="2.67" height="2.67" fill="#c99c34"/><circle cx="451.4" cy="623.9" r="1.45" fill="#c99c34"/><path d="M463.2 628.9l1.67 2.97h-3.33z" fill="#c99c34"/><rect x="457.6" y="624.9" width="2.67" height="2.67" fill="#c99c34"/><path d="M490.8 629.1l1.67 2.97h-3.33z" fill="#c99c34"/><rect x="416.5" y="621.7" width="2.67" height="2.67" fill="#c99c34"/><rect x="414.7" y="613.7" width="2.67" height="2.67" fill="#c99c34"/><rect x="486.4" y="630.5" width="2.67" height="2.67" fill="#c99c34"/><circle cx="487.7" cy="629.6" r="1.45" fill="#c99c34"/><circle cx="476.6" cy="628.5" r="1.45" fill="#c99c34"/><path d="M454.4 623.8l1.67 2.97h-3.33z" fill="#c99c34"/><circle cx="484.3" cy="630.7" r="1.45" fill="#c99c34"/><circle cx="456.1" cy="624.2" r="1.45" fill="#c99c34"/><rect x="439.2" y="618.6" width="2.67" height="2.67" fill="#c99c34"/><circle cx="475.6" cy="631.1" r="1.45" fill="#c99c34"/><circle cx="427.4" cy="627.1" r="1.45" fill="#c99c34"/><path d="M467.0 625.2l1.67 2.97h-3.33z" fill="#c99c34"/><circle cx="451.2" cy="622.7" r="1.45" fill="#c99c34"/><path d="M460.8 626.9l1.67 2.97h-3.33z" fill="#c99c34"/><path d="M506.8 629.0l1.67 2.97h-3.33z" fill="#c99c34"/><circle cx="420.4" cy="629.2" r="1.45" fill="#c99c34"/><circle cx="466.8" cy="631.8" r="1.45" fill="#c99c34"/><rect x="489.1" y="631.3" width="2.67" height="2.67" fill="#c99c34"/><circle cx="481.9" cy="624.0" r="1.45" fill="#c99c34"/><rect x="467.7" y="616.8" width="2.67" height="2.67" fill="#c99c34"/><path d="M433.9 626.8l1.67 2.97h-3.33z" fill="#c99c34"/><circle cx="495.0" cy="630.9" r="1.45" fill="#c99c34"/><rect x="445.5" y="623.7" width="2.67" height="2.67" fill="#c99c34"/><circle cx="511.5" cy="630.5" r="1.45" fill="#c99c34"/><rect x="456.6" y="627.2" width="2.67" height="2.67" fill="#c99c34"/><circle cx="485.5" cy="630.0" r="1.45" fill="#c99c34"/><path d="M482.5 631.5l1.67 2.97h-3.33z" fill="#c99c34"/><rect x="443.3" y="626.0" width="2.67" height="2.67" fill="#c99c34"/><rect x="454.9" y="629.8" width="2.67" height="2.67" fill="#c99c34"/><path d="M489.3 630.3l1.67 2.97h-3.33z" fill="#c99c34"/><rect x="445.6" y="626.4" width="2.67" height="2.67" fill="#c99c34"/><rect x="479.2" y="631.6" width="2.67" height="2.67" fill="#c99c34"/><rect x="450.1" y="629.1" width="2.67" height="2.67" fill="#c99c34"/><rect x="474.3" y="628.1" width="2.67" height="2.67" fill="#c99c34"/><circle cx="462.9" cy="626.7" r="1.45" fill="#c99c34"/><circle cx="465.1" cy="627.6" r="1.45" fill="#c99c34"/><path d="M493.8 627.1l1.67 2.97h-3.33z" fill="#c99c34"/><circle cx="434.8" cy="628.4" r="1.45" fill="#c99c34"/><path d="M432.3 621.1l1.67 2.97h-3.33z" fill="#c99c34"/><rect x="406.6" y="622.4" width="2.67" height="2.67" fill="#c99c34"/><path d="M446.6 624.9l1.67 2.97h-3.33z" fill="#c99c34"/><rect x="487.7" y="629.9" width="2.67" height="2.67" fill="#c99c34"/><rect x="448.1" y="627.3" width="2.67" height="2.67" fill="#c99c34"/><rect x="443.6" y="626.8" width="2.67" height="2.67" fill="#c99c34"/><circle cx="436.6" cy="625.4" r="1.45" fill="#c99c34"/><path d="M436.4 621.9l1.67 2.97h-3.33z" fill="#c99c34"/><circle cx="431.0" cy="627.8" r="1.45" fill="#c99c34"/><circle cx="469.2" cy="626.8" r="1.45" fill="#c99c34"/><circle cx="474.4" cy="631.7" r="1.45" fill="#c99c34"/><circle cx="468.3" cy="628.6" r="1.45" fill="#c99c34"/><path d="M430.8 621.8l1.67 2.97h-3.33z" fill="#c99c34"/><path d="M460.6 624.5l1.67 2.97h-3.33z" fill="#c99c34"/><path d="M481.1 627.8l1.67 2.97h-3.33z" fill="#c99c34"/><rect x="437.5" y="625.8" width="2.67" height="2.67" fill="#c99c34"/><path d="M501.7 629.4l1.67 2.97h-3.33z" fill="#c99c34"/><path d="M444.2 629.4l1.67 2.97h-3.33z" fill="#c99c34"/><circle cx="471.0" cy="628.2" r="1.45" fill="#c99c34"/><path d="M463.7 627.9l1.67 2.97h-3.33z" fill="#c99c34"/><path d="M449.7 630.5l1.67 2.97h-3.33z" fill="#c99c34"/><path d="M486.5 629.7l1.67 2.97h-3.33z" fill="#c99c34"/><rect x="418.9" y="624.4" width="2.67" height="2.67" fill="#c99c34"/><path d="M456.3 625.1l1.67 2.97h-3.33z" fill="#c99c34"/><path d="M425.5 625.7l1.67 2.97h-3.33z" fill="#c99c34"/><circle cx="470.1" cy="629.5" r="1.45" fill="#c99c34"/><rect x="407.4" y="627.6" width="2.67" height="2.67" fill="#c99c34"/><path d="M476.1 630.8l1.67 2.97h-3.33z" fill="#c99c34"/><circle cx="441.3" cy="627.9" r="1.45" fill="#c99c34"/><rect x="481.8" y="627.8" width="2.67" height="2.67" fill="#c99c34"/><circle cx="447.6" cy="629.7" r="1.45" fill="#c99c34"/><circle cx="501.3" cy="631.6" r="1.45" fill="#c99c34"/><circle cx="452.2" cy="630.2" r="1.45" fill="#c99c34"/><rect x="447.6" y="619.0" width="2.67" height="2.67" fill="#c99c34"/><rect x="440.9" y="627.3" width="2.67" height="2.67" fill="#c99c34"/><rect x="445.3" y="626.8" width="2.67" height="2.67" fill="#c99c34"/><path d="M418.6 613.8l1.67 2.97h-3.33z" fill="#c99c34"/><rect x="460.9" y="623.8" width="2.67" height="2.67" fill="#c99c34"/><rect x="409.1" y="622.7" width="2.67" height="2.67" fill="#c99c34"/><circle cx="454.8" cy="625.8" r="1.45" fill="#c99c34"/><circle cx="443.7" cy="627.7" r="1.45" fill="#c99c34"/><rect x="446.4" y="622.0" width="2.67" height="2.67" fill="#c99c34"/><circle cx="434.7" cy="629.8" r="1.45" fill="#c99c34"/><path d="M449.1 628.7l1.67 2.97h-3.33z" fill="#c99c34"/><rect x="452.6" y="627.6" width="2.67" height="2.67" fill="#c99c34"/><circle cx="462.2" cy="630.3" r="1.45" fill="#c99c34"/><rect x="495.4" y="632.1" width="2.67" height="2.67" fill="#c99c34"/><path d="M448.4 626.7l1.67 2.97h-3.33z" fill="#c99c34"/><path d="M477.5 627.8l1.67 2.97h-3.33z" fill="#c99c34"/><rect x="479.9" y="626.7" width="2.67" height="2.67" fill="#c99c34"/><circle cx="479.5" cy="623.9" r="1.45" fill="#c99c34"/><path d="M452.1 627.2l1.67 2.97h-3.33z" fill="#c99c34"/><rect x="510.7" y="631.9" width="2.67" height="2.67" fill="#c99c34"/><circle cx="418.5" cy="624.1" r="1.45" fill="#c99c34"/><path d="M442.0 629.0l1.67 2.97h-3.33z" fill="#c99c34"/><circle cx="466.2" cy="630.9" r="1.45" fill="#c99c34"/><rect x="438.3" y="628.2" width="2.67" height="2.67" fill="#c99c34"/><circle cx="461.6" cy="631.3" r="1.45" fill="#c99c34"/><circle cx="475.1" cy="629.3" r="1.45" fill="#c99c34"/><circle cx="456.3" cy="624.7" r="1.45" fill="#c99c34"/><circle cx="449.2" cy="624.5" r="1.45" fill="#c99c34"/><circle cx="470.8" cy="629.1" r="1.45" fill="#c99c34"/><path d="M448.0 621.5l1.67 2.97h-3.33z" fill="#c99c34"/><circle cx="442.3" cy="621.8" r="1.45" fill="#c99c34"/><circle cx="410.7" cy="618.9" r="1.45" fill="#c99c34"/><path d="M475.0 630.1l1.67 2.97h-3.33z" fill="#c99c34"/><circle cx="503.6" cy="631.0" r="1.45" fill="#c99c34"/><rect x="429.0" y="628.5" width="2.67" height="2.67" fill="#c99c34"/><path d="M440.7 621.5l1.67 2.97h-3.33z" fill="#c99c34"/><circle cx="492.8" cy="633.3" r="1.45" fill="#c99c34"/><circle cx="423.9" cy="623.3" r="1.45" fill="#c99c34"/><circle cx="430.7" cy="623.3" r="1.45" fill="#c99c34"/><rect x="469.4" y="625.3" width="2.67" height="2.67" fill="#c99c34"/><circle cx="458.4" cy="622.9" r="1.45" fill="#c99c34"/><path d="M474.7 629.7l1.67 2.97h-3.33z" fill="#c99c34"/><path d="M418.9 629.2l1.67 2.97h-3.33z" fill="#c99c34"/><circle cx="478.0" cy="630.0" r="1.45" fill="#c99c34"/><circle cx="439.1" cy="622.7" r="1.45" fill="#c99c34"/><rect x="486.9" y="630.5" width="2.67" height="2.67" fill="#c99c34"/><circle cx="479.5" cy="628.9" r="1.45" fill="#c99c34"/><rect x="442.0" y="622.9" width="2.67" height="2.67" fill="#c99c34"/><path d="M487.6 625.5l1.67 2.97h-3.33z" fill="#c99c34"/><path d="M451.7 629.9l1.67 2.97h-3.33z" fill="#c99c34"/><rect x="429.0" y="623.2" width="2.67" height="2.67" fill="#c99c34"/><path d="M446.1 622.1l1.67 2.97h-3.33z" fill="#c99c34"/><rect x="419.3" y="625.1" width="2.67" height="2.67" fill="#c99c34"/><path d="M451.2 615.3l1.67 2.97h-3.33z" fill="#c99c34"/><path d="M431.3 618.9l1.67 2.97h-3.33z" fill="#c99c34"/><rect x="487.7" y="629.3" width="2.67" height="2.67" fill="#c99c34"/><path d="M429.5 617.2l1.67 2.97h-3.33z" fill="#c99c34"/><path d="M491.2 628.8l1.67 2.97h-3.33z" fill="#c99c34"/><path d="M477.8 626.6l1.67 2.97h-3.33z" fill="#c99c34"/><rect x="411.9" y="624.7" width="2.67" height="2.67" fill="#c99c34"/><circle cx="454.0" cy="628.0" r="1.45" fill="#c99c34"/><rect x="449.2" y="629.6" width="2.67" height="2.67" fill="#c99c34"/><circle cx="441.3" cy="630.5" r="1.45" fill="#c99c34"/><rect x="451.1" y="626.4" width="2.67" height="2.67" fill="#c99c34"/><path d="M512.3 631.7l1.67 2.97h-3.33z" fill="#c99c34"/><rect x="451.9" y="628.2" width="2.67" height="2.67" fill="#c99c34"/><path d="M425.1 619.3l1.67 2.97h-3.33z" fill="#c99c34"/><circle cx="432.9" cy="615.8" r="1.45" fill="#c99c34"/><rect x="442.3" y="624.1" width="2.67" height="2.67" fill="#c99c34"/><path d="M444.0 623.7l1.67 2.97h-3.33z" fill="#c99c34"/><circle cx="496.7" cy="632.2" r="1.45" fill="#c99c34"/><circle cx="418.2" cy="617.8" r="1.45" fill="#c99c34"/><path d="M444.6 630.3l1.67 2.97h-3.33z" fill="#c99c34"/><rect x="445.4" y="630.0" width="2.67" height="2.67" fill="#c99c34"/><circle cx="445.5" cy="629.1" r="1.45" fill="#c99c34"/><rect x="463.5" y="622.7" width="2.67" height="2.67" fill="#c99c34"/><rect x="467.3" y="627.5" width="2.67" height="2.67" fill="#c99c34"/><path d="M452.9 624.9l1.67 2.97h-3.33z" fill="#c99c34"/><path d="M421.1 623.1l1.67 2.97h-3.33z" fill="#c99c34"/><circle cx="462.4" cy="627.9" r="1.45" fill="#c99c34"/><circle cx="456.3" cy="630.3" r="1.45" fill="#c99c34"/><path d="M475.3 625.6l1.67 2.97h-3.33z" fill="#c99c34"/><path d="M432.8 630.2l1.67 2.97h-3.33z" fill="#c99c34"/><path d="M491.9 630.2l1.67 2.97h-3.33z" fill="#c99c34"/><circle cx="466.0" cy="627.7" r="1.45" fill="#c99c34"/><rect x="422.8" y="628.7" width="2.67" height="2.67" fill="#c99c34"/><circle cx="479.4" cy="625.1" r="1.45" fill="#c99c34"/><path d="M430.4 615.7l1.67 2.97h-3.33z" fill="#c99c34"/><circle cx="438.2" cy="625.0" r="1.45" fill="#c99c34"/><circle cx="449.5" cy="629.5" r="1.45" fill="#c99c34"/><circle cx="465.1" cy="624.9" r="1.45" fill="#c99c34"/><rect x="449.7" y="623.0" width="2.67" height="2.67" fill="#c99c34"/><path d="M471.7 626.0l1.67 2.97h-3.33z" fill="#c99c34"/><rect x="468.6" y="624.8" width="2.67" height="2.67" fill="#c99c34"/><rect x="449.2" y="624.1" width="2.67" height="2.67" fill="#c99c34"/><circle cx="416.2" cy="618.2" r="1.45" fill="#c99c34"/><rect x="457.2" y="626.4" width="2.67" height="2.67" fill="#c99c34"/><circle cx="402.3" cy="626.0" r="1.45" fill="#c99c34"/><path d="M467.6 627.7l1.67 2.97h-3.33z" fill="#c99c34"/><circle cx="418.2" cy="628.8" r="1.45" fill="#c99c34"/><rect x="464.3" y="630.7" width="2.67" height="2.67" fill="#c99c34"/><rect x="484.4" y="627.2" width="2.67" height="2.67" fill="#c99c34"/><circle cx="437.7" cy="623.8" r="1.45" fill="#c99c34"/><path d="M473.7 627.8l1.67 2.97h-3.33z" fill="#c99c34"/><rect x="487.6" y="626.1" width="2.67" height="2.67" fill="#c99c34"/><circle cx="428.3" cy="627.2" r="1.45" fill="#c99c34"/><circle cx="400.4" cy="617.9" r="1.45" fill="#c99c34"/><circle cx="440.5" cy="630.9" r="1.45" fill="#c99c34"/><path d="M465.0 623.1l1.67 2.97h-3.33z" fill="#c99c34"/><circle cx="429.6" cy="629.3" r="1.45" fill="#c99c34"/><path d="M457.2 622.7l1.67 2.97h-3.33z" fill="#c99c34"/><rect x="462.1" y="625.9" width="2.67" height="2.67" fill="#c99c34"/><rect x="475.5" y="617.2" width="2.67" height="2.67" fill="#c99c34"/><path d="M489.2 627.5l1.67 2.97h-3.33z" fill="#c99c34"/><rect x="466.9" y="625.7" width="2.67" height="2.67" fill="#c99c34"/><circle cx="434.9" cy="630.1" r="1.45" fill="#c99c34"/><rect x="448.1" y="628.9" width="2.67" height="2.67" fill="#c99c34"/><rect x="412.5" y="624.2" width="2.67" height="2.67" fill="#c99c34"/><circle cx="475.6" cy="630.4" r="1.45" fill="#c99c34"/><path d="M421.0 625.2l1.67 2.97h-3.33z" fill="#c99c34"/><rect x="470.6" y="627.7" width="2.67" height="2.67" fill="#c99c34"/><circle cx="477.3" cy="628.9" r="1.45" fill="#c99c34"/><rect x="446.0" y="630.8" width="2.67" height="2.67" fill="#c99c34"/><circle cx="485.5" cy="627.0" r="1.45" fill="#c99c34"/><circle cx="479.1" cy="623.8" r="1.45" fill="#c99c34"/><rect x="409.1" y="617.1" width="2.67" height="2.67" fill="#c99c34"/><circle cx="462.2" cy="631.1" r="1.45" fill="#c99c34"/><path d="M451.1 625.6l1.67 2.97h-3.33z" fill="#c99c34"/><path d="M503.4 628.2l1.67 2.97h-3.33z" fill="#c99c34"/><path d="M451.8 628.1l1.67 2.97h-3.33z" fill="#c99c34"/><rect x="469.9" y="628.6" width="2.67" height="2.67" fill="#c99c34"/><circle cx="498.4" cy="633.4" r="1.45" fill="#c99c34"/><circle cx="485.9" cy="624.5" r="1.45" fill="#c99c34"/><circle cx="424.3" cy="630.2" r="1.45" fill="#c99c34"/><rect x="456.3" y="624.9" width="2.67" height="2.67" fill="#c99c34"/><rect x="466.9" y="629.0" width="2.67" height="2.67" fill="#c99c34"/><path d="M472.5 626.6l1.67 2.97h-3.33z" fill="#c99c34"/><path d="M451.6 626.0l1.67 2.97h-3.33z" fill="#c99c34"/><path d="M484.6 628.9l1.67 2.97h-3.33z" fill="#c99c34"/><rect x="437.2" y="620.2" width="2.67" height="2.67" fill="#c99c34"/><circle cx="446.6" cy="629.3" r="1.45" fill="#c99c34"/><rect x="496.7" y="630.5" width="2.67" height="2.67" fill="#c99c34"/><path d="M450.7 625.3l1.67 2.97h-3.33z" fill="#c99c34"/><rect x="419.1" y="625.2" width="2.67" height="2.67" fill="#c99c34"/><rect x="495.6" y="631.9" width="2.67" height="2.67" fill="#c99c34"/><rect x="421.8" y="625.5" width="2.67" height="2.67" fill="#c99c34"/><circle cx="439.4" cy="617.9" r="1.45" fill="#c99c34"/><circle cx="465.1" cy="627.6" r="1.45" fill="#c99c34"/><circle cx="480.2" cy="627.8" r="1.45" fill="#c99c34"/><circle cx="479.4" cy="629.6" r="1.45" fill="#c99c34"/><rect x="484.2" y="623.6" width="2.67" height="2.67" fill="#c99c34"/><path d="M479.8 630.5l1.67 2.97h-3.33z" fill="#c99c34"/><circle cx="474.7" cy="626.0" r="1.45" fill="#c99c34"/><circle cx="460.3" cy="625.3" r="1.45" fill="#c99c34"/><circle cx="450.5" cy="624.2" r="1.45" fill="#c99c34"/><rect x="442.3" y="627.3" width="2.67" height="2.67" fill="#c99c34"/><path d="M483.1 626.3l1.67 2.97h-3.33z" fill="#c99c34"/><path d="M466.2 626.5l1.67 2.97h-3.33z" fill="#c99c34"/><circle cx="491.1" cy="630.1" r="1.45" fill="#c99c34"/><path d="M473.5 625.1l1.67 2.97h-3.33z" fill="#c99c34"/><path d="M475.2 629.5l1.67 2.97h-3.33z" fill="#c99c34"/><path d="M465.6 627.3l1.67 2.97h-3.33z" fill="#c99c34"/><circle cx="475.1" cy="631.2" r="1.45" fill="#c99c34"/><path d="M464.0 625.5l1.67 2.97h-3.33z" fill="#c99c34"/><path d="M424.0 615.5l1.67 2.97h-3.33z" fill="#c99c34"/><rect x="464.7" y="623.0" width="2.67" height="2.67" fill="#c99c34"/><circle cx="475.9" cy="630.9" r="1.45" fill="#c99c34"/><circle cx="460.2" cy="626.7" r="1.45" fill="#c99c34"/><circle cx="452.6" cy="623.8" r="1.45" fill="#c99c34"/><rect x="463.7" y="629.4" width="2.67" height="2.67" fill="#c99c34"/><rect x="456.5" y="623.0" width="2.67" height="2.67" fill="#c99c34"/><circle cx="428.8" cy="623.8" r="1.45" fill="#c99c34"/><circle cx="457.4" cy="626.1" r="1.45" fill="#c99c34"/><path d="M438.7 628.8l1.67 2.97h-3.33z" fill="#c99c34"/><path d="M424.7 620.6l1.67 2.97h-3.33z" fill="#c99c34"/><rect x="468.7" y="623.3" width="2.67" height="2.67" fill="#c99c34"/><rect x="464.9" y="629.6" width="2.67" height="2.67" fill="#c99c34"/><rect x="480.9" y="629.0" width="2.67" height="2.67" fill="#c99c34"/><circle cx="451.4" cy="629.8" r="1.45" fill="#c99c34"/><path d="M471.4 628.9l1.67 2.97h-3.33z" fill="#c99c34"/><circle cx="462.4" cy="632.5" r="1.45" fill="#c99c34"/><circle cx="474.5" cy="629.2" r="1.45" fill="#c99c34"/><path d="M437.1 626.1l1.67 2.97h-3.33z" fill="#c99c34"/><circle cx="483.9" cy="627.7" r="1.45" fill="#c99c34"/><rect x="438.6" y="621.6" width="2.67" height="2.67" fill="#c99c34"/><circle cx="404.6" cy="623.1" r="1.45" fill="#c99c34"/><rect x="455.6" y="629.2" width="2.67" height="2.67" fill="#c99c34"/><rect x="416.9" y="621.9" width="2.67" height="2.67" fill="#c99c34"/><circle cx="485.0" cy="628.9" r="1.45" fill="#c99c34"/><path d="M425.1 618.8l1.67 2.97h-3.33z" fill="#c99c34"/><circle cx="460.7" cy="622.9" r="1.45" fill="#c99c34"/><circle cx="413.7" cy="628.7" r="1.45" fill="#c99c34"/><rect x="467.8" y="629.0" width="2.67" height="2.67" fill="#c99c34"/><rect x="495.9" y="630.0" width="2.67" height="2.67" fill="#c99c34"/><rect x="448.1" y="623.7" width="2.67" height="2.67" fill="#c99c34"/><path d="M490.9 631.3l1.67 2.97h-3.33z" fill="#c99c34"/><circle cx="454.3" cy="629.9" r="1.45" fill="#c99c34"/><path d="M428.1 621.0l1.67 2.97h-3.33z" fill="#c99c34"/><path d="M451.1 628.2l1.67 2.97h-3.33z" fill="#c99c34"/><rect x="435.3" y="630.4" width="2.67" height="2.67" fill="#c99c34"/><path d="M474.9 624.9l1.67 2.97h-3.33z" fill="#c99c34"/><rect x="471.9" y="626.7" width="2.67" height="2.67" fill="#c99c34"/><path d="M504.2 627.1l1.67 2.97h-3.33z" fill="#c99c34"/><path d="M436.9 623.6l1.67 2.97h-3.33z" fill="#c99c34"/><circle cx="455.2" cy="630.7" r="1.45" fill="#c99c34"/><rect x="441.1" y="628.8" width="2.67" height="2.67" fill="#c99c34"/><circle cx="436.8" cy="625.4" r="1.45" fill="#c99c34"/><rect x="448.1" y="630.1" width="2.67" height="2.67" fill="#c99c34"/><circle cx="473.4" cy="628.1" r="1.45" fill="#c99c34"/><rect x="474.9" y="620.3" width="2.67" height="2.67" fill="#c99c34"/><rect x="485.7" y="627.8" width="2.67" height="2.67" fill="#c99c34"/><rect x="448.4" y="627.6" width="2.67" height="2.67" fill="#c99c34"/><rect x="453.1" y="627.3" width="2.67" height="2.67" fill="#c99c34"/><rect x="445.5" y="630.7" width="2.67" height="2.67" fill="#c99c34"/><circle cx="458.9" cy="625.4" r="1.45" fill="#c99c34"/><circle cx="459.5" cy="629.4" r="1.45" fill="#c99c34"/><circle cx="443.8" cy="625.6" r="1.45" fill="#c99c34"/><path d="M463.1 620.6l1.67 2.97h-3.33z" fill="#c99c34"/><path d="M487.9 630.4l1.67 2.97h-3.33z" fill="#c99c34"/><rect x="423.4" y="624.9" width="2.67" height="2.67" fill="#c99c34"/><circle cx="468.8" cy="626.6" r="1.45" fill="#c99c34"/><circle cx="440.8" cy="631.9" r="1.45" fill="#c99c34"/><path d="M454.0 625.0l1.67 2.97h-3.33z" fill="#c99c34"/><circle cx="452.9" cy="628.4" r="1.45" fill="#c99c34"/><path d="M451.3 628.8l1.67 2.97h-3.33z" fill="#c99c34"/><rect x="497.7" y="631.3" width="2.67" height="2.67" fill="#c99c34"/><rect x="453.8" y="625.5" width="2.67" height="2.67" fill="#c99c34"/><rect x="450.1" y="629.6" width="2.67" height="2.67" fill="#c99c34"/><path d="M428.8 622.9l1.67 2.97h-3.33z" fill="#c99c34"/><path d="M502.4 630.6l1.67 2.97h-3.33z" fill="#c99c34"/><circle cx="470.9" cy="626.7" r="1.45" fill="#c99c34"/><path d="M459.2 621.9l1.67 2.97h-3.33z" fill="#c99c34"/><circle cx="435.4" cy="629.0" r="1.45" fill="#c99c34"/><path d="M449.2 625.7l1.67 2.97h-3.33z" fill="#c99c34"/><rect x="501.7" y="626.4" width="2.67" height="2.67" fill="#c99c34"/><path d="M434.9 624.9l1.67 2.97h-3.33z" fill="#c99c34"/><path d="M431.5 622.9l1.67 2.97h-3.33z" fill="#c99c34"/><rect x="494.8" y="630.5" width="2.67" height="2.67" fill="#c99c34"/><circle cx="431.2" cy="615.8" r="1.45" fill="#c99c34"/><path d="M477.3 624.6l1.67 2.97h-3.33z" fill="#c99c34"/><rect x="509.6" y="629.7" width="2.67" height="2.67" fill="#c99c34"/><rect x="423.7" y="617.0" width="2.67" height="2.67" fill="#c99c34"/><path d="M431.3 626.4l1.67 2.97h-3.33z" fill="#c99c34"/><circle cx="493.1" cy="633.4" r="1.45" fill="#c99c34"/><circle cx="494.5" cy="630.8" r="1.45" fill="#c99c34"/><circle cx="465.6" cy="630.7" r="1.45" fill="#c99c34"/><circle cx="463.8" cy="628.1" r="1.45" fill="#c99c34"/><rect x="426.0" y="623.4" width="2.67" height="2.67" fill="#c99c34"/><rect x="450.2" y="619.8" width="2.67" height="2.67" fill="#c99c34"/><rect x="456.3" y="617.6" width="2.67" height="2.67" fill="#c99c34"/><circle cx="466.7" cy="633.2" r="1.45" fill="#c99c34"/><path d="M434.9 625.2l1.67 2.97h-3.33z" fill="#c99c34"/><circle cx="452.2" cy="625.5" r="1.45" fill="#c99c34"/><path d="M485.7 625.6l1.67 2.97h-3.33z" fill="#c99c34"/><rect x="500.5" y="631.9" width="2.67" height="2.67" fill="#c99c34"/><circle cx="475.1" cy="633.2" r="1.45" fill="#c99c34"/><rect x="479.8" y="627.0" width="2.67" height="2.67" fill="#c99c34"/><circle cx="500.3" cy="633.0" r="1.45" fill="#c99c34"/><circle cx="405.2" cy="626.2" r="1.45" fill="#c99c34"/><path d="M510.8 629.8l1.67 2.97h-3.33z" fill="#c99c34"/><circle cx="458.0" cy="632.6" r="1.45" fill="#c99c34"/><path d="M413.5 616.9l1.67 2.97h-3.33z" fill="#c99c34"/><circle cx="467.5" cy="632.1" r="1.45" fill="#c99c34"/><path d="M478.4 623.0l1.67 2.97h-3.33z" fill="#c99c34"/><rect x="441.7" y="629.7" width="2.67" height="2.67" fill="#c99c34"/><path d="M491.7 628.4l1.67 2.97h-3.33z" fill="#c99c34"/><rect x="482.0" y="631.7" width="2.67" height="2.67" fill="#c99c34"/><path d="M457.7 623.7l1.67 2.97h-3.33z" fill="#c99c34"/><rect x="457.8" y="630.3" width="2.67" height="2.67" fill="#c99c34"/><circle cx="445.7" cy="612.3" r="1.45" fill="#c99c34"/><circle cx="430.2" cy="616.5" r="1.45" fill="#c99c34"/><path d="M469.3 628.1l1.67 2.97h-3.33z" fill="#c99c34"/><rect x="440.6" y="621.9" width="2.67" height="2.67" fill="#c99c34"/><rect x="435.0" y="627.0" width="2.67" height="2.67" fill="#c99c34"/><rect x="461.3" y="627.6" width="2.67" height="2.67" fill="#c99c34"/><path d="M439.8 629.9l1.67 2.97h-3.33z" fill="#c99c34"/><rect x="471.1" y="629.4" width="2.67" height="2.67" fill="#c99c34"/><circle cx="451.9" cy="620.5" r="1.45" fill="#c99c34"/><rect x="443.5" y="626.9" width="2.67" height="2.67" fill="#c99c34"/><rect x="443.0" y="624.7" width="2.67" height="2.67" fill="#c99c34"/><rect x="458.8" y="631.2" width="2.67" height="2.67" fill="#c99c34"/><path d="M497.8 631.1l1.67 2.97h-3.33z" fill="#c99c34"/><circle cx="405.5" cy="625.1" r="1.45" fill="#c99c34"/><circle cx="510.1" cy="631.9" r="1.45" fill="#c99c34"/><rect x="467.5" y="626.6" width="2.67" height="2.67" fill="#c99c34"/><rect x="496.6" y="630.2" width="2.67" height="2.67" fill="#c99c34"/><circle cx="483.2" cy="629.0" r="1.45" fill="#c99c34"/><path d="M475.0 628.8l1.67 2.97h-3.33z" fill="#c99c34"/><rect x="434.3" y="626.9" width="2.67" height="2.67" fill="#c99c34"/><rect x="434.0" y="623.6" width="2.67" height="2.67" fill="#c99c34"/><circle cx="480.4" cy="629.6" r="1.45" fill="#c99c34"/><path d="M473.9 627.7l1.67 2.97h-3.33z" fill="#c99c34"/><circle cx="441.7" cy="628.7" r="1.45" fill="#c99c34"/><rect x="437.7" y="622.7" width="2.67" height="2.67" fill="#c99c34"/><path d="M417.9 619.4l1.67 2.97h-3.33z" fill="#c99c34"/><path d="M476.1 628.0l1.67 2.97h-3.33z" fill="#c99c34"/><rect x="477.0" y="631.8" width="2.67" height="2.67" fill="#c99c34"/><circle cx="423.4" cy="615.3" r="1.45" fill="#c99c34"/><rect x="437.3" y="626.5" width="2.67" height="2.67" fill="#c99c34"/><circle cx="452.2" cy="628.4" r="1.45" fill="#c99c34"/><circle cx="499.7" cy="633.1" r="1.45" fill="#c99c34"/><path d="M436.8 627.5l1.67 2.97h-3.33z" fill="#c99c34"/><path d="M456.4 623.6l1.67 2.97h-3.33z" fill="#c99c34"/><circle cx="484.9" cy="631.3" r="1.45" fill="#c99c34"/><path d="M461.2 626.0l1.67 2.97h-3.33z" fill="#c99c34"/><circle cx="447.4" cy="627.4" r="1.45" fill="#c99c34"/><path d="M460.4 628.5l1.67 2.97h-3.33z" fill="#c99c34"/><circle cx="493.9" cy="632.4" r="1.45" fill="#c99c34"/><path d="M457.7 627.1l1.67 2.97h-3.33z" fill="#c99c34"/><circle cx="485.4" cy="631.5" r="1.45" fill="#c99c34"/><path d="M430.8 612.4l1.67 2.97h-3.33z" fill="#c99c34"/><rect x="448.2" y="625.3" width="2.67" height="2.67" fill="#c99c34"/><path d="M440.3 624.5l1.67 2.97h-3.33z" fill="#c99c34"/><rect x="484.5" y="627.6" width="2.67" height="2.67" fill="#c99c34"/><rect x="426.0" y="623.2" width="2.67" height="2.67" fill="#c99c34"/><path d="M412.0 618.9l1.67 2.97h-3.33z" fill="#c99c34"/><path d="M469.9 624.6l1.67 2.97h-3.33z" fill="#c99c34"/><rect x="486.9" y="626.9" width="2.67" height="2.67" fill="#c99c34"/><rect x="411.8" y="612.9" width="2.67" height="2.67" fill="#c99c34"/><path d="M422.8 626.3l1.67 2.97h-3.33z" fill="#c99c34"/><circle cx="493.1" cy="631.0" r="1.45" fill="#c99c34"/><rect x="474.0" y="631.8" width="2.67" height="2.67" fill="#c99c34"/><rect x="443.8" y="627.0" width="2.67" height="2.67" fill="#c99c34"/><rect x="464.1" y="629.6" width="2.67" height="2.67" fill="#c99c34"/><path d="M488.7 626.5l1.67 2.97h-3.33z" fill="#c99c34"/><rect x="473.1" y="631.2" width="2.67" height="2.67" fill="#c99c34"/><rect x="407.4" y="622.3" width="2.67" height="2.67" fill="#c99c34"/><circle cx="457.2" cy="629.2" r="1.45" fill="#c99c34"/><rect x="461.8" y="630.0" width="2.67" height="2.67" fill="#c99c34"/><path d="M488.7 628.9l1.67 2.97h-3.33z" fill="#c99c34"/><rect x="490.5" y="628.8" width="2.67" height="2.67" fill="#c99c34"/><rect x="460.3" y="616.9" width="2.67" height="2.67" fill="#c99c34"/><rect x="471.6" y="629.0" width="2.67" height="2.67" fill="#c99c34"/><rect x="446.4" y="627.3" width="2.67" height="2.67" fill="#c99c34"/><circle cx="434.1" cy="626.1" r="1.45" fill="#c99c34"/><circle cx="464.4" cy="630.4" r="1.45" fill="#c99c34"/><circle cx="418.9" cy="618.4" r="1.45" fill="#c99c34"/><circle cx="401.2" cy="623.7" r="1.45" fill="#c99c34"/><circle cx="420.3" cy="625.7" r="1.45" fill="#c99c34"/><path d="M474.0 623.8l1.67 2.97h-3.33z" fill="#c99c34"/><rect x="458.9" y="630.4" width="2.67" height="2.67" fill="#c99c34"/><rect x="453.7" y="622.4" width="2.67" height="2.67" fill="#c99c34"/><circle cx="500.1" cy="632.1" r="1.45" fill="#c99c34"/><rect x="466.6" y="626.7" width="2.67" height="2.67" fill="#c99c34"/><path d="M449.0 624.1l1.67 2.97h-3.33z" fill="#c99c34"/><path d="M491.1 628.9l1.67 2.97h-3.33z" fill="#c99c34"/><rect x="456.2" y="624.7" width="2.67" height="2.67" fill="#c99c34"/><path d="M413.2 626.0l1.67 2.97h-3.33z" fill="#c99c34"/><rect x="439.2" y="629.6" width="2.67" height="2.67" fill="#c99c34"/><rect x="441.2" y="626.8" width="2.67" height="2.67" fill="#c99c34"/><path d="M465.1 629.7l1.67 2.97h-3.33z" fill="#c99c34"/><rect x="453.1" y="629.6" width="2.67" height="2.67" fill="#c99c34"/><rect x="470.3" y="630.3" width="2.67" height="2.67" fill="#c99c34"/><rect x="456.5" y="625.1" width="2.67" height="2.67" fill="#c99c34"/><rect x="448.9" y="620.1" width="2.67" height="2.67" fill="#c99c34"/><rect x="447.1" y="628.6" width="2.67" height="2.67" fill="#c99c34"/><rect x="451.4" y="625.5" width="2.67" height="2.67" fill="#c99c34"/><path d="M446.5 623.9l1.67 2.97h-3.33z" fill="#c99c34"/><circle cx="417.9" cy="620.7" r="1.45" fill="#c99c34"/><circle cx="435.2" cy="628.3" r="1.45" fill="#c99c34"/><rect x="471.1" y="628.6" width="2.67" height="2.67" fill="#c99c34"/><path d="M426.7 624.2l1.67 2.97h-3.33z" fill="#c99c34"/><circle cx="494.5" cy="629.4" r="1.45" fill="#c99c34"/><rect x="466.4" y="628.5" width="2.67" height="2.67" fill="#c99c34"/><rect x="451.5" y="628.5" width="2.67" height="2.67" fill="#c99c34"/><circle cx="414.4" cy="618.6" r="1.45" fill="#c99c34"/><circle cx="452.5" cy="626.7" r="1.45" fill="#c99c34"/><rect x="447.2" y="616.3" width="2.67" height="2.67" fill="#c99c34"/><path d="M472.1 625.4l1.67 2.97h-3.33z" fill="#c99c34"/><path d="M490.0 630.1l1.67 2.97h-3.33z" fill="#c99c34"/><path d="M485.6 623.7l1.67 2.97h-3.33z" fill="#c99c34"/><path d="M477.5 627.2l1.67 2.97h-3.33z" fill="#c99c34"/><circle cx="482.7" cy="631.7" r="1.45" fill="#c99c34"/><circle cx="506.3" cy="626.9" r="1.45" fill="#c99c34"/><circle cx="477.3" cy="629.6" r="1.45" fill="#c99c34"/><circle cx="475.2" cy="631.2" r="1.45" fill="#c99c34"/><circle cx="442.8" cy="625.7" r="1.45" fill="#c99c34"/><circle cx="460.9" cy="625.5" r="1.45" fill="#c99c34"/><path d="M474.1 627.8l1.67 2.97h-3.33z" fill="#c99c34"/><path d="M412.0 620.1l1.67 2.97h-3.33z" fill="#c99c34"/><rect x="509.7" y="628.5" width="2.67" height="2.67" fill="#c99c34"/><rect x="452.9" y="624.5" width="2.67" height="2.67" fill="#c99c34"/><rect x="475.3" y="631.3" width="2.67" height="2.67" fill="#c99c34"/><rect x="396.3" y="620.8" width="2.67" height="2.67" fill="#c99c34"/><path d="M461.5 625.7l1.67 2.97h-3.33z" fill="#c99c34"/><rect x="425.8" y="626.4" width="2.67" height="2.67" fill="#c99c34"/><rect x="453.9" y="619.2" width="2.67" height="2.67" fill="#c99c34"/><circle cx="426.8" cy="623.2" r="1.45" fill="#c99c34"/><circle cx="428.2" cy="626.2" r="1.45" fill="#c99c34"/><path d="M411.5 609.9l1.67 2.97h-3.33z" fill="#c99c34"/><circle cx="492.2" cy="633.3" r="1.45" fill="#c99c34"/><path d="M437.6 622.4l1.67 2.97h-3.33z" fill="#c99c34"/><path d="M427.2 625.3l1.67 2.97h-3.33z" fill="#c99c34"/><path d="M415.6 618.7l1.67 2.97h-3.33z" fill="#c99c34"/><rect x="452.1" y="629.4" width="2.67" height="2.67" fill="#c99c34"/><rect x="499.5" y="627.9" width="2.67" height="2.67" fill="#c99c34"/><rect x="453.7" y="628.8" width="2.67" height="2.67" fill="#c99c34"/><circle cx="432.8" cy="629.1" r="1.45" fill="#c99c34"/><path d="M454.0 617.6l1.67 2.97h-3.33z" fill="#c99c34"/><circle cx="438.4" cy="628.2" r="1.45" fill="#c99c34"/><circle cx="450.9" cy="617.0" r="1.45" fill="#c99c34"/><circle cx="436.7" cy="623.8" r="1.45" fill="#c99c34"/><circle cx="496.4" cy="627.8" r="1.45" fill="#c99c34"/><path d="M447.4 625.0l1.67 2.97h-3.33z" fill="#c99c34"/><circle cx="431.8" cy="620.1" r="1.45" fill="#c99c34"/><path d="M463.7 628.0l1.67 2.97h-3.33z" fill="#c99c34"/><circle cx="460.9" cy="623.1" r="1.45" fill="#c99c34"/><path d="M484.8 630.0l1.67 2.97h-3.33z" fill="#c99c34"/><rect x="441.6" y="628.6" width="2.67" height="2.67" fill="#c99c34"/><circle cx="452.9" cy="629.4" r="1.45" fill="#c99c34"/><rect x="456.6" y="629.2" width="2.67" height="2.67" fill="#c99c34"/><path d="M453.5 627.7l1.67 2.97h-3.33z" fill="#c99c34"/><rect x="467.5" y="627.9" width="2.67" height="2.67" fill="#c99c34"/><circle cx="471.3" cy="630.8" r="1.45" fill="#c99c34"/><path d="M470.0 626.3l1.67 2.97h-3.33z" fill="#c99c34"/><path d="M408.9 620.2l1.67 2.97h-3.33z" fill="#c99c34"/><rect x="471.5" y="625.5" width="2.67" height="2.67" fill="#c99c34"/><circle cx="463.4" cy="625.2" r="1.45" fill="#c99c34"/><rect x="404.5" y="619.2" width="2.67" height="2.67" fill="#c99c34"/><path d="M459.8 624.3l1.67 2.97h-3.33z" fill="#c99c34"/><circle cx="439.2" cy="628.7" r="1.45" fill="#c99c34"/><circle cx="454.5" cy="630.3" r="1.45" fill="#c99c34"/><circle cx="426.1" cy="620.1" r="1.45" fill="#c99c34"/><circle cx="479.5" cy="629.9" r="1.45" fill="#c99c34"/><circle cx="476.2" cy="630.9" r="1.45" fill="#c99c34"/><rect x="484.1" y="627.4" width="2.67" height="2.67" fill="#c99c34"/><path d="M471.7 627.4l1.67 2.97h-3.33z" fill="#c99c34"/><rect x="470.9" y="621.5" width="2.67" height="2.67" fill="#c99c34"/><path d="M473.6 628.4l1.67 2.97h-3.33z" fill="#c99c34"/><path d="M491.9 630.0l1.67 2.97h-3.33z" fill="#c99c34"/><rect x="457.8" y="627.8" width="2.67" height="2.67" fill="#c99c34"/><rect x="480.6" y="624.8" width="2.67" height="2.67" fill="#c99c34"/><path d="M426.0 617.1l1.67 2.97h-3.33z" fill="#c99c34"/><circle cx="479.7" cy="622.8" r="1.45" fill="#c99c34"/><rect x="452.3" y="620.7" width="2.67" height="2.67" fill="#c99c34"/><rect x="501.0" y="630.5" width="2.67" height="2.67" fill="#c99c34"/><path d="M472.2 630.5l1.67 2.97h-3.33z" fill="#c99c34"/><path d="M434.5 621.3l1.67 2.97h-3.33z" fill="#c99c34"/><circle cx="470.3" cy="627.0" r="1.45" fill="#c99c34"/><path d="M446.6 619.4l1.67 2.97h-3.33z" fill="#c99c34"/><rect x="488.3" y="628.5" width="2.67" height="2.67" fill="#c99c34"/><path d="M459.8 617.9l1.67 2.97h-3.33z" fill="#c99c34"/><path d="M455.0 622.9l1.67 2.97h-3.33z" fill="#c99c34"/><rect x="457.0" y="620.4" width="2.67" height="2.67" fill="#c99c34"/><path d="M427.7 621.3l1.67 2.97h-3.33z" fill="#c99c34"/><circle cx="461.2" cy="630.9" r="1.45" fill="#c99c34"/><rect x="450.6" y="624.1" width="2.67" height="2.67" fill="#c99c34"/><circle cx="460.5" cy="624.2" r="1.45" fill="#c99c34"/><rect x="486.8" y="631.4" width="2.67" height="2.67" fill="#c99c34"/><circle cx="425.9" cy="626.9" r="1.45" fill="#c99c34"/><rect x="454.5" y="617.5" width="2.67" height="2.67" fill="#c99c34"/><rect x="498.0" y="627.9" width="2.67" height="2.67" fill="#c99c34"/><circle cx="453.8" cy="630.6" r="1.45" fill="#c99c34"/><path d="M448.3 631.2l1.67 2.97h-3.33z" fill="#c99c34"/><circle cx="464.0" cy="628.0" r="1.45" fill="#c99c34"/><path d="M491.2 627.5l1.67 2.97h-3.33z" fill="#c99c34"/><circle cx="460.6" cy="623.3" r="1.45" fill="#c99c34"/><path d="M490.0 623.5l1.67 2.97h-3.33z" fill="#c99c34"/><path d="M430.7 625.9l1.67 2.97h-3.33z" fill="#c99c34"/><path d="M495.4 629.7l1.67 2.97h-3.33z" fill="#c99c34"/><circle cx="450.1" cy="628.7" r="1.45" fill="#c99c34"/><rect x="474.4" y="624.4" width="2.67" height="2.67" fill="#c99c34"/><circle cx="487.0" cy="631.7" r="1.45" fill="#c99c34"/><path d="M440.7 621.9l1.67 2.97h-3.33z" fill="#c99c34"/><path d="M512.3 630.5l1.67 2.97h-3.33z" fill="#c99c34"/><circle cx="464.9" cy="629.7" r="1.45" fill="#c99c34"/><rect x="446.0" y="623.7" width="2.67" height="2.67" fill="#c99c34"/><circle cx="503.9" cy="629.3" r="1.45" fill="#c99c34"/><rect x="477.8" y="628.2" width="2.67" height="2.67" fill="#c99c34"/><circle cx="460.1" cy="625.2" r="1.45" fill="#c99c34"/><path d="M423.8 627.1l1.67 2.97h-3.33z" fill="#c99c34"/><circle cx="469.4" cy="629.9" r="1.45" fill="#c99c34"/><circle cx="410.0" cy="619.8" r="1.45" fill="#c99c34"/><rect x="480.2" y="628.0" width="2.67" height="2.67" fill="#c99c34"/><rect x="459.5" y="631.9" width="2.67" height="2.67" fill="#c99c34"/><rect x="453.2" y="626.8" width="2.67" height="2.67" fill="#c99c34"/><rect x="431.7" y="627.6" width="2.67" height="2.67" fill="#c99c34"/><rect x="406.3" y="621.0" width="2.67" height="2.67" fill="#c99c34"/><rect x="431.6" y="624.0" width="2.67" height="2.67" fill="#c99c34"/><rect x="433.5" y="624.7" width="2.67" height="2.67" fill="#c99c34"/><rect x="459.5" y="628.1" width="2.67" height="2.67" fill="#c99c34"/><path d="M431.8 621.4l1.67 2.97h-3.33z" fill="#c99c34"/><circle cx="492.0" cy="623.1" r="1.45" fill="#c99c34"/><rect x="472.2" y="626.1" width="2.67" height="2.67" fill="#c99c34"/><circle cx="434.8" cy="625.7" r="1.45" fill="#c99c34"/><path d="M457.4 627.2l1.67 2.97h-3.33z" fill="#c99c34"/><path d="M458.1 625.5l1.67 2.97h-3.33z" fill="#c99c34"/><rect x="432.6" y="625.1" width="2.67" height="2.67" fill="#c99c34"/><circle cx="450.2" cy="628.4" r="1.45" fill="#c99c34"/><path d="M493.1 631.1l1.67 2.97h-3.33z" fill="#c99c34"/><path d="M435.9 622.3l1.67 2.97h-3.33z" fill="#c99c34"/><rect x="481.2" y="628.6" width="2.67" height="2.67" fill="#c99c34"/><circle cx="451.5" cy="629.1" r="1.45" fill="#c99c34"/><path d="M430.8 625.2l1.67 2.97h-3.33z" fill="#c99c34"/><circle cx="450.1" cy="618.6" r="1.45" fill="#c99c34"/><path d="M482.0 630.3l1.67 2.97h-3.33z" fill="#c99c34"/><circle cx="455.4" cy="627.3" r="1.45" fill="#c99c34"/><circle cx="441.7" cy="626.0" r="1.45" fill="#c99c34"/><rect x="450.3" y="629.1" width="2.67" height="2.67" fill="#c99c34"/><path d="M430.1 619.4l1.67 2.97h-3.33z" fill="#c99c34"/><path d="M463.2 631.4l1.67 2.97h-3.33z" fill="#c99c34"/><rect x="481.7" y="629.7" width="2.67" height="2.67" fill="#c99c34"/><circle cx="485.8" cy="629.5" r="1.45" fill="#c99c34"/><rect x="506.1" y="628.0" width="2.67" height="2.67" fill="#c99c34"/><rect x="474.5" y="630.5" width="2.67" height="2.67" fill="#c99c34"/><path d="M397.0 627.8l1.67 2.97h-3.33z" fill="#c99c34"/><rect x="467.1" y="627.5" width="2.67" height="2.67" fill="#c99c34"/><circle cx="419.9" cy="628.7" r="1.45" fill="#c99c34"/><path d="M446.3 631.3l1.67 2.97h-3.33z" fill="#c99c34"/><path d="M437.9 628.2l1.67 2.97h-3.33z" fill="#c99c34"/><circle cx="471.3" cy="630.0" r="1.45" fill="#c99c34"/><circle cx="456.3" cy="629.1" r="1.45" fill="#c99c34"/><circle cx="444.7" cy="628.4" r="1.45" fill="#c99c34"/><circle cx="459.6" cy="632.9" r="1.45" fill="#c99c34"/><circle cx="414.5" cy="626.7" r="1.45" fill="#c99c34"/><rect x="429.5" y="625.9" width="2.67" height="2.67" fill="#c99c34"/><circle cx="474.1" cy="625.7" r="1.45" fill="#c99c34"/><path d="M507.3 630.4l1.67 2.97h-3.33z" fill="#c99c34"/><rect x="440.0" y="625.4" width="2.67" height="2.67" fill="#c99c34"/><rect x="491.1" y="628.4" width="2.67" height="2.67" fill="#c99c34"/><rect x="449.8" y="626.8" width="2.67" height="2.67" fill="#c99c34"/><path d="M489.6 629.3l1.67 2.97h-3.33z" fill="#c99c34"/><circle cx="424.4" cy="625.7" r="1.45" fill="#c99c34"/><rect x="462.7" y="628.0" width="2.67" height="2.67" fill="#c99c34"/><path d="M489.1 631.3l1.67 2.97h-3.33z" fill="#c99c34"/><circle cx="425.0" cy="621.9" r="1.45" fill="#c99c34"/><path d="M457.4 627.1l1.67 2.97h-3.33z" fill="#c99c34"/><circle cx="431.3" cy="625.2" r="1.45" fill="#c99c34"/><path d="M448.6 630.0l1.67 2.97h-3.33z" fill="#c99c34"/><path d="M466.7 624.9l1.67 2.97h-3.33z" fill="#c99c34"/><path d="M448.3 628.2l1.67 2.97h-3.33z" fill="#c99c34"/><circle cx="439.2" cy="630.7" r="1.45" fill="#c99c34"/><path d="M461.7 620.0l1.67 2.97h-3.33z" fill="#c99c34"/><circle cx="436.6" cy="627.6" r="1.45" fill="#c99c34"/><circle cx="446.9" cy="626.0" r="1.45" fill="#c99c34"/><rect x="435.1" y="624.6" width="2.67" height="2.67" fill="#c99c34"/><rect x="461.5" y="626.0" width="2.67" height="2.67" fill="#c99c34"/><circle cx="434.9" cy="623.6" r="1.45" fill="#c99c34"/><rect x="429.8" y="623.8" width="2.67" height="2.67" fill="#c99c34"/><rect x="429.0" y="627.0" width="2.67" height="2.67" fill="#c99c34"/><path d="M424.5 620.7l1.67 2.97h-3.33z" fill="#c99c34"/><circle cx="467.5" cy="627.4" r="1.45" fill="#c99c34"/><rect x="481.4" y="629.2" width="2.67" height="2.67" fill="#c99c34"/><circle cx="452.5" cy="619.1" r="1.45" fill="#c99c34"/><rect x="422.4" y="626.5" width="2.67" height="2.67" fill="#c99c34"/><circle cx="413.4" cy="625.6" r="1.45" fill="#c99c34"/><rect x="442.7" y="625.4" width="2.67" height="2.67" fill="#c99c34"/><path d="M445.2 623.2l1.67 2.97h-3.33z" fill="#c99c34"/><circle cx="456.9" cy="628.9" r="1.45" fill="#c99c34"/><rect x="453.1" y="626.8" width="2.67" height="2.67" fill="#c99c34"/><rect x="470.0" y="628.7" width="2.67" height="2.67" fill="#c99c34"/><path d="M434.5 624.0l1.67 2.97h-3.33z" fill="#c99c34"/><rect x="507.9" y="630.3" width="2.67" height="2.67" fill="#c99c34"/><rect x="427.4" y="626.4" width="2.67" height="2.67" fill="#c99c34"/><rect x="446.4" y="619.0" width="2.67" height="2.67" fill="#c99c34"/><path d="M451.8 626.3l1.67 2.97h-3.33z" fill="#c99c34"/><circle cx="435.2" cy="625.3" r="1.45" fill="#c99c34"/><rect x="397.1" y="626.3" width="2.67" height="2.67" fill="#c99c34"/><rect x="484.4" y="625.8" width="2.67" height="2.67" fill="#c99c34"/><rect x="486.0" y="626.0" width="2.67" height="2.67" fill="#c99c34"/><path d="M407.8 615.2l1.67 2.97h-3.33z" fill="#c99c34"/><circle cx="457.5" cy="626.7" r="1.45" fill="#c99c34"/><circle cx="450.1" cy="625.0" r="1.45" fill="#c99c34"/><path d="M489.4 627.6l1.67 2.97h-3.33z" fill="#c99c34"/><rect x="459.2" y="627.9" width="2.67" height="2.67" fill="#c99c34"/><rect x="450.3" y="619.0" width="2.67" height="2.67" fill="#c99c34"/><rect x="434.2" y="625.8" width="2.67" height="2.67" fill="#c99c34"/><circle cx="468.3" cy="631.9" r="1.45" fill="#c99c34"/><circle cx="447.3" cy="628.5" r="1.45" fill="#c99c34"/><path d="M464.7 629.8l1.67 2.97h-3.33z" fill="#c99c34"/><circle cx="467.7" cy="627.3" r="1.45" fill="#c99c34"/><rect x="456.8" y="622.4" width="2.67" height="2.67" fill="#c99c34"/><circle cx="455.8" cy="631.1" r="1.45" fill="#c99c34"/><rect x="446.7" y="630.2" width="2.67" height="2.67" fill="#c99c34"/><path d="M455.2 620.0l1.67 2.97h-3.33z" fill="#c99c34"/><circle cx="420.2" cy="626.6" r="1.45" fill="#c99c34"/><rect x="396.7" y="622.9" width="2.67" height="2.67" fill="#c99c34"/><rect x="449.6" y="622.4" width="2.67" height="2.67" fill="#c99c34"/><path d="M475.3 626.4l1.67 2.97h-3.33z" fill="#c99c34"/><path d="M444.8 627.4l1.67 2.97h-3.33z" fill="#c99c34"/><rect x="434.0" y="625.5" width="2.67" height="2.67" fill="#c99c34"/><path d="M458.1 626.0l1.67 2.97h-3.33z" fill="#c99c34"/><circle cx="428.4" cy="628.5" r="1.45" fill="#c99c34"/><path d="M429.0 624.5l1.67 2.97h-3.33z" fill="#c99c34"/><path d="M444.8 622.9l1.67 2.97h-3.33z" fill="#c99c34"/><rect x="457.6" y="627.7" width="2.67" height="2.67" fill="#c99c34"/><circle cx="455.7" cy="627.5" r="1.45" fill="#c99c34"/><path d="M490.9 628.6l1.67 2.97h-3.33z" fill="#c99c34"/><path d="M447.5 627.8l1.67 2.97h-3.33z" fill="#c99c34"/><path d="M416.2 621.2l1.67 2.97h-3.33z" fill="#c99c34"/><circle cx="428.3" cy="629.5" r="1.45" fill="#c99c34"/><circle cx="438.6" cy="625.0" r="1.45" fill="#c99c34"/><circle cx="450.3" cy="628.2" r="1.45" fill="#c99c34"/><rect x="421.6" y="626.7" width="2.67" height="2.67" fill="#c99c34"/><circle cx="470.6" cy="630.1" r="1.45" fill="#c99c34"/><circle cx="470.0" cy="632.6" r="1.45" fill="#c99c34"/><rect x="433.1" y="626.3" width="2.67" height="2.67" fill="#c99c34"/><rect x="486.4" y="628.6" width="2.67" height="2.67" fill="#c99c34"/><circle cx="452.6" cy="625.2" r="1.45" fill="#c99c34"/><rect x="429.3" y="622.9" width="2.67" height="2.67" fill="#c99c34"/><path d="M441.8 626.9l1.67 2.97h-3.33z" fill="#c99c34"/><circle cx="437.4" cy="623.3" r="1.45" fill="#c99c34"/><rect x="482.5" y="628.0" width="2.67" height="2.67" fill="#c99c34"/><circle cx="439.8" cy="623.0" r="1.45" fill="#c99c34"/><circle cx="489.7" cy="633.2" r="1.45" fill="#c99c34"/><circle cx="467.3" cy="624.8" r="1.45" fill="#c99c34"/><circle cx="455.5" cy="629.4" r="1.45" fill="#c99c34"/><circle cx="470.3" cy="629.7" r="1.45" fill="#c99c34"/><path d="M451.0 625.8l1.67 2.97h-3.33z" fill="#c99c34"/><path d="M445.5 628.0l1.67 2.97h-3.33z" fill="#c99c34"/><rect x="421.2" y="619.4" width="2.67" height="2.67" fill="#c99c34"/><circle cx="482.7" cy="627.1" r="1.45" fill="#c99c34"/><circle cx="429.8" cy="626.3" r="1.45" fill="#c99c34"/><path d="M457.9 627.5l1.67 2.97h-3.33z" fill="#c99c34"/><rect x="505.3" y="631.9" width="2.67" height="2.67" fill="#c99c34"/><circle cx="510.4" cy="632.6" r="1.45" fill="#c99c34"/><rect x="500.5" y="629.7" width="2.67" height="2.67" fill="#c99c34"/><path d="M456.1 622.1l1.67 2.97h-3.33z" fill="#c99c34"/><circle cx="495.2" cy="628.9" r="1.45" fill="#c99c34"/><path d="M460.4 627.8l1.67 2.97h-3.33z" fill="#c99c34"/><rect x="429.5" y="621.6" width="2.67" height="2.67" fill="#c99c34"/><path d="M467.1 629.2l1.67 2.97h-3.33z" fill="#c99c34"/><rect x="469.1" y="626.8" width="2.67" height="2.67" fill="#c99c34"/><path d="M499.0 629.7l1.67 2.97h-3.33z" fill="#c99c34"/><circle cx="443.1" cy="626.8" r="1.45" fill="#c99c34"/><path d="M434.7 625.3l1.67 2.97h-3.33z" fill="#c99c34"/><rect x="466.7" y="629.7" width="2.67" height="2.67" fill="#c99c34"/><circle cx="474.7" cy="630.8" r="1.45" fill="#c99c34"/><path d="M504.4 629.5l1.67 2.97h-3.33z" fill="#c99c34"/><circle cx="468.5" cy="630.3" r="1.45" fill="#c99c34"/><circle cx="445.0" cy="625.4" r="1.45" fill="#c99c34"/><circle cx="459.4" cy="631.4" r="1.45" fill="#c99c34"/><rect x="405.1" y="621.2" width="2.67" height="2.67" fill="#c99c34"/><rect x="456.4" y="622.2" width="2.67" height="2.67" fill="#c99c34"/><rect x="503.8" y="629.6" width="2.67" height="2.67" fill="#c99c34"/><circle cx="462.9" cy="630.1" r="1.45" fill="#c99c34"/><rect x="432.9" y="622.9" width="2.67" height="2.67" fill="#c99c34"/><rect x="441.4" y="618.9" width="2.67" height="2.67" fill="#c99c34"/><rect x="478.7" y="626.4" width="2.67" height="2.67" fill="#c99c34"/><path d="M432.2 620.2l1.67 2.97h-3.33z" fill="#c99c34"/><circle cx="465.2" cy="621.4" r="1.45" fill="#c99c34"/><circle cx="459.7" cy="627.9" r="1.45" fill="#c99c34"/><path d="M476.1 627.6l1.67 2.97h-3.33z" fill="#c99c34"/><rect x="478.9" y="626.3" width="2.67" height="2.67" fill="#c99c34"/><circle cx="480.8" cy="630.6" r="1.45" fill="#c99c34"/><circle cx="465.6" cy="627.2" r="1.45" fill="#c99c34"/><rect x="477.1" y="628.9" width="2.67" height="2.67" fill="#c99c34"/><circle cx="456.8" cy="622.3" r="1.45" fill="#c99c34"/><rect x="432.8" y="628.2" width="2.67" height="2.67" fill="#c99c34"/><path d="M455.6 624.2l1.67 2.97h-3.33z" fill="#c99c34"/><circle cx="473.9" cy="630.3" r="1.45" fill="#c99c34"/><path d="M484.3 626.9l1.67 2.97h-3.33z" fill="#c99c34"/><rect x="507.5" y="627.9" width="2.67" height="2.67" fill="#c99c34"/><path d="M449.1 627.4l1.67 2.97h-3.33z" fill="#c99c34"/><circle cx="431.2" cy="626.8" r="1.45" fill="#c99c34"/><path d="M431.1 621.9l1.67 2.97h-3.33z" fill="#c99c34"/><path d="M464.5 623.9l1.67 2.97h-3.33z" fill="#c99c34"/><path d="M404.1 625.5l1.67 2.97h-3.33z" fill="#c99c34"/><circle cx="420.2" cy="624.4" r="1.45" fill="#c99c34"/><path d="M464.9 626.0l1.67 2.97h-3.33z" fill="#c99c34"/><rect x="464.8" y="629.3" width="2.67" height="2.67" fill="#c99c34"/><path d="M416.8 627.6l1.67 2.97h-3.33z" fill="#c99c34"/><circle cx="475.0" cy="626.7" r="1.45" fill="#c99c34"/><rect x="458.9" y="622.5" width="2.67" height="2.67" fill="#c99c34"/><circle cx="478.4" cy="629.9" r="1.45" fill="#c99c34"/><path d="M486.9 628.9l1.67 2.97h-3.33z" fill="#c99c34"/><circle cx="454.6" cy="628.8" r="1.45" fill="#c99c34"/><rect x="457.7" y="630.1" width="2.67" height="2.67" fill="#c99c34"/><path d="M471.3 630.7l1.67 2.97h-3.33z" fill="#c99c34"/><path d="M429.7 623.8l1.67 2.97h-3.33z" fill="#c99c34"/><path d="M473.0 624.7l1.67 2.97h-3.33z" fill="#c99c34"/><path d="M416.6 619.3l1.67 2.97h-3.33z" fill="#c99c34"/><path d="M488.3 630.7l1.67 2.97h-3.33z" fill="#c99c34"/><rect x="471.9" y="624.6" width="2.67" height="2.67" fill="#c99c34"/><circle cx="440.2" cy="627.7" r="1.45" fill="#c99c34"/><rect x="457.1" y="619.4" width="2.67" height="2.67" fill="#c99c34"/><path d="M443.5 626.8l1.67 2.97h-3.33z" fill="#c99c34"/><circle cx="468.4" cy="630.9" r="1.45" fill="#c99c34"/><rect x="491.2" y="627.6" width="2.67" height="2.67" fill="#c99c34"/><rect x="450.7" y="629.6" width="2.67" height="2.67" fill="#c99c34"/><path d="M466.0 626.9l1.67 2.97h-3.33z" fill="#c99c34"/><circle cx="491.7" cy="630.2" r="1.45" fill="#c99c34"/><circle cx="456.2" cy="625.3" r="1.45" fill="#c99c34"/><rect x="482.8" y="622.5" width="2.67" height="2.67" fill="#c99c34"/><circle cx="438.5" cy="626.7" r="1.45" fill="#c99c34"/><circle cx="452.2" cy="624.8" r="1.45" fill="#c99c34"/><path d="M480.7 624.5l1.67 2.97h-3.33z" fill="#c99c34"/><path d="M491.7 630.1l1.67 2.97h-3.33z" fill="#c99c34"/><circle cx="425.8" cy="625.3" r="1.45" fill="#c99c34"/><circle cx="456.3" cy="623.7" r="1.45" fill="#c99c34"/><rect x="493.4" y="629.6" width="2.67" height="2.67" fill="#c99c34"/><rect x="467.8" y="626.3" width="2.67" height="2.67" fill="#c99c34"/><circle cx="437.5" cy="620.0" r="1.45" fill="#c99c34"/><circle cx="469.0" cy="631.1" r="1.45" fill="#c99c34"/><rect x="443.5" y="628.7" width="2.67" height="2.67" fill="#c99c34"/><path d="M494.2 623.3l1.67 2.97h-3.33z" fill="#c99c34"/><circle cx="437.3" cy="624.7" r="1.45" fill="#c99c34"/><rect x="429.3" y="619.7" width="2.67" height="2.67" fill="#c99c34"/><path d="M462.1 622.7l1.67 2.97h-3.33z" fill="#c99c34"/><circle cx="458.3" cy="625.3" r="1.45" fill="#c99c34"/><path d="M458.2 624.2l1.67 2.97h-3.33z" fill="#c99c34"/><path d="M435.0 627.3l1.67 2.97h-3.33z" fill="#c99c34"/><rect x="477.1" y="627.6" width="2.67" height="2.67" fill="#c99c34"/><path d="M454.1 629.9l1.67 2.97h-3.33z" fill="#c99c34"/><path d="M428.9 626.4l1.67 2.97h-3.33z" fill="#c99c34"/><rect x="472.0" y="619.0" width="2.67" height="2.67" fill="#c99c34"/><rect x="443.5" y="628.0" width="2.67" height="2.67" fill="#c99c34"/><rect x="481.1" y="625.5" width="2.67" height="2.67" fill="#c99c34"/><path d="M433.8 622.6l1.67 2.97h-3.33z" fill="#c99c34"/><circle cx="491.3" cy="631.0" r="1.45" fill="#c99c34"/><circle cx="497.1" cy="630.0" r="1.45" fill="#c99c34"/><circle cx="479.1" cy="625.6" r="1.45" fill="#c99c34"/><path d="M485.7 630.3l1.67 2.97h-3.33z" fill="#c99c34"/><path d="M489.9 626.8l1.67 2.97h-3.33z" fill="#c99c34"/><path d="M397.8 619.7l1.67 2.97h-3.33z" fill="#c99c34"/><circle cx="479.9" cy="630.4" r="1.45" fill="#c99c34"/><rect x="458.5" y="626.4" width="2.67" height="2.67" fill="#c99c34"/><rect x="508.6" y="627.6" width="2.67" height="2.67" fill="#c99c34"/><circle cx="467.3" cy="626.8" r="1.45" fill="#c99c34"/><path d="M476.2 623.3l1.67 2.97h-3.33z" fill="#c99c34"/><circle cx="451.6" cy="626.3" r="1.45" fill="#c99c34"/><circle cx="492.4" cy="627.8" r="1.45" fill="#c99c34"/><circle cx="482.9" cy="627.3" r="1.45" fill="#c99c34"/><rect x="464.1" y="628.9" width="2.67" height="2.67" fill="#c99c34"/><circle cx="510.6" cy="632.6" r="1.45" fill="#c99c34"/><path d="M476.6 628.2l1.67 2.97h-3.33z" fill="#c99c34"/><circle cx="459.1" cy="627.8" r="1.45" fill="#c99c34"/><circle cx="444.8" cy="619.9" r="1.45" fill="#c99c34"/><circle cx="439.4" cy="625.7" r="1.45" fill="#c99c34"/><rect x="472.0" y="627.0" width="2.67" height="2.67" fill="#c99c34"/><circle cx="441.4" cy="621.2" r="1.45" fill="#c99c34"/><path d="M440.2 626.9l1.67 2.97h-3.33z" fill="#c99c34"/><path d="M439.3 622.6l1.67 2.97h-3.33z" fill="#c99c34"/><circle cx="503.1" cy="632.8" r="1.45" fill="#c99c34"/><rect x="448.9" y="624.6" width="2.67" height="2.67" fill="#c99c34"/><circle cx="414.3" cy="625.7" r="1.45" fill="#c99c34"/><path d="M432.4 629.5l1.67 2.97h-3.33z" fill="#c99c34"/><circle cx="421.9" cy="626.7" r="1.45" fill="#c99c34"/><path d="M448.8 625.5l1.67 2.97h-3.33z" fill="#c99c34"/><path d="M445.9 623.1l1.67 2.97h-3.33z" fill="#c99c34"/><rect x="499.7" y="631.8" width="2.67" height="2.67" fill="#c99c34"/><path d="M434.9 629.1l1.67 2.97h-3.33z" fill="#c99c34"/><rect x="427.3" y="622.0" width="2.67" height="2.67" fill="#c99c34"/><circle cx="465.9" cy="627.7" r="1.45" fill="#c99c34"/><rect x="510.4" y="631.2" width="2.67" height="2.67" fill="#c99c34"/><circle cx="450.4" cy="624.4" r="1.45" fill="#c99c34"/><path d="M440.2 616.4l1.67 2.97h-3.33z" fill="#c99c34"/><circle cx="498.2" cy="629.7" r="1.45" fill="#c99c34"/><path d="M414.0 622.3l1.67 2.97h-3.33z" fill="#c99c34"/><path d="M459.0 622.7l1.67 2.97h-3.33z" fill="#c99c34"/><rect x="447.0" y="629.9" width="2.67" height="2.67" fill="#c99c34"/><rect x="476.1" y="628.0" width="2.67" height="2.67" fill="#c99c34"/><circle cx="472.7" cy="626.1" r="1.45" fill="#c99c34"/><rect x="454.0" y="623.2" width="2.67" height="2.67" fill="#c99c34"/><path d="M449.8 624.6l1.67 2.97h-3.33z" fill="#c99c34"/><rect x="459.6" y="628.5" width="2.67" height="2.67" fill="#c99c34"/><rect x="449.6" y="623.2" width="2.67" height="2.67" fill="#c99c34"/><rect x="443.5" y="626.6" width="2.67" height="2.67" fill="#c99c34"/><circle cx="460.9" cy="627.4" r="1.45" fill="#c99c34"/><circle cx="464.5" cy="632.3" r="1.45" fill="#c99c34"/><circle cx="506.0" cy="631.6" r="1.45" fill="#c99c34"/><path d="M471.0 627.1l1.67 2.97h-3.33z" fill="#c99c34"/><path d="M435.2 624.8l1.67 2.97h-3.33z" fill="#c99c34"/><circle cx="466.7" cy="630.6" r="1.45" fill="#c99c34"/><circle cx="441.4" cy="623.0" r="1.45" fill="#c99c34"/><path d="M507.8 627.0l1.67 2.97h-3.33z" fill="#c99c34"/><circle cx="469.5" cy="627.0" r="1.45" fill="#c99c34"/><circle cx="443.1" cy="628.1" r="1.45" fill="#c99c34"/><circle cx="433.3" cy="630.4" r="1.45" fill="#c99c34"/><path d="M478.4 626.8l1.67 2.97h-3.33z" fill="#c99c34"/><rect x="435.1" y="625.4" width="2.67" height="2.67" fill="#c99c34"/><rect x="424.9" y="626.9" width="2.67" height="2.67" fill="#c99c34"/><path d="M456.6 625.3l1.67 2.97h-3.33z" fill="#c99c34"/><rect x="434.8" y="628.7" width="2.67" height="2.67" fill="#c99c34"/><rect x="457.6" y="618.9" width="2.67" height="2.67" fill="#c99c34"/><rect x="466.3" y="631.6" width="2.67" height="2.67" fill="#c99c34"/><path d="M507.8 629.1l1.67 2.97h-3.33z" fill="#c99c34"/><path d="M498.5 625.4l1.67 2.97h-3.33z" fill="#c99c34"/><circle cx="494.2" cy="629.5" r="1.45" fill="#c99c34"/><path d="M440.1 624.9l1.67 2.97h-3.33z" fill="#c99c34"/><circle cx="474.0" cy="625.0" r="1.45" fill="#c99c34"/><path d="M433.8 627.5l1.67 2.97h-3.33z" fill="#c99c34"/><rect x="444.1" y="629.1" width="2.67" height="2.67" fill="#c99c34"/><rect x="442.3" y="626.5" width="2.67" height="2.67" fill="#c99c34"/><circle cx="426.9" cy="627.7" r="1.45" fill="#c99c34"/><circle cx="405.0" cy="623.8" r="1.45" fill="#c99c34"/><path d="M482.8 628.2l1.67 2.97h-3.33z" fill="#c99c34"/><path d="M460.6 630.3l1.67 2.97h-3.33z" fill="#c99c34"/><path d="M436.7 626.1l1.67 2.97h-3.33z" fill="#c99c34"/><rect x="464.8" y="624.9" width="2.67" height="2.67" fill="#c99c34"/><rect x="450.6" y="617.2" width="2.67" height="2.67" fill="#c99c34"/><rect x="478.0" y="624.5" width="2.67" height="2.67" fill="#c99c34"/><circle cx="448.7" cy="628.6" r="1.45" fill="#c99c34"/><path d="M472.8 624.3l1.67 2.97h-3.33z" fill="#c99c34"/><path d="M511.6 631.1l1.67 2.97h-3.33z" fill="#c99c34"/><circle cx="478.8" cy="633.3" r="1.45" fill="#c99c34"/><circle cx="441.6" cy="623.6" r="1.45" fill="#c99c34"/><rect x="424.4" y="624.6" width="2.67" height="2.67" fill="#c99c34"/><circle cx="396.9" cy="620.6" r="1.45" fill="#c99c34"/><rect x="443.8" y="625.4" width="2.67" height="2.67" fill="#c99c34"/><circle cx="439.3" cy="630.3" r="1.45" fill="#c99c34"/><circle cx="449.5" cy="626.1" r="1.45" fill="#c99c34"/><path d="M449.3 621.1l1.67 2.97h-3.33z" fill="#c99c34"/><circle cx="459.7" cy="627.5" r="1.45" fill="#c99c34"/><rect x="405.9" y="623.6" width="2.67" height="2.67" fill="#c99c34"/><rect x="406.4" y="627.1" width="2.67" height="2.67" fill="#c99c34"/><rect x="480.0" y="629.1" width="2.67" height="2.67" fill="#c99c34"/><rect x="455.5" y="628.0" width="2.67" height="2.67" fill="#c99c34"/><circle cx="491.0" cy="630.9" r="1.45" fill="#c99c34"/><path d="M423.8 624.2l1.67 2.97h-3.33z" fill="#c99c34"/><circle cx="447.5" cy="628.6" r="1.45" fill="#c99c34"/><circle cx="424.5" cy="625.1" r="1.45" fill="#c99c34"/><path d="M407.1 625.6l1.67 2.97h-3.33z" fill="#c99c34"/><rect x="426.4" y="628.9" width="2.67" height="2.67" fill="#c99c34"/><circle cx="469.2" cy="630.5" r="1.45" fill="#c99c34"/><path d="M487.1 630.6l1.67 2.97h-3.33z" fill="#c99c34"/><path d="M400.5 618.6l1.67 2.97h-3.33z" fill="#c99c34"/><path d="M431.5 619.1l1.67 2.97h-3.33z" fill="#c99c34"/><path d="M481.7 626.8l1.67 2.97h-3.33z" fill="#c99c34"/><path d="M474.4 628.6l1.67 2.97h-3.33z" fill="#c99c34"/><path d="M451.8 626.9l1.67 2.97h-3.33z" fill="#c99c34"/><circle cx="426.9" cy="623.3" r="1.45" fill="#c99c34"/><path d="M456.1 624.7l1.67 2.97h-3.33z" fill="#c99c34"/><rect x="450.9" y="623.9" width="2.67" height="2.67" fill="#c99c34"/><circle cx="464.7" cy="630.8" r="1.45" fill="#c99c34"/><path d="M428.3 621.0l1.67 2.97h-3.33z" fill="#c99c34"/><circle cx="489.3" cy="624.1" r="1.45" fill="#c99c34"/><circle cx="429.1" cy="620.2" r="1.45" fill="#c99c34"/><circle cx="443.4" cy="623.3" r="1.45" fill="#c99c34"/><circle cx="450.8" cy="627.7" r="1.45" fill="#c99c34"/><rect x="481.1" y="629.3" width="2.67" height="2.67" fill="#c99c34"/><path d="M455.8 625.3l1.67 2.97h-3.33z" fill="#c99c34"/><circle cx="504.7" cy="632.9" r="1.45" fill="#c99c34"/><path d="M491.8 630.7l1.67 2.97h-3.33z" fill="#c99c34"/><rect x="441.5" y="623.7" width="2.67" height="2.67" fill="#c99c34"/><circle cx="485.9" cy="633.5" r="1.45" fill="#c99c34"/><circle cx="427.8" cy="624.8" r="1.45" fill="#c99c34"/><path d="M422.0 617.9l1.67 2.97h-3.33z" fill="#c99c34"/><path d="M505.8 631.4l1.67 2.97h-3.33z" fill="#c99c34"/><rect x="473.3" y="628.4" width="2.67" height="2.67" fill="#c99c34"/><circle cx="505.6" cy="632.9" r="1.45" fill="#c99c34"/><circle cx="454.8" cy="620.6" r="1.45" fill="#c99c34"/><circle cx="444.5" cy="627.1" r="1.45" fill="#c99c34"/><path d="M437.2 621.3l1.67 2.97h-3.33z" fill="#c99c34"/><rect x="503.3" y="631.6" width="2.67" height="2.67" fill="#c99c34"/><circle cx="477.0" cy="629.5" r="1.45" fill="#c99c34"/><rect x="412.1" y="626.2" width="2.67" height="2.67" fill="#c99c34"/><path d="M432.0 625.8l1.67 2.97h-3.33z" fill="#c99c34"/><path d="M435.8 627.6l1.67 2.97h-3.33z" fill="#c99c34"/><path d="M422.0 627.0l1.67 2.97h-3.33z" fill="#c99c34"/><path d="M487.4 627.3l1.67 2.97h-3.33z" fill="#c99c34"/><path d="M453.3 624.3l1.67 2.97h-3.33z" fill="#c99c34"/><rect x="475.0" y="628.5" width="2.67" height="2.67" fill="#c99c34"/><rect x="461.5" y="626.9" width="2.67" height="2.67" fill="#c99c34"/><path d="M411.9 620.8l1.67 2.97h-3.33z" fill="#c99c34"/><rect x="440.5" y="623.9" width="2.67" height="2.67" fill="#c99c34"/><path d="M429.2 628.5l1.67 2.97h-3.33z" fill="#c99c34"/><path d="M483.7 626.5l1.67 2.97h-3.33z" fill="#c99c34"/><path d="M468.9 629.1l1.67 2.97h-3.33z" fill="#c99c34"/><circle cx="441.6" cy="626.8" r="1.45" fill="#c99c34"/><circle cx="497.5" cy="628.0" r="1.45" fill="#c99c34"/><path d="M431.1 627.3l1.67 2.97h-3.33z" fill="#c99c34"/><rect x="405.1" y="609.6" width="2.67" height="2.67" fill="#c99c34"/><rect x="463.6" y="628.6" width="2.67" height="2.67" fill="#c99c34"/><path d="M471.1 629.4l1.67 2.97h-3.33z" fill="#c99c34"/><rect x="406.3" y="613.9" width="2.67" height="2.67" fill="#c99c34"/><path d="M422.9 626.3l1.67 2.97h-3.33z" fill="#c99c34"/><rect x="431.9" y="622.9" width="2.67" height="2.67" fill="#c99c34"/><path d="M475.3 630.7l1.67 2.97h-3.33z" fill="#c99c34"/><rect x="464.1" y="625.5" width="2.67" height="2.67" fill="#c99c34"/><circle cx="420.9" cy="628.7" r="1.45" fill="#c99c34"/><path d="M454.6 625.4l1.67 2.97h-3.33z" fill="#f07b76"/><path d="M389.1 625.8l1.67 2.97h-3.33z" fill="#f07b76"/><rect x="455.5" y="631.8" width="2.67" height="2.67" fill="#f07b76"/><rect x="432.4" y="627.7" width="2.67" height="2.67" fill="#f07b76"/><path d="M418.3 624.7l1.67 2.97h-3.33z" fill="#f07b76"/><circle cx="436.1" cy="627.2" r="1.45" fill="#f07b76"/><path d="M444.3 627.7l1.67 2.97h-3.33z" fill="#f07b76"/><rect x="418.0" y="627.1" width="2.67" height="2.67" fill="#f07b76"/><circle cx="404.9" cy="629.5" r="1.45" fill="#f07b76"/><circle cx="443.7" cy="630.9" r="1.45" fill="#f07b76"/><rect x="436.0" y="628.9" width="2.67" height="2.67" fill="#f07b76"/><path d="M398.6 628.0l1.67 2.97h-3.33z" fill="#f07b76"/><rect x="459.4" y="630.1" width="2.67" height="2.67" fill="#f07b76"/><path d="M421.3 631.2l1.67 2.97h-3.33z" fill="#f07b76"/><rect x="473.9" y="631.7" width="2.67" height="2.67" fill="#f07b76"/><circle cx="465.1" cy="633.0" r="1.45" fill="#f07b76"/><circle cx="424.4" cy="630.0" r="1.45" fill="#f07b76"/><rect x="447.0" y="629.3" width="2.67" height="2.67" fill="#f07b76"/><circle cx="402.4" cy="627.4" r="1.45" fill="#f07b76"/><rect x="431.4" y="628.7" width="2.67" height="2.67" fill="#f07b76"/><circle cx="381.0" cy="630.2" r="1.45" fill="#f07b76"/><circle cx="400.0" cy="620.3" r="1.45" fill="#f07b76"/><path d="M426.4 629.4l1.67 2.97h-3.33z" fill="#f07b76"/><rect x="442.1" y="627.2" width="2.67" height="2.67" fill="#f07b76"/><circle cx="449.6" cy="631.1" r="1.45" fill="#f07b76"/><circle cx="456.8" cy="631.7" r="1.45" fill="#f07b76"/><path d="M453.7 630.4l1.67 2.97h-3.33z" fill="#f07b76"/><path d="M416.3 627.9l1.67 2.97h-3.33z" fill="#f07b76"/><rect x="424.3" y="631.6" width="2.67" height="2.67" fill="#f07b76"/><circle cx="412.0" cy="630.1" r="1.45" fill="#f07b76"/><path d="M428.8 622.3l1.67 2.97h-3.33z" fill="#f07b76"/><rect x="381.9" y="623.0" width="2.67" height="2.67" fill="#f07b76"/><path d="M407.5 628.4l1.67 2.97h-3.33z" fill="#f07b76"/><circle cx="463.4" cy="632.9" r="1.45" fill="#f07b76"/><path d="M432.1 629.7l1.67 2.97h-3.33z" fill="#f07b76"/><rect x="409.5" y="628.3" width="2.67" height="2.67" fill="#f07b76"/><circle cx="445.0" cy="628.5" r="1.45" fill="#f07b76"/><path d="M434.9 627.9l1.67 2.97h-3.33z" fill="#f07b76"/><rect x="425.2" y="630.0" width="2.67" height="2.67" fill="#f07b76"/><circle cx="418.5" cy="633.4" r="1.45" fill="#f07b76"/><path d="M402.3 621.1l1.67 2.97h-3.33z" fill="#f07b76"/><path d="M427.1 625.7l1.67 2.97h-3.33z" fill="#f07b76"/><circle cx="430.7" cy="630.6" r="1.45" fill="#f07b76"/><rect x="427.2" y="628.3" width="2.67" height="2.67" fill="#f07b76"/><rect x="464.0" y="631.6" width="2.67" height="2.67" fill="#f07b76"/><rect x="427.1" y="630.3" width="2.67" height="2.67" fill="#f07b76"/><rect x="434.6" y="622.6" width="2.67" height="2.67" fill="#f07b76"/><circle cx="460.1" cy="633.4" r="1.45" fill="#f07b76"/><circle cx="449.3" cy="632.1" r="1.45" fill="#f07b76"/><rect x="375.6" y="623.2" width="2.67" height="2.67" fill="#f07b76"/><path d="M426.2 627.2l1.67 2.97h-3.33z" fill="#f07b76"/><rect x="400.9" y="627.0" width="2.67" height="2.67" fill="#f07b76"/><rect x="407.3" y="628.2" width="2.67" height="2.67" fill="#f07b76"/><rect x="450.7" y="629.8" width="2.67" height="2.67" fill="#f07b76"/><path d="M468.4 631.5l1.67 2.97h-3.33z" fill="#f07b76"/><path d="M438.9 631.0l1.67 2.97h-3.33z" fill="#f07b76"/><rect x="414.5" y="626.7" width="2.67" height="2.67" fill="#f07b76"/><path d="M420.0 629.6l1.67 2.97h-3.33z" fill="#f07b76"/><rect x="414.3" y="626.4" width="2.67" height="2.67" fill="#f07b76"/><path d="M468.4 628.7l1.67 2.97h-3.33z" fill="#f07b76"/><circle cx="439.9" cy="627.8" r="1.45" fill="#f07b76"/><circle cx="445.2" cy="628.9" r="1.45" fill="#f07b76"/><path d="M429.7 630.5l1.67 2.97h-3.33z" fill="#f07b76"/><path d="M450.6 629.7l1.67 2.97h-3.33z" fill="#f07b76"/><path d="M423.9 628.3l1.67 2.97h-3.33z" fill="#f07b76"/><path d="M395.0 622.5l1.67 2.97h-3.33z" fill="#f07b76"/><path d="M427.8 629.1l1.67 2.97h-3.33z" fill="#f07b76"/><circle cx="410.3" cy="625.1" r="1.45" fill="#f07b76"/><path d="M389.4 624.9l1.67 2.97h-3.33z" fill="#f07b76"/><rect x="377.2" y="619.5" width="2.67" height="2.67" fill="#f07b76"/><circle cx="412.9" cy="629.0" r="1.45" fill="#f07b76"/><path d="M421.0 627.8l1.67 2.97h-3.33z" fill="#f07b76"/><path d="M473.6 630.9l1.67 2.97h-3.33z" fill="#f07b76"/><path d="M412.0 628.3l1.67 2.97h-3.33z" fill="#f07b76"/><path d="M409.6 622.4l1.67 2.97h-3.33z" fill="#f07b76"/><circle cx="425.6" cy="626.1" r="1.45" fill="#f07b76"/><rect x="446.6" y="631.1" width="2.67" height="2.67" fill="#f07b76"/><circle cx="395.8" cy="618.5" r="1.45" fill="#f07b76"/><rect x="419.7" y="623.6" width="2.67" height="2.67" fill="#f07b76"/><circle cx="459.6" cy="633.1" r="1.45" fill="#f07b76"/><rect x="467.6" y="630.0" width="2.67" height="2.67" fill="#f07b76"/><path d="M408.4 624.5l1.67 2.97h-3.33z" fill="#f07b76"/><path d="M384.4 630.5l1.67 2.97h-3.33z" fill="#f07b76"/><circle cx="423.9" cy="630.4" r="1.45" fill="#f07b76"/><path d="M421.8 627.8l1.67 2.97h-3.33z" fill="#f07b76"/><rect x="453.2" y="630.8" width="2.67" height="2.67" fill="#f07b76"/><rect x="448.5" y="631.7" width="2.67" height="2.67" fill="#f07b76"/><path d="M428.8 628.8l1.67 2.97h-3.33z" fill="#f07b76"/><rect x="404.8" y="625.9" width="2.67" height="2.67" fill="#f07b76"/><path d="M435.8 628.1l1.67 2.97h-3.33z" fill="#f07b76"/><rect x="404.6" y="629.8" width="2.67" height="2.67" fill="#f07b76"/><rect x="402.4" y="618.8" width="2.67" height="2.67" fill="#f07b76"/><rect x="424.9" y="630.9" width="2.67" height="2.67" fill="#f07b76"/><circle cx="477.3" cy="633.2" r="1.45" fill="#f07b76"/><path d="M472.5 630.1l1.67 2.97h-3.33z" fill="#f07b76"/><path d="M464.3 631.2l1.67 2.97h-3.33z" fill="#f07b76"/><path d="M386.9 626.8l1.67 2.97h-3.33z" fill="#f07b76"/><rect x="441.9" y="630.8" width="2.67" height="2.67" fill="#f07b76"/><path d="M408.3 627.5l1.67 2.97h-3.33z" fill="#f07b76"/><rect x="438.4" y="623.3" width="2.67" height="2.67" fill="#f07b76"/><path d="M450.0 630.3l1.67 2.97h-3.33z" fill="#f07b76"/><rect x="444.0" y="630.9" width="2.67" height="2.67" fill="#f07b76"/><path d="M411.0 629.8l1.67 2.97h-3.33z" fill="#f07b76"/><path d="M402.3 626.1l1.67 2.97h-3.33z" fill="#f07b76"/><circle cx="445.6" cy="630.2" r="1.45" fill="#f07b76"/><circle cx="459.4" cy="633.3" r="1.45" fill="#f07b76"/><circle cx="408.8" cy="630.1" r="1.45" fill="#f07b76"/><circle cx="405.8" cy="627.8" r="1.45" fill="#f07b76"/><circle cx="424.6" cy="631.3" r="1.45" fill="#f07b76"/><rect x="412.3" y="629.8" width="2.67" height="2.67" fill="#f07b76"/><path d="M452.1 628.6l1.67 2.97h-3.33z" fill="#f07b76"/><rect x="453.0" y="627.9" width="2.67" height="2.67" fill="#f07b76"/><rect x="447.3" y="630.8" width="2.67" height="2.67" fill="#f07b76"/><circle cx="412.5" cy="633.0" r="1.45" fill="#f07b76"/><rect x="404.4" y="626.2" width="2.67" height="2.67" fill="#f07b76"/><circle cx="419.7" cy="632.6" r="1.45" fill="#f07b76"/><path d="M431.2 623.8l1.67 2.97h-3.33z" fill="#f07b76"/><path d="M449.5 629.3l1.67 2.97h-3.33z" fill="#f07b76"/><path d="M438.8 627.9l1.67 2.97h-3.33z" fill="#f07b76"/><rect x="418.2" y="627.8" width="2.67" height="2.67" fill="#f07b76"/><path d="M442.7 627.3l1.67 2.97h-3.33z" fill="#f07b76"/><rect x="447.0" y="628.8" width="2.67" height="2.67" fill="#f07b76"/><rect x="423.9" y="627.9" width="2.67" height="2.67" fill="#f07b76"/><circle cx="404.0" cy="628.0" r="1.45" fill="#f07b76"/><rect x="439.1" y="632.1" width="2.67" height="2.67" fill="#f07b76"/><path d="M452.8 628.7l1.67 2.97h-3.33z" fill="#f07b76"/><path d="M446.0 630.1l1.67 2.97h-3.33z" fill="#f07b76"/><rect x="401.5" y="626.5" width="2.67" height="2.67" fill="#f07b76"/><circle cx="439.5" cy="629.0" r="1.45" fill="#f07b76"/><path d="M431.3 630.3l1.67 2.97h-3.33z" fill="#f07b76"/><circle cx="423.0" cy="631.6" r="1.45" fill="#f07b76"/><rect x="423.8" y="626.9" width="2.67" height="2.67" fill="#f07b76"/><path d="M415.4 629.2l1.67 2.97h-3.33z" fill="#f07b76"/><rect x="410.9" y="629.1" width="2.67" height="2.67" fill="#f07b76"/><circle cx="436.5" cy="631.7" r="1.45" fill="#f07b76"/><circle cx="428.7" cy="629.0" r="1.45" fill="#f07b76"/><path d="M432.0 629.4l1.67 2.97h-3.33z" fill="#f07b76"/><rect x="398.7" y="626.4" width="2.67" height="2.67" fill="#f07b76"/><path d="M434.5 625.7l1.67 2.97h-3.33z" fill="#f07b76"/><path d="M468.5 629.9l1.67 2.97h-3.33z" fill="#f07b76"/><circle cx="402.3" cy="627.1" r="1.45" fill="#f07b76"/><circle cx="431.3" cy="630.7" r="1.45" fill="#f07b76"/><rect x="427.4" y="629.9" width="2.67" height="2.67" fill="#f07b76"/><circle cx="435.9" cy="633.2" r="1.45" fill="#f07b76"/><circle cx="447.2" cy="631.8" r="1.45" fill="#f07b76"/><rect x="412.8" y="625.2" width="2.67" height="2.67" fill="#f07b76"/><circle cx="451.1" cy="627.5" r="1.45" fill="#f07b76"/><rect x="444.3" y="631.0" width="2.67" height="2.67" fill="#f07b76"/><rect x="420.4" y="628.6" width="2.67" height="2.67" fill="#f07b76"/><rect x="443.8" y="629.1" width="2.67" height="2.67" fill="#f07b76"/><rect x="458.4" y="630.3" width="2.67" height="2.67" fill="#f07b76"/><circle cx="465.1" cy="633.0" r="1.45" fill="#f07b76"/><path d="M424.7 631.5l1.67 2.97h-3.33z" fill="#f07b76"/><rect x="449.4" y="631.1" width="2.67" height="2.67" fill="#f07b76"/><circle cx="429.9" cy="631.8" r="1.45" fill="#f07b76"/><rect x="409.5" y="628.6" width="2.67" height="2.67" fill="#f07b76"/><circle cx="456.9" cy="632.3" r="1.45" fill="#f07b76"/><circle cx="450.3" cy="632.8" r="1.45" fill="#f07b76"/><circle cx="424.3" cy="629.7" r="1.45" fill="#f07b76"/><rect x="435.3" y="630.8" width="2.67" height="2.67" fill="#f07b76"/><path d="M420.0 630.7l1.67 2.97h-3.33z" fill="#f07b76"/><rect x="477.5" y="631.2" width="2.67" height="2.67" fill="#f07b76"/><path d="M417.6 628.1l1.67 2.97h-3.33z" fill="#f07b76"/><circle cx="432.6" cy="629.8" r="1.45" fill="#f07b76"/><path d="M453.3 628.1l1.67 2.97h-3.33z" fill="#f07b76"/><circle cx="428.2" cy="633.0" r="1.45" fill="#f07b76"/><circle cx="454.2" cy="632.3" r="1.45" fill="#f07b76"/><circle cx="437.9" cy="633.0" r="1.45" fill="#f07b76"/><rect x="428.0" y="628.7" width="2.67" height="2.67" fill="#f07b76"/><path d="M431.2 631.1l1.67 2.97h-3.33z" fill="#f07b76"/><circle cx="381.3" cy="632.4" r="1.45" fill="#f07b76"/><rect x="453.1" y="628.0" width="2.67" height="2.67" fill="#f07b76"/><path d="M445.9 631.3l1.67 2.97h-3.33z" fill="#f07b76"/><rect x="438.9" y="630.8" width="2.67" height="2.67" fill="#f07b76"/><rect x="433.9" y="628.8" width="2.67" height="2.67" fill="#f07b76"/><circle cx="405.1" cy="626.3" r="1.45" fill="#f07b76"/><path d="M432.2 628.6l1.67 2.97h-3.33z" fill="#f07b76"/><circle cx="407.4" cy="629.9" r="1.45" fill="#f07b76"/><rect x="414.6" y="622.5" width="2.67" height="2.67" fill="#f07b76"/><rect x="399.1" y="627.8" width="2.67" height="2.67" fill="#f07b76"/><circle cx="420.6" cy="631.7" r="1.45" fill="#f07b76"/><path d="M455.3 629.7l1.67 2.97h-3.33z" fill="#f07b76"/><circle cx="440.7" cy="632.3" r="1.45" fill="#f07b76"/><path d="M406.6 626.3l1.67 2.97h-3.33z" fill="#f07b76"/><path d="M407.7 629.2l1.67 2.97h-3.33z" fill="#f07b76"/><circle cx="456.4" cy="631.3" r="1.45" fill="#f07b76"/><rect x="422.0" y="631.6" width="2.67" height="2.67" fill="#f07b76"/><rect x="449.4" y="630.1" width="2.67" height="2.67" fill="#f07b76"/><path d="M470.5 629.8l1.67 2.97h-3.33z" fill="#f07b76"/><path d="M454.6 629.8l1.67 2.97h-3.33z" fill="#f07b76"/><rect x="401.5" y="627.4" width="2.67" height="2.67" fill="#f07b76"/><circle cx="373.0" cy="615.1" r="1.45" fill="#f07b76"/><rect x="467.6" y="631.2" width="2.67" height="2.67" fill="#f07b76"/><circle cx="395.3" cy="629.8" r="1.45" fill="#f07b76"/><path d="M393.8 625.9l1.67 2.97h-3.33z" fill="#f07b76"/><path d="M415.6 624.1l1.67 2.97h-3.33z" fill="#f07b76"/><rect x="419.1" y="629.6" width="2.67" height="2.67" fill="#f07b76"/><rect x="442.6" y="631.7" width="2.67" height="2.67" fill="#f07b76"/><rect x="410.9" y="628.7" width="2.67" height="2.67" fill="#f07b76"/><circle cx="407.0" cy="631.6" r="1.45" fill="#f07b76"/><rect x="448.6" y="630.8" width="2.67" height="2.67" fill="#f07b76"/><rect x="403.9" y="630.7" width="2.67" height="2.67" fill="#f07b76"/><circle cx="394.4" cy="622.7" r="1.45" fill="#f07b76"/><path d="M430.9 628.9l1.67 2.97h-3.33z" fill="#f07b76"/><path d="M458.2 629.2l1.67 2.97h-3.33z" fill="#f07b76"/><path d="M429.9 628.7l1.67 2.97h-3.33z" fill="#f07b76"/><circle cx="388.9" cy="624.8" r="1.45" fill="#f07b76"/><rect x="427.2" y="629.7" width="2.67" height="2.67" fill="#f07b76"/><circle cx="456.2" cy="632.7" r="1.45" fill="#f07b76"/><path d="M411.2 629.4l1.67 2.97h-3.33z" fill="#f07b76"/><path d="M389.0 627.2l1.67 2.97h-3.33z" fill="#f07b76"/><path d="M428.2 626.7l1.67 2.97h-3.33z" fill="#f07b76"/><rect x="375.0" y="621.0" width="2.67" height="2.67" fill="#f07b76"/><circle cx="441.3" cy="632.1" r="1.45" fill="#f07b76"/><rect x="446.3" y="631.5" width="2.67" height="2.67" fill="#f07b76"/><circle cx="433.0" cy="628.8" r="1.45" fill="#f07b76"/><rect x="399.4" y="629.2" width="2.67" height="2.67" fill="#f07b76"/><path d="M456.6 631.3l1.67 2.97h-3.33z" fill="#f07b76"/><path d="M463.5 631.0l1.67 2.97h-3.33z" fill="#f07b76"/><path d="M458.7 628.6l1.67 2.97h-3.33z" fill="#f07b76"/><rect x="418.3" y="627.8" width="2.67" height="2.67" fill="#f07b76"/><path d="M442.3 630.0l1.67 2.97h-3.33z" fill="#f07b76"/><circle cx="412.3" cy="632.3" r="1.45" fill="#f07b76"/><circle cx="460.2" cy="632.2" r="1.45" fill="#f07b76"/><path d="M418.8 625.0l1.67 2.97h-3.33z" fill="#f07b76"/><circle cx="399.4" cy="627.9" r="1.45" fill="#f07b76"/><path d="M424.1 626.8l1.67 2.97h-3.33z" fill="#f07b76"/><path d="M443.4 629.3l1.67 2.97h-3.33z" fill="#f07b76"/><circle cx="427.0" cy="630.8" r="1.45" fill="#f07b76"/><rect x="424.0" y="628.6" width="2.67" height="2.67" fill="#f07b76"/><circle cx="405.4" cy="628.8" r="1.45" fill="#f07b76"/><circle cx="431.5" cy="623.7" r="1.45" fill="#f07b76"/><path d="M427.1 628.0l1.67 2.97h-3.33z" fill="#f07b76"/><rect x="429.8" y="629.4" width="2.67" height="2.67" fill="#f07b76"/><path d="M425.4 628.4l1.67 2.97h-3.33z" fill="#f07b76"/><circle cx="427.3" cy="629.8" r="1.45" fill="#f07b76"/><rect x="407.3" y="626.9" width="2.67" height="2.67" fill="#f07b76"/><circle cx="474.4" cy="631.5" r="1.45" fill="#f07b76"/><path d="M388.6 622.7l1.67 2.97h-3.33z" fill="#f07b76"/><path d="M434.8 628.4l1.67 2.97h-3.33z" fill="#f07b76"/><path d="M458.1 631.5l1.67 2.97h-3.33z" fill="#f07b76"/><circle cx="385.8" cy="624.1" r="1.45" fill="#f07b76"/><rect x="385.7" y="624.8" width="2.67" height="2.67" fill="#f07b76"/><path d="M447.2 626.5l1.67 2.97h-3.33z" fill="#f07b76"/><circle cx="455.8" cy="632.8" r="1.45" fill="#f07b76"/><rect x="417.7" y="626.5" width="2.67" height="2.67" fill="#f07b76"/><circle cx="415.3" cy="633.4" r="1.45" fill="#f07b76"/><circle cx="414.3" cy="629.3" r="1.45" fill="#f07b76"/><path d="M396.7 627.0l1.67 2.97h-3.33z" fill="#f07b76"/><path d="M412.8 625.2l1.67 2.97h-3.33z" fill="#f07b76"/><circle cx="450.9" cy="632.6" r="1.45" fill="#f07b76"/><circle cx="420.6" cy="628.1" r="1.45" fill="#f07b76"/><rect x="436.5" y="632.1" width="2.67" height="2.67" fill="#f07b76"/><path d="M448.8 630.5l1.67 2.97h-3.33z" fill="#f07b76"/><rect x="410.8" y="629.4" width="2.67" height="2.67" fill="#f07b76"/><circle cx="419.2" cy="628.5" r="1.45" fill="#f07b76"/><path d="M433.1 629.7l1.67 2.97h-3.33z" fill="#f07b76"/><path d="M408.5 626.9l1.67 2.97h-3.33z" fill="#f07b76"/><circle cx="431.0" cy="631.9" r="1.45" fill="#f07b76"/><rect x="443.1" y="630.8" width="2.67" height="2.67" fill="#f07b76"/><path d="M429.4 630.1l1.67 2.97h-3.33z" fill="#f07b76"/><rect x="386.0" y="624.5" width="2.67" height="2.67" fill="#f07b76"/><circle cx="435.5" cy="632.0" r="1.45" fill="#f07b76"/><path d="M423.7 630.2l1.67 2.97h-3.33z" fill="#f07b76"/><rect x="426.6" y="627.5" width="2.67" height="2.67" fill="#f07b76"/><path d="M399.5 625.3l1.67 2.97h-3.33z" fill="#f07b76"/><circle cx="430.1" cy="626.5" r="1.45" fill="#f07b76"/><rect x="424.4" y="629.1" width="2.67" height="2.67" fill="#f07b76"/><rect x="412.8" y="626.1" width="2.67" height="2.67" fill="#f07b76"/><circle cx="409.4" cy="630.5" r="1.45" fill="#f07b76"/><path d="M424.3 625.9l1.67 2.97h-3.33z" fill="#f07b76"/><rect x="379.8" y="619.4" width="2.67" height="2.67" fill="#f07b76"/><path d="M434.3 625.4l1.67 2.97h-3.33z" fill="#f07b76"/><rect x="414.3" y="631.4" width="2.67" height="2.67" fill="#f07b76"/><circle cx="453.8" cy="632.7" r="1.45" fill="#f07b76"/><path d="M382.6 629.6l1.67 2.97h-3.33z" fill="#f07b76"/><path d="M416.2 625.0l1.67 2.97h-3.33z" fill="#f07b76"/><rect x="434.1" y="626.6" width="2.67" height="2.67" fill="#f07b76"/><path d="M434.6 629.7l1.67 2.97h-3.33z" fill="#f07b76"/><rect x="416.1" y="630.1" width="2.67" height="2.67" fill="#f07b76"/><circle cx="452.0" cy="632.7" r="1.45" fill="#f07b76"/><path d="M416.5 629.7l1.67 2.97h-3.33z" fill="#f07b76"/><rect x="439.4" y="630.9" width="2.67" height="2.67" fill="#f07b76"/><rect x="425.6" y="630.5" width="2.67" height="2.67" fill="#f07b76"/><path d="M421.7 626.4l1.67 2.97h-3.33z" fill="#f07b76"/><rect x="407.6" y="621.0" width="2.67" height="2.67" fill="#f07b76"/><circle cx="411.2" cy="629.6" r="1.45" fill="#f07b76"/><circle cx="414.4" cy="627.4" r="1.45" fill="#f07b76"/><rect x="434.9" y="625.8" width="2.67" height="2.67" fill="#f07b76"/><path d="M413.4 623.5l1.67 2.97h-3.33z" fill="#f07b76"/><rect x="400.9" y="627.7" width="2.67" height="2.67" fill="#f07b76"/><path d="M442.7 628.4l1.67 2.97h-3.33z" fill="#f07b76"/><circle cx="431.4" cy="627.3" r="1.45" fill="#f07b76"/><path d="M441.4 626.9l1.67 2.97h-3.33z" fill="#f07b76"/><path d="M430.0 625.1l1.67 2.97h-3.33z" fill="#f07b76"/><path d="M469.2 631.6l1.67 2.97h-3.33z" fill="#f07b76"/><circle cx="446.1" cy="631.4" r="1.45" fill="#f07b76"/><circle cx="435.7" cy="628.8" r="1.45" fill="#f07b76"/><circle cx="440.1" cy="631.4" r="1.45" fill="#f07b76"/><path d="M452.3 625.2l1.67 2.97h-3.33z" fill="#f07b76"/><rect x="430.6" y="621.9" width="2.67" height="2.67" fill="#f07b76"/><circle cx="445.9" cy="632.7" r="1.45" fill="#f07b76"/><path d="M423.2 629.5l1.67 2.97h-3.33z" fill="#f07b76"/><circle cx="466.4" cy="632.5" r="1.45" fill="#f07b76"/><path d="M424.1 627.5l1.67 2.97h-3.33z" fill="#f07b76"/><path d="M444.3 627.1l1.67 2.97h-3.33z" fill="#f07b76"/><path d="M420.1 622.5l1.67 2.97h-3.33z" fill="#f07b76"/><rect x="422.8" y="630.2" width="2.67" height="2.67" fill="#f07b76"/><path d="M445.1 629.7l1.67 2.97h-3.33z" fill="#f07b76"/><rect x="382.7" y="622.5" width="2.67" height="2.67" fill="#f07b76"/><rect x="423.0" y="629.9" width="2.67" height="2.67" fill="#f07b76"/><path d="M395.4 624.4l1.67 2.97h-3.33z" fill="#f07b76"/><circle cx="443.2" cy="633.4" r="1.45" fill="#f07b76"/><circle cx="440.8" cy="630.4" r="1.45" fill="#f07b76"/><circle cx="417.6" cy="629.9" r="1.45" fill="#f07b76"/><path d="M448.7 628.9l1.67 2.97h-3.33z" fill="#f07b76"/><rect x="379.2" y="628.0" width="2.67" height="2.67" fill="#f07b76"/><rect x="424.6" y="630.4" width="2.67" height="2.67" fill="#f07b76"/><rect x="448.8" y="631.2" width="2.67" height="2.67" fill="#f07b76"/><circle cx="461.9" cy="633.0" r="1.45" fill="#f07b76"/><path d="M442.1 631.4l1.67 2.97h-3.33z" fill="#f07b76"/><rect x="463.8" y="631.4" width="2.67" height="2.67" fill="#f07b76"/><circle cx="438.6" cy="629.9" r="1.45" fill="#f07b76"/><rect x="423.8" y="629.3" width="2.67" height="2.67" fill="#f07b76"/><rect x="435.1" y="629.1" width="2.67" height="2.67" fill="#f07b76"/><path d="M438.2 629.3l1.67 2.97h-3.33z" fill="#f07b76"/><path d="M441.1 625.2l1.67 2.97h-3.33z" fill="#f07b76"/><path d="M441.5 630.1l1.67 2.97h-3.33z" fill="#f07b76"/><circle cx="392.7" cy="628.0" r="1.45" fill="#f07b76"/><circle cx="416.2" cy="627.5" r="1.45" fill="#f07b76"/><circle cx="432.6" cy="630.4" r="1.45" fill="#f07b76"/><circle cx="409.8" cy="628.4" r="1.45" fill="#f07b76"/><circle cx="423.4" cy="628.9" r="1.45" fill="#f07b76"/><circle cx="398.7" cy="630.4" r="1.45" fill="#f07b76"/><path d="M426.0 630.6l1.67 2.97h-3.33z" fill="#f07b76"/><path d="M452.4 630.9l1.67 2.97h-3.33z" fill="#f07b76"/><circle cx="429.7" cy="628.3" r="1.45" fill="#f07b76"/><circle cx="448.3" cy="625.0" r="1.45" fill="#f07b76"/><circle cx="424.1" cy="632.1" r="1.45" fill="#f07b76"/><circle cx="408.7" cy="628.0" r="1.45" fill="#f07b76"/><path d="M431.3 631.3l1.67 2.97h-3.33z" fill="#f07b76"/><circle cx="384.7" cy="627.3" r="1.45" fill="#f07b76"/><rect x="408.3" y="626.9" width="2.67" height="2.67" fill="#f07b76"/><path d="M419.9 627.8l1.67 2.97h-3.33z" fill="#f07b76"/><rect x="412.8" y="630.7" width="2.67" height="2.67" fill="#f07b76"/><path d="M437.1 629.8l1.67 2.97h-3.33z" fill="#f07b76"/><rect x="407.6" y="622.7" width="2.67" height="2.67" fill="#f07b76"/><path d="M450.3 629.6l1.67 2.97h-3.33z" fill="#f07b76"/><rect x="446.7" y="631.3" width="2.67" height="2.67" fill="#f07b76"/><path d="M430.8 628.4l1.67 2.97h-3.33z" fill="#f07b76"/><rect x="410.4" y="629.7" width="2.67" height="2.67" fill="#f07b76"/><path d="M400.0 627.6l1.67 2.97h-3.33z" fill="#f07b76"/><circle cx="443.0" cy="631.8" r="1.45" fill="#f07b76"/><rect x="420.0" y="628.7" width="2.67" height="2.67" fill="#f07b76"/><rect x="447.6" y="630.8" width="2.67" height="2.67" fill="#f07b76"/><path d="M462.3 629.5l1.67 2.97h-3.33z" fill="#f07b76"/><rect x="404.2" y="630.4" width="2.67" height="2.67" fill="#f07b76"/><rect x="424.8" y="631.0" width="2.67" height="2.67" fill="#f07b76"/><rect x="414.4" y="625.9" width="2.67" height="2.67" fill="#f07b76"/><path d="M433.5 629.8l1.67 2.97h-3.33z" fill="#f07b76"/><path d="M417.4 628.3l1.67 2.97h-3.33z" fill="#f07b76"/><circle cx="420.3" cy="630.9" r="1.45" fill="#f07b76"/><circle cx="436.9" cy="631.8" r="1.45" fill="#f07b76"/><circle cx="452.4" cy="633.4" r="1.45" fill="#f07b76"/><rect x="440.5" y="629.7" width="2.67" height="2.67" fill="#f07b76"/><rect x="468.6" y="631.4" width="2.67" height="2.67" fill="#f07b76"/><rect x="410.0" y="629.9" width="2.67" height="2.67" fill="#f07b76"/><path d="M447.9 629.6l1.67 2.97h-3.33z" fill="#f07b76"/><circle cx="409.3" cy="626.0" r="1.45" fill="#f07b76"/><circle cx="421.7" cy="633.3" r="1.45" fill="#f07b76"/><circle cx="454.5" cy="630.1" r="1.45" fill="#f07b76"/><path d="M440.4 630.4l1.67 2.97h-3.33z" fill="#f07b76"/><rect x="432.5" y="630.2" width="2.67" height="2.67" fill="#f07b76"/><path d="M433.5 628.4l1.67 2.97h-3.33z" fill="#f07b76"/><circle cx="444.3" cy="629.8" r="1.45" fill="#f07b76"/><circle cx="459.2" cy="631.9" r="1.45" fill="#f07b76"/><path d="M443.2 628.4l1.67 2.97h-3.33z" fill="#f07b76"/><path d="M417.7 630.4l1.67 2.97h-3.33z" fill="#f07b76"/><path d="M448.5 631.6l1.67 2.97h-3.33z" fill="#f07b76"/><circle cx="427.5" cy="632.3" r="1.45" fill="#f07b76"/></g>
<path d="M68.3 491.2 L73.3 495.4 L78.3 499.4 L83.3 503.4 L88.3 507.2 L93.3 511.0 L98.3 514.6 L103.3 518.1 L108.3 521.6 L113.3 525.0 L118.3 528.2 L123.3 531.4 L128.3 534.5 L133.3 537.5 L138.3 540.5 L143.4 543.3 L148.4 546.1 L153.4 548.8 L158.4 551.4 L163.4 553.8 L168.4 556.1 L173.4 558.3 L178.4 560.4 L183.4 562.5 L188.4 564.6 L193.4 566.6 L198.4 568.5 L203.4 570.4 L208.4 572.2 L213.4 574.0 L218.4 575.7 L223.4 577.4 L228.4 579.1 L233.4 580.7 L238.4 582.2 L243.4 583.8 L248.4 585.2 L253.4 586.7 L258.4 588.1 L263.4 589.7 L268.4 591.3 L273.4 592.8 L278.4 594.2 L283.4 595.6 L288.4 597.1 L293.5 598.7 L298.5 600.3 L303.5 601.8 L308.5 603.3 L313.5 604.7 L318.5 606.0 L323.5 607.3 L328.5 608.5 L333.5 609.6 L338.5 610.7 L343.5 611.8 L348.5 612.8 L353.5 613.8 L358.5 614.7 L363.5 615.7 L368.5 616.6 L373.5 617.5 L378.5 618.4 L383.5 619.2 L388.5 620.1 L393.5 620.9 L398.5 621.7 L403.5 622.4 L408.5 623.1 L413.5 623.8 L418.5 624.4 L423.5 624.9 L428.5 625.4 L433.5 625.9 L438.5 626.4 L443.6 626.9 L448.6 627.3 L453.6 627.8 L458.6 628.2 L463.6 628.6 L468.6 629.0 L473.6 629.4 L478.6 629.7 L483.6 630.1 L488.6 630.5 L493.6 630.9 L498.6 631.2 L503.6 631.6 L508.6 631.9 L513.6 632.2" fill="none" stroke="#3d6878" stroke-width="1.3"/>
</svg></body></html>
